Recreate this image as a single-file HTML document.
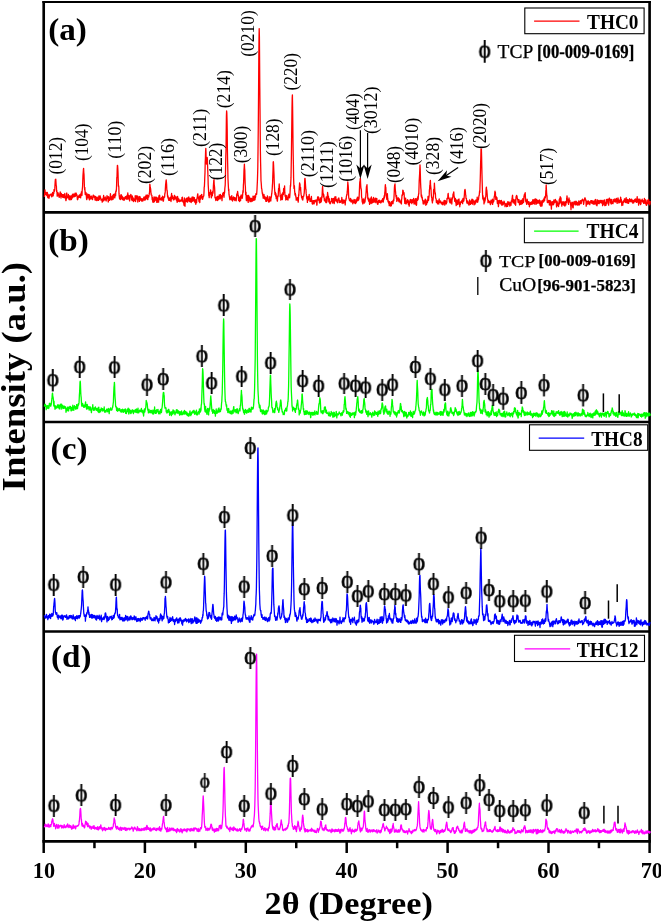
<!DOCTYPE html>
<html lang="en"><head><meta charset="utf-8"><title>XRD patterns</title>
<style>html,body{margin:0;padding:0;background:#fff;}svg{display:block;will-change:transform;}text{font-family:"Liberation Serif","DejaVu Serif",serif;fill:#000;}</style>
</head><body>
<svg width="661" height="923" viewBox="0 0 661 923">
<rect x="0" y="0" width="661" height="923" fill="#fff"/>
<g id="frame" stroke="#000" stroke-width="2.65" fill="none" stroke-linecap="butt">
<line x1="42.38" y1="2.1" x2="650.93" y2="2.1" stroke-width="2.0"/>
<line x1="42.38" y1="841.40" x2="650.93" y2="841.40"/>
<line x1="43.70" y1="1.1" x2="43.70" y2="841.40"/>
<line x1="649.60" y1="1.1" x2="649.60" y2="841.40"/>
<line x1="43.70" y1="212.30" x2="649.60" y2="212.30"/>
<line x1="43.70" y1="422.00" x2="649.60" y2="422.00"/>
<line x1="43.70" y1="631.50" x2="649.60" y2="631.50"/>
<line x1="43.70" y1="841.40" x2="43.70" y2="853.00" stroke-width="2.5"/>
<line x1="94.45" y1="841.40" x2="94.45" y2="848.20" stroke-width="2.5"/>
<line x1="144.90" y1="841.40" x2="144.90" y2="853.00" stroke-width="2.5"/>
<line x1="195.35" y1="841.40" x2="195.35" y2="848.20" stroke-width="2.5"/>
<line x1="245.80" y1="841.40" x2="245.80" y2="853.00" stroke-width="2.5"/>
<line x1="296.25" y1="841.40" x2="296.25" y2="848.20" stroke-width="2.5"/>
<line x1="346.70" y1="841.40" x2="346.70" y2="853.00" stroke-width="2.5"/>
<line x1="397.15" y1="841.40" x2="397.15" y2="848.20" stroke-width="2.5"/>
<line x1="447.60" y1="841.40" x2="447.60" y2="853.00" stroke-width="2.5"/>
<line x1="498.05" y1="841.40" x2="498.05" y2="848.20" stroke-width="2.5"/>
<line x1="548.50" y1="841.40" x2="548.50" y2="853.00" stroke-width="2.5"/>
<line x1="598.95" y1="841.40" x2="598.95" y2="848.20" stroke-width="2.5"/>
<line x1="649.60" y1="841.40" x2="649.60" y2="853.00" stroke-width="2.5"/>
</g>
<g id="curves">
<polyline fill="none" stroke="#ff0000" stroke-width="1.3" stroke-linejoin="round" points="44.4,197.0 44.6,194.2 44.8,192.5 45.0,189.8 45.2,193.2 45.4,193.5 45.6,193.3 45.8,194.7 46.0,194.7 46.2,192.4 46.4,192.4 46.6,193.6 46.8,195.6 47.0,195.3 47.2,192.4 47.4,192.8 47.6,196.2 47.8,197.7 48.0,195.3 48.2,194.4 48.4,196.7 48.6,195.4 48.8,196.9 49.0,198.3 49.2,197.0 49.4,196.0 49.6,196.5 49.8,194.6 50.0,194.8 50.2,194.4 50.4,194.7 50.6,194.4 50.8,194.7 51.0,194.6 51.2,195.2 51.4,195.3 51.6,196.0 51.8,196.8 52.0,193.3 52.2,196.3 52.4,194.4 52.6,192.5 52.8,193.9 53.0,194.9 53.2,195.8 53.4,192.8 53.6,193.9 53.8,193.2 54.0,189.7 54.2,189.6 54.4,191.4 54.6,190.4 54.8,188.4 55.0,184.7 55.2,181.4 55.4,179.4 55.6,180.5 55.8,179.2 56.0,182.6 56.2,185.8 56.4,186.0 56.6,191.5 56.8,190.5 57.0,192.6 57.2,196.2 57.4,192.5 57.6,193.0 57.8,195.9 58.0,192.6 58.2,193.2 58.4,195.1 58.6,195.5 58.8,195.7 59.0,195.8 59.2,197.3 59.4,197.0 59.6,195.8 59.8,193.7 60.0,192.9 60.2,191.8 60.4,194.9 60.6,192.6 60.8,196.5 61.0,198.0 61.2,193.8 61.4,193.6 61.6,194.6 61.8,196.3 62.0,194.3 62.2,194.9 62.4,194.6 62.6,195.5 62.8,197.4 63.0,194.7 63.2,195.8 63.4,196.7 63.6,197.1 63.8,194.7 64.0,197.7 64.2,197.5 64.4,197.8 64.6,196.2 64.8,193.5 65.0,195.1 65.2,197.6 65.4,196.8 65.6,197.0 65.8,200.1 66.0,200.7 66.2,197.9 66.4,199.1 66.6,193.4 66.8,193.0 67.0,197.3 67.2,196.7 67.4,197.7 67.6,197.7 67.8,197.0 68.0,197.9 68.2,196.8 68.4,194.5 68.6,196.8 68.8,197.8 69.0,199.5 69.2,195.7 69.4,196.5 69.6,196.3 69.8,197.2 70.0,199.8 70.2,198.1 70.4,196.5 70.6,197.4 70.8,198.0 71.0,195.6 71.2,196.8 71.4,199.7 71.6,198.9 71.8,197.0 72.0,196.1 72.2,196.0 72.4,194.5 72.6,197.8 72.8,197.4 73.0,196.3 73.2,194.0 73.4,194.7 73.6,196.6 73.8,196.2 74.0,195.0 74.2,196.4 74.4,196.7 74.6,194.2 74.8,193.7 75.0,193.1 75.2,193.1 75.4,196.1 75.6,196.2 75.8,195.4 76.0,193.1 76.2,193.2 76.4,194.8 76.6,194.9 76.8,195.5 77.0,194.9 77.2,197.3 77.4,199.6 77.6,199.7 77.8,199.3 78.0,197.2 78.2,197.7 78.4,196.3 78.6,197.6 78.8,195.9 79.0,195.3 79.2,195.4 79.4,197.4 79.6,197.1 79.8,196.3 80.0,194.4 80.2,195.5 80.4,194.2 80.6,197.8 80.8,196.1 81.0,195.8 81.2,194.7 81.4,191.9 81.6,191.8 81.8,194.0 82.0,195.3 82.2,190.2 82.4,188.2 82.6,186.1 82.8,179.7 83.0,175.0 83.2,172.6 83.4,169.7 83.6,168.3 83.8,172.6 84.0,174.3 84.2,179.8 84.4,186.7 84.6,189.8 84.8,187.4 85.0,191.0 85.2,194.5 85.4,191.9 85.6,192.4 85.8,192.4 86.0,192.6 86.2,193.8 86.4,196.6 86.6,199.2 86.8,199.6 87.0,196.8 87.2,193.8 87.4,196.4 87.6,196.9 87.8,197.9 88.0,196.8 88.2,194.8 88.4,197.1 88.6,194.3 88.8,196.1 89.0,198.3 89.2,199.1 89.4,199.9 89.6,194.8 89.8,198.0 90.0,199.2 90.2,197.9 90.4,198.6 90.6,196.6 90.8,198.8 91.0,198.6 91.2,196.1 91.4,196.2 91.6,196.8 91.8,196.6 92.0,198.8 92.2,198.3 92.4,199.7 92.6,199.4 92.8,197.4 93.0,196.4 93.2,195.1 93.4,195.1 93.6,195.5 93.8,197.0 94.0,195.7 94.2,197.0 94.4,197.3 94.6,196.4 94.8,197.2 95.0,200.0 95.2,200.1 95.4,196.5 95.6,196.7 95.8,196.7 96.0,197.4 96.2,200.1 96.4,199.5 96.6,200.3 96.8,200.6 97.0,197.4 97.2,197.2 97.4,198.0 97.6,199.3 97.8,198.1 98.0,199.1 98.2,200.3 98.4,200.3 98.6,198.8 98.8,196.4 99.0,195.8 99.2,199.7 99.4,199.1 99.6,196.9 99.8,197.3 100.0,197.2 100.2,196.0 100.4,198.4 100.6,197.6 100.8,198.5 101.0,200.1 101.2,199.3 101.4,200.0 101.6,199.9 101.8,199.3 102.0,199.8 102.2,202.1 102.4,200.0 102.6,201.5 102.8,198.6 103.0,200.3 103.2,199.6 103.4,197.4 103.6,195.5 103.8,200.8 104.0,197.8 104.2,197.6 104.4,199.3 104.6,199.6 104.8,199.7 105.0,198.5 105.2,197.0 105.4,199.8 105.6,198.0 105.8,199.3 106.0,200.4 106.2,201.0 106.4,198.9 106.6,198.3 106.8,197.9 107.0,195.7 107.2,196.8 107.4,196.8 107.6,196.9 107.8,198.9 108.0,199.1 108.2,202.0 108.4,201.4 108.6,196.6 108.8,198.3 109.0,197.6 109.2,199.5 109.4,199.5 109.6,200.3 109.8,199.6 110.0,199.7 110.2,197.3 110.4,193.7 110.6,195.1 110.8,196.0 111.0,196.4 111.2,196.5 111.4,199.9 111.6,198.3 111.8,199.4 112.0,197.9 112.2,199.6 112.4,196.1 112.6,197.4 112.8,195.3 113.0,197.9 113.2,199.1 113.4,194.4 113.6,194.8 113.8,196.6 114.0,195.7 114.2,194.3 114.4,197.5 114.6,196.7 114.8,197.9 115.0,195.9 115.2,193.1 115.4,193.9 115.6,195.7 115.8,191.2 116.0,190.9 116.2,191.3 116.4,189.7 116.6,185.0 116.8,177.5 117.0,176.9 117.2,169.2 117.4,165.4 117.6,165.5 117.8,168.2 118.0,172.3 118.2,179.3 118.4,186.3 118.6,185.7 118.8,186.8 119.0,193.4 119.2,195.6 119.4,197.4 119.6,198.9 119.8,195.9 120.0,197.0 120.2,198.2 120.4,199.6 120.6,199.0 120.8,195.8 121.0,194.7 121.2,195.9 121.4,195.0 121.6,198.5 121.8,197.0 122.0,196.4 122.2,196.3 122.4,199.7 122.6,198.3 122.8,197.1 123.0,198.4 123.2,197.9 123.4,199.1 123.6,200.0 123.8,198.0 124.0,198.8 124.2,199.2 124.4,200.1 124.6,199.3 124.8,198.0 125.0,197.1 125.2,197.9 125.4,196.6 125.6,198.7 125.8,198.4 126.0,198.6 126.2,197.0 126.4,196.1 126.6,196.5 126.8,199.3 127.0,197.8 127.2,196.8 127.4,194.9 127.6,196.1 127.8,192.8 128.0,199.0 128.2,198.1 128.4,197.6 128.6,195.5 128.8,196.2 129.0,198.8 129.2,198.3 129.4,199.4 129.6,200.9 129.8,199.4 130.0,195.5 130.2,196.1 130.4,196.3 130.6,196.3 130.8,194.5 131.0,194.7 131.2,196.8 131.4,197.9 131.6,199.4 131.8,199.0 132.0,200.5 132.2,196.0 132.4,196.2 132.6,198.8 132.8,198.3 133.0,197.6 133.2,200.3 133.4,201.5 133.6,201.5 133.8,198.9 134.0,199.1 134.2,199.5 134.4,199.6 134.6,200.6 134.8,198.7 135.0,198.7 135.2,195.7 135.4,199.8 135.6,201.5 135.8,199.4 136.0,199.6 136.2,195.9 136.4,196.8 136.6,195.8 136.8,198.4 137.0,198.7 137.2,195.9 137.4,196.3 137.6,197.9 137.8,202.0 138.0,199.1 138.2,198.8 138.4,199.3 138.6,199.2 138.8,198.0 139.0,196.4 139.2,197.9 139.4,201.4 139.6,199.8 139.8,198.1 140.0,196.7 140.2,198.6 140.4,198.9 140.6,198.4 140.8,200.2 141.0,198.5 141.2,199.0 141.4,200.6 141.6,200.2 141.8,201.0 142.0,199.1 142.2,198.6 142.4,199.8 142.6,200.0 142.8,201.2 143.0,200.1 143.2,199.2 143.4,199.8 143.6,199.7 143.8,197.1 144.0,198.0 144.2,198.4 144.4,200.2 144.6,198.4 144.8,199.5 145.0,196.6 145.2,198.1 145.4,199.8 145.6,198.5 145.8,199.3 146.0,195.2 146.2,197.6 146.4,198.4 146.6,197.5 146.8,195.9 147.0,198.0 147.2,194.9 147.4,199.0 147.6,199.2 147.8,199.7 148.0,197.5 148.2,195.7 148.4,196.1 148.6,196.2 148.8,197.0 149.0,195.0 149.2,194.4 149.4,193.2 149.6,191.4 149.8,184.2 150.0,184.7 150.2,187.2 150.4,188.5 150.6,188.5 150.8,190.8 151.0,193.2 151.2,194.9 151.4,194.9 151.6,195.1 151.8,195.1 152.0,197.1 152.2,199.7 152.4,197.3 152.6,200.1 152.8,201.9 153.0,200.2 153.2,202.4 153.4,199.7 153.6,201.4 153.8,198.8 154.0,196.9 154.2,199.6 154.4,201.8 154.6,198.7 154.8,199.1 155.0,197.1 155.2,197.2 155.4,199.2 155.6,198.9 155.8,200.1 156.0,200.7 156.2,197.1 156.4,197.3 156.6,199.4 156.8,202.4 157.0,198.9 157.2,198.0 157.4,200.0 157.6,202.1 157.8,198.4 158.0,198.1 158.2,199.0 158.4,200.7 158.6,202.2 158.8,196.9 159.0,195.7 159.2,198.6 159.4,198.9 159.6,195.1 159.8,197.3 160.0,199.8 160.2,198.2 160.4,199.1 160.6,199.1 160.8,199.6 161.0,199.3 161.2,199.2 161.4,200.0 161.6,197.6 161.8,198.4 162.0,199.6 162.2,197.2 162.4,196.8 162.6,196.2 162.8,196.7 163.0,200.9 163.2,199.8 163.4,201.1 163.6,199.4 163.8,197.7 164.0,196.9 164.2,197.3 164.4,196.9 164.6,197.1 164.8,193.7 165.0,193.4 165.2,191.9 165.4,188.0 165.6,184.7 165.8,183.0 166.0,181.0 166.2,179.9 166.4,181.7 166.6,184.3 166.8,189.1 167.0,190.6 167.2,190.5 167.4,194.1 167.6,197.0 167.8,197.0 168.0,196.0 168.2,198.5 168.4,199.0 168.6,199.4 168.8,200.4 169.0,198.0 169.2,198.7 169.4,198.1 169.6,199.9 169.8,200.4 170.0,199.5 170.2,199.2 170.4,197.2 170.6,198.4 170.8,197.0 171.0,201.5 171.2,200.0 171.4,194.9 171.6,193.5 171.8,198.8 172.0,197.0 172.2,198.0 172.4,195.9 172.6,197.3 172.8,196.9 173.0,198.4 173.2,197.9 173.4,199.9 173.6,197.6 173.8,199.8 174.0,198.6 174.2,198.5 174.4,195.3 174.6,195.4 174.8,199.2 175.0,196.9 175.2,197.7 175.4,198.0 175.6,197.5 175.8,198.7 176.0,196.6 176.2,197.2 176.4,200.2 176.6,198.7 176.8,200.6 177.0,201.3 177.2,202.3 177.4,200.1 177.6,196.5 177.8,197.7 178.0,199.0 178.2,201.4 178.4,200.3 178.6,198.9 178.8,199.9 179.0,199.2 179.2,200.4 179.4,200.4 179.6,201.6 179.8,200.9 180.0,201.5 180.2,200.4 180.4,201.0 180.6,200.2 180.8,201.2 181.0,200.7 181.2,200.0 181.4,199.6 181.6,200.0 181.8,200.4 182.0,197.4 182.2,201.1 182.4,197.2 182.6,199.6 182.8,200.4 183.0,202.0 183.2,201.5 183.4,201.0 183.6,201.4 183.8,203.4 184.0,205.3 184.2,201.8 184.4,197.8 184.6,200.0 184.8,202.7 185.0,206.3 185.2,200.7 185.4,200.2 185.6,201.6 185.8,200.9 186.0,198.8 186.2,201.0 186.4,198.3 186.6,199.6 186.8,201.6 187.0,198.1 187.2,199.4 187.4,202.2 187.6,199.5 187.8,197.8 188.0,198.8 188.2,200.5 188.4,197.4 188.6,197.9 188.8,197.0 189.0,198.1 189.2,201.7 189.4,200.2 189.6,199.5 189.8,200.4 190.0,198.7 190.2,198.3 190.4,201.8 190.6,201.5 190.8,199.0 191.0,201.2 191.2,202.5 191.4,201.1 191.6,200.2 191.8,197.7 192.0,198.3 192.2,196.8 192.4,200.6 192.6,200.0 192.8,201.3 193.0,198.9 193.2,200.2 193.4,197.1 193.6,198.6 193.8,200.5 194.0,200.5 194.2,199.3 194.4,197.6 194.6,201.8 194.8,201.9 195.0,202.5 195.2,202.2 195.4,200.0 195.6,201.5 195.8,204.3 196.0,199.7 196.2,200.2 196.4,199.8 196.6,202.6 196.8,200.3 197.0,197.8 197.2,197.8 197.4,196.2 197.6,194.3 197.8,193.8 198.0,196.7 198.2,197.1 198.4,198.6 198.6,197.7 198.8,199.6 199.0,201.5 199.2,197.1 199.4,196.7 199.6,200.7 199.8,202.6 200.0,197.4 200.2,195.4 200.4,197.3 200.6,197.9 200.8,199.0 201.0,196.6 201.2,197.2 201.4,196.8 201.6,194.5 201.8,194.6 202.0,197.8 202.2,198.0 202.4,196.4 202.6,199.4 202.8,198.7 203.0,197.4 203.2,197.0 203.4,196.3 203.6,196.3 203.8,195.5 204.0,192.2 204.2,187.0 204.4,186.6 204.6,182.1 204.8,176.7 205.0,172.5 205.2,162.2 205.4,158.5 205.6,151.3 205.8,148.3 206.0,152.3 206.2,162.1 206.4,164.0 206.6,162.1 206.8,163.6 207.0,162.8 207.2,157.3 207.4,159.5 207.6,166.3 207.8,171.5 208.0,176.6 208.2,184.8 208.4,187.7 208.6,191.3 208.8,195.6 209.0,194.8 209.2,197.7 209.4,194.5 209.6,192.8 209.8,193.1 210.0,194.0 210.2,193.5 210.4,192.5 210.6,190.0 210.8,191.3 211.0,194.1 211.2,197.0 211.4,197.8 211.6,192.6 211.8,195.1 212.0,195.4 212.2,195.8 212.4,195.5 212.6,192.8 212.8,191.1 213.0,193.1 213.2,190.7 213.4,185.8 213.6,183.1 213.8,180.2 214.0,179.6 214.2,184.6 214.4,185.7 214.6,187.7 214.8,191.9 215.0,197.7 215.2,197.9 215.4,198.2 215.6,198.8 215.8,200.5 216.0,200.2 216.2,197.3 216.4,198.3 216.6,198.3 216.8,199.6 217.0,198.7 217.2,196.3 217.4,200.5 217.6,199.3 217.8,196.5 218.0,200.1 218.2,199.4 218.4,199.3 218.6,198.6 218.8,198.4 219.0,196.8 219.2,194.9 219.4,196.5 219.6,198.1 219.8,198.3 220.0,199.1 220.2,197.3 220.4,194.4 220.6,198.2 220.8,196.4 221.0,195.3 221.2,196.4 221.4,195.6 221.6,197.6 221.8,197.0 222.0,200.6 222.2,197.6 222.4,196.3 222.6,195.4 222.8,193.1 223.0,194.6 223.2,195.1 223.4,195.0 223.6,192.3 223.8,195.5 224.0,197.3 224.2,194.1 224.4,193.4 224.6,192.6 224.8,188.9 225.0,186.8 225.2,185.2 225.4,178.0 225.6,166.8 225.8,156.2 226.0,150.4 226.2,133.5 226.4,116.2 226.6,110.9 226.8,112.5 227.0,119.0 227.2,129.4 227.4,149.5 227.6,161.0 227.8,169.8 228.0,178.8 228.2,183.1 228.4,187.0 228.6,190.8 228.8,189.1 229.0,194.4 229.2,195.5 229.4,196.7 229.6,197.9 229.8,199.5 230.0,199.8 230.2,198.8 230.4,197.1 230.6,198.4 230.8,196.9 231.0,196.4 231.2,198.8 231.4,199.5 231.6,199.9 231.8,195.6 232.0,199.2 232.2,200.1 232.4,199.7 232.6,201.0 232.8,197.9 233.0,198.9 233.2,198.2 233.4,198.2 233.6,196.9 233.8,198.2 234.0,199.6 234.2,198.9 234.4,198.7 234.6,197.7 234.8,200.5 235.0,197.7 235.2,198.4 235.4,199.3 235.6,198.5 235.8,199.5 236.0,199.2 236.2,200.8 236.4,198.7 236.6,196.8 236.8,194.0 237.0,194.8 237.2,195.0 237.4,193.3 237.6,191.3 237.8,192.6 238.0,194.6 238.2,195.8 238.4,195.5 238.6,200.5 238.8,198.7 239.0,198.5 239.2,197.9 239.4,199.1 239.6,201.5 239.8,197.5 240.0,197.0 240.2,196.4 240.4,197.7 240.6,200.5 240.8,197.6 241.0,196.6 241.2,194.8 241.4,196.8 241.6,197.9 241.8,196.7 242.0,196.7 242.2,198.3 242.4,197.5 242.6,195.4 242.8,192.6 243.0,190.5 243.2,192.2 243.4,184.9 243.6,182.9 243.8,176.5 244.0,170.1 244.2,167.6 244.4,164.1 244.6,168.3 244.8,170.2 245.0,178.2 245.2,184.8 245.4,186.8 245.6,194.5 245.8,194.8 246.0,192.1 246.2,198.5 246.4,200.7 246.6,197.7 246.8,197.7 247.0,198.2 247.2,195.5 247.4,198.6 247.6,200.2 247.8,198.7 248.0,201.4 248.2,202.4 248.4,196.0 248.6,195.3 248.8,197.7 249.0,200.2 249.2,199.9 249.4,197.6 249.6,197.0 249.8,198.4 250.0,201.7 250.2,198.3 250.4,198.6 250.6,200.9 250.8,199.1 251.0,198.3 251.2,201.7 251.4,200.4 251.6,198.4 251.8,199.0 252.0,200.8 252.2,199.2 252.4,199.9 252.6,201.1 252.8,200.5 253.0,196.1 253.2,197.3 253.4,198.0 253.6,198.9 253.8,200.1 254.0,200.3 254.2,197.3 254.4,195.8 254.6,197.3 254.8,196.9 255.0,199.8 255.2,197.8 255.4,196.8 255.6,197.3 255.8,194.3 256.0,193.7 256.2,193.6 256.4,194.3 256.6,194.4 256.8,192.1 257.0,189.5 257.2,185.0 257.4,181.3 257.6,174.7 257.8,167.3 258.0,151.8 258.2,134.8 258.4,113.8 258.6,88.7 258.8,59.5 259.0,38.4 259.2,28.6 259.4,36.5 259.6,62.3 259.8,87.3 260.0,108.8 260.2,131.7 260.4,151.7 260.6,162.6 260.8,171.2 261.0,180.8 261.2,182.7 261.4,185.5 261.6,188.8 261.8,188.7 262.0,190.8 262.2,192.5 262.4,193.9 262.6,192.9 262.8,195.8 263.0,196.2 263.2,198.3 263.4,196.3 263.6,194.9 263.8,194.8 264.0,194.5 264.2,196.4 264.4,197.3 264.6,198.8 264.8,197.7 265.0,196.7 265.2,199.2 265.4,197.8 265.6,199.0 265.8,201.3 266.0,200.8 266.2,197.7 266.4,198.7 266.6,201.3 266.8,201.1 267.0,200.5 267.2,200.0 267.4,195.8 267.6,197.6 267.8,196.7 268.0,197.8 268.2,198.9 268.4,200.7 268.6,202.0 268.8,201.5 269.0,200.3 269.2,199.6 269.4,201.8 269.6,199.9 269.8,196.6 270.0,198.9 270.2,199.7 270.4,197.7 270.6,199.3 270.8,201.0 271.0,198.2 271.2,197.5 271.4,196.7 271.6,194.4 271.8,193.5 272.0,191.1 272.2,189.2 272.4,185.4 272.6,183.0 272.8,176.1 273.0,170.4 273.2,162.0 273.4,161.7 273.6,165.4 273.8,170.4 274.0,174.4 274.2,180.9 274.4,186.2 274.6,189.2 274.8,191.8 275.0,194.6 275.2,192.9 275.4,192.4 275.6,195.2 275.8,196.4 276.0,193.7 276.2,198.7 276.4,198.1 276.6,198.0 276.8,196.1 277.0,197.6 277.2,201.0 277.4,201.1 277.6,198.4 277.8,196.1 278.0,195.7 278.2,196.3 278.4,191.5 278.6,188.5 278.8,187.9 279.0,187.4 279.2,184.0 279.4,186.7 279.6,189.2 279.8,191.1 280.0,193.1 280.2,196.6 280.4,197.0 280.6,195.4 280.8,200.1 281.0,199.5 281.2,198.9 281.4,197.9 281.6,197.1 281.8,194.2 282.0,197.5 282.2,199.6 282.4,199.3 282.6,196.2 282.8,192.7 283.0,193.5 283.2,194.4 283.4,194.6 283.6,188.6 283.8,188.5 284.0,188.8 284.2,188.7 284.4,187.8 284.6,186.0 284.8,192.9 285.0,195.1 285.2,196.5 285.4,195.1 285.6,196.7 285.8,200.0 286.0,198.2 286.2,197.6 286.4,197.2 286.6,199.3 286.8,195.4 287.0,196.6 287.2,198.4 287.4,198.2 287.6,199.3 287.8,199.1 288.0,200.0 288.2,197.4 288.4,196.9 288.6,196.7 288.8,194.1 289.0,197.7 289.2,195.1 289.4,197.4 289.6,197.8 289.8,196.1 290.0,193.2 290.2,189.4 290.4,185.3 290.6,186.2 290.8,181.9 291.0,177.9 291.2,166.2 291.4,154.9 291.6,139.1 291.8,124.0 292.0,108.0 292.2,97.9 292.4,94.9 292.6,106.4 292.8,123.5 293.0,142.3 293.2,154.9 293.4,164.7 293.6,178.0 293.8,183.7 294.0,188.4 294.2,187.4 294.4,185.6 294.6,190.6 294.8,192.6 295.0,195.0 295.2,193.2 295.4,194.1 295.6,194.5 295.8,196.9 296.0,196.6 296.2,200.2 296.4,200.2 296.6,199.9 296.8,198.4 297.0,199.0 297.2,199.7 297.4,197.7 297.6,200.1 297.8,198.9 298.0,200.7 298.2,202.2 298.4,199.8 298.6,194.7 298.8,195.8 299.0,191.9 299.2,188.8 299.4,186.1 299.6,182.8 299.8,183.8 300.0,184.1 300.2,189.0 300.4,189.8 300.6,187.4 300.8,191.2 301.0,193.3 301.2,194.9 301.4,196.0 301.6,197.8 301.8,197.3 302.0,196.3 302.2,198.8 302.4,199.7 302.6,198.7 302.8,200.0 303.0,198.6 303.2,196.5 303.4,196.1 303.6,196.2 303.8,196.0 304.0,194.1 304.2,193.1 304.4,189.9 304.6,182.6 304.8,178.5 305.0,178.4 305.2,180.0 305.4,183.2 305.6,186.3 305.8,189.2 306.0,190.0 306.2,193.9 306.4,194.7 306.6,197.5 306.8,199.0 307.0,197.2 307.2,198.6 307.4,202.4 307.6,198.2 307.8,197.5 308.0,196.5 308.2,196.6 308.4,200.0 308.6,198.1 308.8,197.6 309.0,196.6 309.2,194.5 309.4,199.2 309.6,198.5 309.8,199.4 310.0,201.5 310.2,199.6 310.4,199.7 310.6,200.3 310.8,201.4 311.0,197.8 311.2,197.8 311.4,196.3 311.6,199.6 311.8,201.1 312.0,200.4 312.2,203.8 312.4,203.3 312.6,204.1 312.8,202.1 313.0,203.5 313.2,200.6 313.4,201.3 313.6,201.0 313.8,200.7 314.0,203.9 314.2,203.4 314.4,200.5 314.6,201.9 314.8,201.4 315.0,201.5 315.2,201.9 315.4,200.4 315.6,201.2 315.8,201.2 316.0,199.8 316.2,200.0 316.4,202.0 316.6,201.7 316.8,205.2 317.0,204.6 317.2,200.1 317.4,200.1 317.6,197.0 317.8,198.4 318.0,198.5 318.2,198.2 318.4,196.8 318.6,200.2 318.8,200.5 319.0,199.2 319.2,200.4 319.4,202.5 319.6,203.0 319.8,199.3 320.0,202.0 320.2,197.7 320.4,198.2 320.6,199.6 320.8,202.5 321.0,201.3 321.2,200.9 321.4,201.5 321.6,198.6 321.8,196.5 322.0,197.5 322.2,193.1 322.4,188.5 322.6,186.4 322.8,189.5 323.0,193.4 323.2,193.4 323.4,194.1 323.6,196.7 323.8,194.6 324.0,197.7 324.2,198.1 324.4,200.8 324.6,198.7 324.8,200.7 325.0,200.4 325.2,200.3 325.4,201.2 325.6,200.6 325.8,202.5 326.0,199.7 326.2,197.0 326.4,202.2 326.6,202.6 326.8,201.0 327.0,201.4 327.2,199.3 327.4,195.3 327.6,192.5 327.8,194.1 328.0,196.5 328.2,198.2 328.4,196.2 328.6,197.9 328.8,201.9 329.0,199.4 329.2,198.7 329.4,199.3 329.6,203.2 329.8,202.8 330.0,202.9 330.2,203.9 330.4,203.1 330.6,203.1 330.8,201.7 331.0,202.0 331.2,201.7 331.4,201.1 331.6,198.3 331.8,199.1 332.0,199.0 332.2,198.6 332.4,200.1 332.6,203.0 332.8,201.9 333.0,200.3 333.2,200.7 333.4,201.7 333.6,198.4 333.8,200.6 334.0,203.2 334.2,203.6 334.4,202.1 334.6,200.6 334.8,197.0 335.0,198.3 335.2,200.0 335.4,200.9 335.6,200.3 335.8,196.6 336.0,198.9 336.2,200.5 336.4,199.3 336.6,200.2 336.8,201.6 337.0,201.5 337.2,201.4 337.4,202.4 337.6,202.8 337.8,200.4 338.0,198.8 338.2,199.1 338.4,199.7 338.6,200.0 338.8,197.9 339.0,198.8 339.2,200.3 339.4,202.7 339.6,201.7 339.8,200.6 340.0,201.8 340.2,201.1 340.4,201.2 340.6,202.4 340.8,201.5 341.0,201.2 341.2,201.8 341.4,200.2 341.6,200.2 341.8,197.5 342.0,200.3 342.2,203.5 342.4,201.2 342.6,201.1 342.8,200.4 343.0,199.8 343.2,201.9 343.4,202.0 343.6,203.0 343.8,200.4 344.0,201.1 344.2,200.7 344.4,200.7 344.6,202.7 344.8,200.2 345.0,200.5 345.2,204.9 345.4,201.5 345.6,200.4 345.8,200.7 346.0,198.5 346.2,199.2 346.4,196.4 346.6,195.6 346.8,194.4 347.0,194.9 347.2,191.7 347.4,190.3 347.6,186.9 347.8,182.0 348.0,184.1 348.2,185.5 348.4,188.8 348.6,195.1 348.8,198.2 349.0,198.0 349.2,199.2 349.4,200.1 349.6,200.7 349.8,200.6 350.0,199.1 350.2,201.0 350.4,199.3 350.6,198.4 350.8,200.1 351.0,201.3 351.2,202.2 351.4,201.7 351.6,201.1 351.8,199.9 352.0,201.3 352.2,201.4 352.4,201.2 352.6,200.4 352.8,203.8 353.0,203.1 353.2,202.6 353.4,201.5 353.6,201.2 353.8,202.4 354.0,199.5 354.2,200.3 354.4,201.2 354.6,202.4 354.8,201.8 355.0,203.3 355.2,199.7 355.4,203.7 355.6,202.8 355.8,202.9 356.0,201.1 356.2,202.6 356.4,201.0 356.6,200.8 356.8,198.6 357.0,201.1 357.2,200.2 357.4,197.1 357.6,199.1 357.8,199.5 358.0,200.5 358.2,198.3 358.4,199.2 358.6,200.0 358.8,196.8 359.0,198.9 359.2,195.1 359.4,190.8 359.6,185.4 359.8,181.6 360.0,182.5 360.2,178.7 360.4,178.5 360.6,183.6 360.8,186.8 361.0,188.7 361.2,188.7 361.4,190.9 361.6,197.2 361.8,197.7 362.0,198.7 362.2,202.0 362.4,199.6 362.6,201.0 362.8,203.9 363.0,201.7 363.2,199.3 363.4,199.2 363.6,201.7 363.8,199.0 364.0,201.8 364.2,203.2 364.4,200.8 364.6,201.4 364.8,200.7 365.0,202.0 365.2,199.8 365.4,197.5 365.6,197.9 365.8,196.3 366.0,193.2 366.2,190.9 366.4,187.1 366.6,185.9 366.8,187.0 367.0,184.7 367.2,189.5 367.4,192.1 367.6,193.9 367.8,198.8 368.0,199.2 368.2,198.1 368.4,200.0 368.6,201.1 368.8,198.1 369.0,200.3 369.2,200.6 369.4,202.2 369.6,204.4 369.8,200.6 370.0,200.0 370.2,199.2 370.4,201.4 370.6,201.6 370.8,198.0 371.0,203.4 371.2,203.5 371.4,196.9 371.6,198.0 371.8,201.5 372.0,201.8 372.2,202.9 372.4,201.3 372.6,202.5 372.8,199.2 373.0,200.9 373.2,200.0 373.4,199.2 373.6,197.5 373.8,199.8 374.0,202.4 374.2,199.8 374.4,199.9 374.6,200.3 374.8,199.0 375.0,200.8 375.2,201.5 375.4,199.8 375.6,198.1 375.8,202.7 376.0,201.4 376.2,200.9 376.4,200.5 376.6,199.6 376.8,198.4 377.0,200.8 377.2,202.0 377.4,203.7 377.6,204.3 377.8,201.6 378.0,204.1 378.2,202.6 378.4,202.5 378.6,200.5 378.8,201.8 379.0,200.7 379.2,202.3 379.4,200.1 379.6,201.4 379.8,201.3 380.0,202.3 380.2,202.3 380.4,201.8 380.6,201.1 380.8,203.0 381.0,202.4 381.2,200.5 381.4,202.1 381.6,200.5 381.8,201.1 382.0,201.0 382.2,201.1 382.4,201.7 382.6,198.6 382.8,201.7 383.0,198.6 383.2,202.2 383.4,201.1 383.6,197.8 383.8,199.4 384.0,197.8 384.2,195.7 384.4,197.8 384.6,196.1 384.8,192.5 385.0,191.2 385.2,186.4 385.4,184.7 385.6,187.6 385.8,187.4 386.0,192.3 386.2,195.7 386.4,196.3 386.6,197.6 386.8,199.3 387.0,199.5 387.2,197.4 387.4,193.7 387.6,197.8 387.8,198.3 388.0,201.8 388.2,200.7 388.4,201.8 388.6,203.1 388.8,203.3 389.0,201.4 389.2,205.6 389.4,204.6 389.6,203.4 389.8,201.8 390.0,205.7 390.2,204.7 390.4,204.6 390.6,203.1 390.8,206.2 391.0,205.6 391.2,203.6 391.4,205.5 391.6,201.7 391.8,203.7 392.0,203.9 392.2,203.4 392.4,201.1 392.6,201.5 392.8,203.7 393.0,203.7 393.2,201.4 393.4,200.1 393.6,199.4 393.8,200.7 394.0,197.0 394.2,193.2 394.4,188.1 394.6,185.6 394.8,184.8 395.0,183.9 395.2,188.0 395.4,190.7 395.6,192.0 395.8,194.9 396.0,196.6 396.2,195.7 396.4,198.7 396.6,195.7 396.8,201.4 397.0,197.8 397.2,199.1 397.4,199.2 397.6,199.9 397.8,198.7 398.0,199.9 398.2,197.7 398.4,200.6 398.6,200.0 398.8,201.1 399.0,201.8 399.2,198.7 399.4,199.1 399.6,199.4 399.8,200.6 400.0,201.6 400.2,202.5 400.4,201.7 400.6,201.2 400.8,202.3 401.0,203.2 401.2,203.4 401.4,204.0 401.6,199.5 401.8,198.6 402.0,195.3 402.2,194.7 402.4,195.5 402.6,194.4 402.8,190.2 403.0,190.4 403.2,190.8 403.4,192.9 403.6,194.2 403.8,194.1 404.0,192.6 404.2,195.1 404.4,199.2 404.6,200.3 404.8,203.4 405.0,201.3 405.2,201.6 405.4,198.5 405.6,198.1 405.8,201.3 406.0,204.0 406.2,202.3 406.4,201.1 406.6,202.3 406.8,203.0 407.0,202.7 407.2,201.7 407.4,199.9 407.6,199.7 407.8,200.8 408.0,201.3 408.2,200.5 408.4,204.5 408.6,203.4 408.8,201.6 409.0,203.9 409.2,206.2 409.4,203.2 409.6,202.7 409.8,203.2 410.0,199.8 410.2,200.2 410.4,200.6 410.6,202.3 410.8,199.4 411.0,201.6 411.2,201.0 411.4,201.0 411.6,201.3 411.8,203.7 412.0,200.4 412.2,199.6 412.4,201.6 412.6,201.0 412.8,202.3 413.0,201.8 413.2,201.8 413.4,201.3 413.6,198.3 413.8,198.6 414.0,204.0 414.2,200.7 414.4,201.9 414.6,200.1 414.8,201.2 415.0,201.8 415.2,204.0 415.4,201.3 415.6,198.6 415.8,198.8 416.0,201.7 416.2,203.4 416.4,205.4 416.6,204.6 416.8,199.0 417.0,199.4 417.2,198.2 417.4,200.2 417.6,200.4 417.8,196.6 418.0,199.5 418.2,199.0 418.4,195.8 418.6,193.7 418.8,194.1 419.0,187.6 419.2,180.8 419.4,177.5 419.6,174.3 419.8,169.6 420.0,164.8 420.2,168.7 420.4,176.2 420.6,183.1 420.8,187.6 421.0,189.8 421.2,195.8 421.4,197.0 421.6,194.9 421.8,196.5 422.0,198.3 422.2,197.1 422.4,199.6 422.6,200.4 422.8,200.0 423.0,202.1 423.2,203.8 423.4,200.6 423.6,201.4 423.8,201.0 424.0,204.0 424.2,203.8 424.4,201.5 424.6,200.6 424.8,202.4 425.0,201.2 425.2,199.1 425.4,199.3 425.6,201.6 425.8,205.3 426.0,204.4 426.2,204.3 426.4,203.8 426.6,204.4 426.8,203.8 427.0,200.1 427.2,201.9 427.4,202.4 427.6,202.0 427.8,200.7 428.0,196.5 428.2,199.2 428.4,198.0 428.6,200.3 428.8,198.0 429.0,196.8 429.2,194.9 429.4,190.0 429.6,189.2 429.8,185.4 430.0,185.3 430.2,181.2 430.4,180.4 430.6,186.0 430.8,187.0 431.0,188.9 431.2,193.0 431.4,195.6 431.6,197.5 431.8,197.3 432.0,200.8 432.2,201.1 432.4,202.9 432.6,201.0 432.8,198.5 433.0,200.3 433.2,197.9 433.4,195.7 433.6,189.7 433.8,189.2 434.0,191.4 434.2,188.5 434.4,183.1 434.6,186.8 434.8,190.3 435.0,193.9 435.2,192.6 435.4,193.6 435.6,198.1 435.8,198.3 436.0,198.7 436.2,199.4 436.4,202.4 436.6,200.4 436.8,202.7 437.0,202.3 437.2,200.7 437.4,203.1 437.6,203.9 437.8,202.3 438.0,201.5 438.2,202.4 438.4,200.8 438.6,202.8 438.8,204.0 439.0,199.6 439.2,198.9 439.4,202.4 439.6,200.9 439.8,201.4 440.0,202.3 440.2,201.6 440.4,202.3 440.6,201.0 440.8,201.5 441.0,202.7 441.2,203.6 441.4,202.5 441.6,203.5 441.8,204.1 442.0,203.8 442.2,203.1 442.4,204.5 442.6,202.1 442.8,204.3 443.0,204.7 443.2,204.0 443.4,202.2 443.6,203.9 443.8,203.1 444.0,200.6 444.2,201.1 444.4,200.3 444.6,203.1 444.8,205.2 445.0,204.3 445.2,201.0 445.4,200.7 445.6,202.0 445.8,202.6 446.0,203.7 446.2,202.6 446.4,203.8 446.6,201.7 446.8,202.4 447.0,198.4 447.2,198.3 447.4,198.7 447.6,198.8 447.8,197.1 448.0,193.9 448.2,193.4 448.4,196.3 448.6,197.5 448.8,198.1 449.0,198.9 449.2,198.1 449.4,201.2 449.6,202.2 449.8,199.5 450.0,199.7 450.2,203.0 450.4,202.9 450.6,199.8 450.8,199.0 451.0,198.0 451.2,201.1 451.4,201.3 451.6,201.5 451.8,204.0 452.0,200.4 452.2,199.2 452.4,198.7 452.6,197.3 452.8,197.5 453.0,194.2 453.2,193.7 453.4,196.0 453.6,192.2 453.8,192.0 454.0,195.5 454.2,196.3 454.4,197.6 454.6,200.2 454.8,201.4 455.0,198.7 455.2,199.8 455.4,198.4 455.6,202.2 455.8,200.7 456.0,203.3 456.2,205.6 456.4,205.1 456.6,202.7 456.8,199.8 457.0,204.6 457.2,202.5 457.4,203.4 457.6,201.7 457.8,202.4 458.0,204.4 458.2,199.8 458.4,199.7 458.6,201.8 458.8,203.1 459.0,199.0 459.2,203.3 459.4,202.1 459.6,204.0 459.8,206.8 460.0,204.1 460.2,204.4 460.4,204.5 460.6,202.0 460.8,202.1 461.0,201.8 461.2,202.2 461.4,201.4 461.6,200.8 461.8,201.0 462.0,202.5 462.2,200.0 462.4,202.0 462.6,203.6 462.8,199.2 463.0,198.4 463.2,201.6 463.4,199.8 463.6,199.4 463.8,201.0 464.0,199.7 464.2,196.7 464.4,194.7 464.6,191.0 464.8,189.9 465.0,189.4 465.2,190.0 465.4,191.5 465.6,195.0 465.8,195.1 466.0,198.3 466.2,198.9 466.4,198.3 466.6,201.1 466.8,202.3 467.0,203.2 467.2,203.2 467.4,202.3 467.6,200.8 467.8,201.7 468.0,203.0 468.2,203.9 468.4,204.1 468.6,203.5 468.8,204.1 469.0,205.1 469.2,203.1 469.4,201.2 469.6,200.0 469.8,202.2 470.0,203.3 470.2,202.5 470.4,204.4 470.6,201.3 470.8,201.5 471.0,201.8 471.2,200.6 471.4,203.3 471.6,201.0 471.8,199.5 472.0,199.2 472.2,203.5 472.4,204.2 472.6,200.5 472.8,199.3 473.0,200.8 473.2,201.6 473.4,201.2 473.6,202.1 473.8,200.8 474.0,204.8 474.2,203.2 474.4,203.2 474.6,201.5 474.8,203.4 475.0,204.2 475.2,200.8 475.4,201.6 475.6,203.1 475.8,202.0 476.0,199.8 476.2,200.3 476.4,201.9 476.6,201.5 476.8,200.0 477.0,200.3 477.2,197.1 477.4,200.2 477.6,202.3 477.8,201.9 478.0,199.7 478.2,200.1 478.4,199.9 478.6,198.8 478.8,196.9 479.0,195.3 479.2,195.5 479.4,193.2 479.6,190.8 479.8,192.6 480.0,185.5 480.2,180.6 480.4,173.5 480.6,163.8 480.8,157.9 481.0,149.0 481.2,150.9 481.4,149.1 481.6,156.3 481.8,166.4 482.0,175.0 482.2,182.6 482.4,190.1 482.6,195.2 482.8,198.6 483.0,195.6 483.2,199.4 483.4,200.1 483.6,198.5 483.8,198.1 484.0,203.9 484.2,202.3 484.4,198.1 484.6,202.3 484.8,201.4 485.0,200.5 485.2,200.3 485.4,197.4 485.6,196.8 485.8,196.5 486.0,191.2 486.2,188.1 486.4,187.1 486.6,190.7 486.8,189.9 487.0,192.4 487.2,194.8 487.4,198.3 487.6,199.3 487.8,199.0 488.0,202.7 488.2,202.2 488.4,201.8 488.6,200.7 488.8,200.8 489.0,201.2 489.2,201.9 489.4,202.7 489.6,202.6 489.8,201.6 490.0,201.9 490.2,203.5 490.4,204.6 490.6,204.5 490.8,202.0 491.0,200.1 491.2,202.1 491.4,202.5 491.6,202.6 491.8,202.9 492.0,201.6 492.2,201.5 492.4,199.1 492.6,204.4 492.8,202.7 493.0,201.7 493.2,202.5 493.4,201.0 493.6,199.9 493.8,201.3 494.0,199.2 494.2,196.6 494.4,196.8 494.6,194.8 494.8,192.7 495.0,191.2 495.2,193.2 495.4,192.4 495.6,196.7 495.8,199.4 496.0,197.2 496.2,198.7 496.4,197.0 496.6,199.3 496.8,197.5 497.0,198.4 497.2,201.5 497.4,203.5 497.6,202.8 497.8,201.4 498.0,200.7 498.2,202.7 498.4,206.7 498.6,205.1 498.8,200.6 499.0,200.6 499.2,200.4 499.4,203.2 499.6,202.1 499.8,200.3 500.0,202.0 500.2,201.7 500.4,200.9 500.6,202.3 500.8,203.9 501.0,201.5 501.2,201.5 501.4,200.3 501.6,202.2 501.8,205.2 502.0,204.0 502.2,201.8 502.4,202.2 502.6,204.8 502.8,203.1 503.0,202.6 503.2,204.7 503.4,202.7 503.6,202.1 503.8,203.3 504.0,201.2 504.2,202.0 504.4,202.0 504.6,203.4 504.8,203.9 505.0,206.6 505.2,205.2 505.4,204.0 505.6,204.5 505.8,203.6 506.0,204.3 506.2,205.0 506.4,205.3 506.6,206.6 506.8,205.2 507.0,203.2 507.2,203.9 507.4,203.0 507.6,206.4 507.8,201.6 508.0,203.3 508.2,204.3 508.4,202.3 508.6,203.0 508.8,204.6 509.0,202.0 509.2,204.2 509.4,202.9 509.6,202.9 509.8,206.2 510.0,204.8 510.2,203.5 510.4,202.3 510.6,202.6 510.8,202.8 511.0,205.3 511.2,202.8 511.4,200.6 511.6,200.7 511.8,201.3 512.0,198.7 512.2,197.8 512.4,195.7 512.6,195.3 512.8,201.9 513.0,200.3 513.2,203.0 513.4,202.1 513.6,201.2 513.8,199.5 514.0,201.1 514.2,201.6 514.4,200.5 514.6,203.0 514.8,204.1 515.0,202.9 515.2,201.5 515.4,199.5 515.6,205.3 515.8,202.3 516.0,197.7 516.2,196.3 516.4,196.1 516.6,195.3 516.8,196.4 517.0,196.0 517.2,198.1 517.4,198.6 517.6,199.5 517.8,199.3 518.0,201.9 518.2,202.5 518.4,200.7 518.6,199.7 518.8,201.7 519.0,199.6 519.2,201.0 519.4,203.6 519.6,204.8 519.8,202.7 520.0,203.4 520.2,204.4 520.4,201.0 520.6,201.4 520.8,203.1 521.0,204.1 521.2,200.3 521.4,200.1 521.6,203.7 521.8,204.1 522.0,201.4 522.2,202.2 522.4,203.4 522.6,201.2 522.8,198.6 523.0,201.6 523.2,202.6 523.4,199.8 523.6,202.3 523.8,199.3 524.0,195.9 524.2,197.0 524.4,194.2 524.6,196.9 524.8,195.9 525.0,196.6 525.2,192.6 525.4,196.4 525.6,200.7 525.8,201.7 526.0,201.6 526.2,201.7 526.4,202.7 526.6,203.9 526.8,204.4 527.0,199.1 527.2,199.4 527.4,200.7 527.6,202.3 527.8,202.7 528.0,201.7 528.2,202.3 528.4,204.0 528.6,204.4 528.8,201.6 529.0,202.0 529.2,203.6 529.4,206.8 529.6,202.8 529.8,203.4 530.0,203.2 530.2,202.8 530.4,204.6 530.6,203.3 530.8,202.4 531.0,203.3 531.2,203.4 531.4,201.9 531.6,202.0 531.8,204.4 532.0,202.6 532.2,204.1 532.4,202.5 532.6,200.9 532.8,199.9 533.0,199.6 533.2,203.2 533.4,203.5 533.6,201.5 533.8,200.2 534.0,201.0 534.2,202.6 534.4,204.0 534.6,200.9 534.8,199.2 535.0,201.8 535.2,201.3 535.4,200.0 535.6,199.0 535.8,203.0 536.0,204.4 536.2,200.7 536.4,199.5 536.6,201.0 536.8,202.1 537.0,203.4 537.2,202.5 537.4,200.1 537.6,202.7 537.8,203.2 538.0,202.1 538.2,202.7 538.4,200.6 538.6,201.3 538.8,200.4 539.0,202.5 539.2,203.3 539.4,199.8 539.6,202.3 539.8,204.0 540.0,203.8 540.2,205.4 540.4,203.8 540.6,206.2 540.8,203.1 541.0,200.7 541.2,201.8 541.4,201.8 541.6,204.8 541.8,206.1 542.0,206.0 542.2,204.1 542.4,202.1 542.6,200.8 542.8,200.2 543.0,202.3 543.2,199.9 543.4,200.9 543.6,201.9 543.8,201.7 544.0,198.5 544.2,197.9 544.4,198.4 544.6,200.6 544.8,197.3 545.0,196.5 545.2,197.9 545.4,197.4 545.6,196.3 545.8,191.3 546.0,189.4 546.2,185.0 546.4,189.4 546.6,192.8 546.8,195.2 547.0,195.8 547.2,200.7 547.4,202.7 547.6,201.2 547.8,201.5 548.0,201.4 548.2,201.9 548.4,202.3 548.6,200.5 548.8,200.5 549.0,202.4 549.2,202.9 549.4,205.0 549.6,203.3 549.8,201.5 550.0,200.4 550.2,202.2 550.4,201.3 550.6,201.0 550.8,205.5 551.0,201.6 551.2,206.6 551.4,209.1 551.6,204.5 551.8,202.9 552.0,204.0 552.2,202.0 552.4,203.4 552.6,204.0 552.8,201.7 553.0,205.0 553.2,203.5 553.4,203.6 553.6,204.4 553.8,200.2 554.0,200.0 554.2,202.5 554.4,202.9 554.6,201.9 554.8,201.8 555.0,201.4 555.2,200.0 555.4,199.4 555.6,200.5 555.8,202.3 556.0,202.6 556.2,201.0 556.4,205.5 556.6,206.9 556.8,203.3 557.0,201.2 557.2,202.3 557.4,203.8 557.6,203.4 557.8,205.6 558.0,203.1 558.2,204.2 558.4,204.4 558.6,206.5 558.8,203.9 559.0,202.6 559.2,200.1 559.4,199.6 559.6,198.6 559.8,203.8 560.0,198.8 560.2,196.7 560.4,197.2 560.6,198.8 560.8,199.5 561.0,197.8 561.2,202.8 561.4,202.6 561.6,203.2 561.8,206.1 562.0,204.1 562.2,202.0 562.4,202.1 562.6,204.6 562.8,204.0 563.0,203.5 563.2,201.6 563.4,203.2 563.6,202.2 563.8,202.4 564.0,205.4 564.2,204.2 564.4,203.3 564.6,205.4 564.8,206.1 565.0,201.6 565.2,204.2 565.4,203.6 565.6,203.1 565.8,205.0 566.0,203.7 566.2,201.3 566.4,202.5 566.6,199.8 566.8,198.2 567.0,195.9 567.2,197.9 567.4,199.5 567.6,199.0 567.8,200.5 568.0,203.0 568.2,201.4 568.4,201.2 568.6,204.4 568.8,200.8 569.0,197.8 569.2,199.5 569.4,201.3 569.6,200.2 569.8,200.4 570.0,201.7 570.2,202.5 570.4,202.7 570.6,203.5 570.8,206.2 571.0,209.6 571.2,206.8 571.4,204.9 571.6,202.8 571.8,203.3 572.0,202.1 572.2,203.0 572.4,202.3 572.6,205.8 572.8,207.7 573.0,206.7 573.2,207.8 573.4,202.8 573.6,204.4 573.8,203.4 574.0,203.1 574.2,201.4 574.4,202.6 574.6,202.6 574.8,202.2 575.0,204.8 575.2,204.9 575.4,204.9 575.6,202.2 575.8,201.3 576.0,201.1 576.2,204.2 576.4,204.8 576.6,203.0 576.8,201.9 577.0,203.1 577.2,204.1 577.4,204.0 577.6,203.2 577.8,205.3 578.0,205.3 578.2,202.3 578.4,203.4 578.6,203.0 578.8,200.9 579.0,201.9 579.2,203.8 579.4,204.9 579.6,202.2 579.8,202.1 580.0,202.4 580.2,201.7 580.4,200.6 580.6,203.6 580.8,202.7 581.0,203.4 581.2,203.6 581.4,201.5 581.6,200.2 581.8,200.5 582.0,200.6 582.2,200.2 582.4,200.5 582.6,199.1 582.8,200.1 583.0,200.4 583.2,201.7 583.4,202.6 583.6,204.4 583.8,203.4 584.0,201.7 584.2,199.8 584.4,199.2 584.6,199.0 584.8,198.0 585.0,198.3 585.2,198.0 585.4,200.1 585.6,199.3 585.8,200.1 586.0,201.6 586.2,206.2 586.4,203.7 586.6,203.8 586.8,201.1 587.0,203.1 587.2,202.8 587.4,204.1 587.6,202.2 587.8,201.2 588.0,203.8 588.2,202.9 588.4,200.8 588.6,202.1 588.8,201.7 589.0,203.9 589.2,203.5 589.4,203.3 589.6,202.0 589.8,204.7 590.0,202.5 590.2,203.1 590.4,202.5 590.6,202.4 590.8,200.7 591.0,202.4 591.2,202.7 591.4,200.7 591.6,203.2 591.8,200.7 592.0,200.6 592.2,201.2 592.4,203.5 592.6,201.4 592.8,201.3 593.0,202.6 593.2,203.0 593.4,204.1 593.6,202.0 593.8,201.2 594.0,201.0 594.2,201.5 594.4,204.0 594.6,204.0 594.8,202.6 595.0,202.0 595.2,199.7 595.4,203.8 595.6,203.3 595.8,199.4 596.0,201.2 596.2,202.9 596.4,205.1 596.6,203.9 596.8,205.2 597.0,205.8 597.2,203.9 597.4,200.7 597.6,199.9 597.8,201.8 598.0,203.7 598.2,202.9 598.4,200.6 598.6,202.8 598.8,200.9 599.0,201.6 599.2,203.7 599.4,202.4 599.6,200.9 599.8,200.5 600.0,201.8 600.2,202.2 600.4,201.3 600.6,200.5 600.8,202.5 601.0,202.9 601.2,200.5 601.4,202.4 601.6,201.1 601.8,201.7 602.0,203.2 602.2,200.5 602.4,202.3 602.6,205.6 602.8,205.2 603.0,201.7 603.2,201.0 603.4,204.4 603.6,203.5 603.8,202.6 604.0,200.1 604.2,201.6 604.4,199.8 604.6,202.1 604.8,205.7 605.0,205.5 605.2,205.4 605.4,203.0 605.6,202.8 605.8,202.4 606.0,205.3 606.2,201.5 606.4,199.5 606.6,201.3 606.8,203.6 607.0,201.7 607.2,201.8 607.4,199.5 607.6,200.0 607.8,199.1 608.0,199.4 608.2,201.1 608.4,203.2 608.6,205.2 608.8,202.7 609.0,199.3 609.2,198.5 609.4,198.1 609.6,200.0 609.8,199.2 610.0,199.7 610.2,199.3 610.4,202.9 610.6,201.0 610.8,201.8 611.0,201.3 611.2,204.0 611.4,199.4 611.6,201.8 611.8,203.5 612.0,201.8 612.2,202.8 612.4,201.8 612.6,203.1 612.8,202.2 613.0,203.7 613.2,199.5 613.4,201.8 613.6,200.5 613.8,200.4 614.0,201.7 614.2,199.9 614.4,199.7 614.6,201.2 614.8,199.0 615.0,200.2 615.2,202.0 615.4,199.9 615.6,201.9 615.8,199.2 616.0,200.6 616.2,200.2 616.4,198.4 616.6,200.8 616.8,198.8 617.0,202.9 617.2,203.4 617.4,200.0 617.6,200.4 617.8,199.9 618.0,197.9 618.2,198.8 618.4,200.4 618.6,201.2 618.8,202.8 619.0,200.4 619.2,200.1 619.4,202.3 619.6,202.6 619.8,201.2 620.0,201.4 620.2,200.4 620.4,200.2 620.6,197.2 620.8,198.0 621.0,202.1 621.2,200.3 621.4,199.6 621.6,202.7 621.8,205.5 622.0,204.1 622.2,202.6 622.4,202.3 622.6,205.2 622.8,205.2 623.0,202.5 623.2,201.1 623.4,201.9 623.6,202.5 623.8,201.4 624.0,200.5 624.2,199.9 624.4,198.8 624.6,200.7 624.8,201.5 625.0,199.0 625.2,199.9 625.4,202.5 625.6,200.4 625.8,201.3 626.0,198.9 626.2,197.7 626.4,201.3 626.6,202.3 626.8,201.5 627.0,201.4 627.2,203.2 627.4,200.5 627.6,199.4 627.8,201.2 628.0,202.6 628.2,201.9 628.4,203.0 628.6,203.4 628.8,199.9 629.0,200.2 629.2,200.5 629.4,201.2 629.6,198.7 629.8,201.6 630.0,199.2 630.2,201.2 630.4,200.6 630.6,200.5 630.8,201.6 631.0,199.6 631.2,201.7 631.4,200.4 631.6,199.1 631.8,201.9 632.0,199.6 632.2,201.5 632.4,200.4 632.6,200.6 632.8,203.1 633.0,201.6 633.2,200.7 633.4,201.9 633.6,200.6 633.8,202.8 634.0,200.2 634.2,201.0 634.4,200.0 634.6,201.3 634.8,199.4 635.0,200.5 635.2,201.5 635.4,198.8 635.6,200.3 635.8,201.4 636.0,200.2 636.2,200.6 636.4,202.4 636.6,202.3 636.8,198.6 637.0,198.4 637.2,196.7 637.4,200.6 637.6,202.0 637.8,199.7 638.0,199.2 638.2,201.5 638.4,201.3 638.6,205.1 638.8,203.9 639.0,199.1 639.2,202.2 639.4,203.1 639.6,202.9 639.8,201.3 640.0,199.2 640.2,201.1 640.4,201.4 640.6,204.6 640.8,203.6 641.0,203.6 641.2,200.4 641.4,201.3 641.6,201.0 641.8,200.0 642.0,200.1 642.2,199.1 642.4,201.1 642.6,200.3 642.8,201.8 643.0,202.4 643.2,201.3 643.4,200.9 643.6,203.3 643.8,203.4 644.0,201.8 644.2,202.8 644.4,198.3 644.6,201.8 644.8,203.1 645.0,201.8 645.2,199.6 645.4,202.1 645.6,203.9 645.8,202.6 646.0,200.2 646.2,202.4 646.4,205.4 646.6,205.2 646.8,204.8 647.0,202.6 647.2,203.1 647.4,202.1 647.6,201.4 647.8,200.1 648.0,201.9 648.2,203.7 648.4,202.0 648.6,199.3 648.8,202.2 649.0,200.8 649.2,202.6 649.4,201.9 649.6,204.8 649.8,203.2 650.0,204.0 650.2,201.0"/>
<polyline fill="none" stroke="#00ff00" stroke-width="1.3" stroke-linejoin="round" points="44.4,406.7 44.6,405.5 44.8,405.8 45.0,404.2 45.2,406.3 45.4,404.3 45.6,405.7 45.8,405.8 46.0,405.8 46.2,409.6 46.4,406.4 46.6,407.1 46.8,407.7 47.0,405.6 47.2,408.0 47.4,407.2 47.6,407.9 47.8,405.7 48.0,405.7 48.2,408.5 48.4,408.1 48.6,407.6 48.8,408.1 49.0,407.7 49.2,405.1 49.4,403.4 49.6,403.7 49.8,403.5 50.0,403.2 50.2,405.1 50.4,405.7 50.6,406.2 50.8,406.2 51.0,405.1 51.2,404.5 51.4,403.7 51.6,401.0 51.8,399.5 52.0,398.2 52.2,395.1 52.4,393.2 52.6,393.5 52.8,396.2 53.0,396.8 53.2,397.9 53.4,399.6 53.6,402.7 53.8,405.9 54.0,401.2 54.2,405.3 54.4,406.5 54.6,407.0 54.8,405.6 55.0,409.3 55.2,408.5 55.4,407.0 55.6,406.8 55.8,406.0 56.0,406.7 56.2,407.0 56.4,408.2 56.6,407.6 56.8,407.0 57.0,407.8 57.2,407.7 57.4,406.7 57.6,404.9 57.8,407.2 58.0,405.0 58.2,404.9 58.4,406.3 58.6,407.5 58.8,408.1 59.0,405.1 59.2,408.5 59.4,409.0 59.6,406.4 59.8,406.1 60.0,405.7 60.2,405.4 60.4,404.4 60.6,404.2 60.8,406.2 61.0,407.7 61.2,409.2 61.4,405.7 61.6,404.1 61.8,406.7 62.0,406.8 62.2,407.6 62.4,406.6 62.6,405.5 62.8,406.5 63.0,408.6 63.2,408.0 63.4,406.8 63.6,408.4 63.8,406.1 64.0,407.0 64.2,407.9 64.4,406.1 64.6,406.3 64.8,408.0 65.0,408.2 65.2,407.9 65.4,407.4 65.6,406.8 65.8,408.1 66.0,412.3 66.2,409.1 66.4,410.4 66.6,408.8 66.8,410.8 67.0,410.9 67.2,409.5 67.4,407.7 67.6,407.1 67.8,409.3 68.0,407.0 68.2,407.1 68.4,410.7 68.6,411.0 68.8,409.0 69.0,408.1 69.2,407.7 69.4,408.7 69.6,407.6 69.8,406.3 70.0,407.2 70.2,408.3 70.4,406.3 70.6,406.9 70.8,408.9 71.0,410.8 71.2,409.2 71.4,409.1 71.6,410.7 71.8,407.3 72.0,407.4 72.2,409.6 72.4,410.1 72.6,408.6 72.8,405.2 73.0,408.8 73.2,409.4 73.4,408.8 73.6,409.6 73.8,410.4 74.0,408.5 74.2,406.6 74.4,405.7 74.6,407.7 74.8,407.2 75.0,407.0 75.2,406.6 75.4,408.4 75.6,409.2 75.8,408.5 76.0,406.8 76.2,408.9 76.4,407.8 76.6,404.7 76.8,407.3 77.0,404.7 77.2,405.7 77.4,408.6 77.6,408.2 77.8,406.0 78.0,405.4 78.2,406.0 78.4,403.5 78.6,404.9 78.8,403.7 79.0,402.9 79.2,399.3 79.4,394.8 79.6,392.3 79.8,387.5 80.0,382.4 80.2,381.1 80.4,383.1 80.6,388.3 80.8,393.5 81.0,396.1 81.2,397.7 81.4,401.2 81.6,404.6 81.8,406.2 82.0,404.7 82.2,406.1 82.4,405.4 82.6,403.4 82.8,404.4 83.0,405.8 83.2,406.2 83.4,406.4 83.6,406.4 83.8,407.4 84.0,405.7 84.2,405.0 84.4,407.2 84.6,406.3 84.8,407.1 85.0,405.3 85.2,406.4 85.4,402.8 85.6,402.0 85.8,404.7 86.0,406.4 86.2,404.5 86.4,407.9 86.6,409.1 86.8,408.4 87.0,406.8 87.2,404.5 87.4,405.2 87.6,406.9 87.8,408.8 88.0,408.2 88.2,407.7 88.4,408.1 88.6,406.6 88.8,408.5 89.0,407.9 89.2,410.2 89.4,409.1 89.6,407.7 89.8,407.5 90.0,406.6 90.2,408.4 90.4,407.5 90.6,408.8 90.8,410.5 91.0,409.8 91.2,410.3 91.4,412.7 91.6,410.8 91.8,410.5 92.0,408.5 92.2,407.3 92.4,408.5 92.6,406.6 92.8,404.7 93.0,408.9 93.2,409.2 93.4,407.9 93.6,410.3 93.8,409.0 94.0,408.1 94.2,407.9 94.4,410.2 94.6,408.7 94.8,408.3 95.0,408.3 95.2,407.7 95.4,406.8 95.6,407.9 95.8,408.4 96.0,410.0 96.2,408.4 96.4,410.3 96.6,409.2 96.8,408.7 97.0,409.6 97.2,410.1 97.4,410.4 97.6,411.0 97.8,410.2 98.0,408.0 98.2,409.3 98.4,412.1 98.6,409.8 98.8,407.1 99.0,410.1 99.2,412.6 99.4,412.0 99.6,410.4 99.8,410.4 100.0,410.8 100.2,409.7 100.4,409.6 100.6,411.8 100.8,410.1 101.0,410.8 101.2,408.0 101.4,408.3 101.6,408.4 101.8,410.1 102.0,409.1 102.2,408.7 102.4,408.6 102.6,410.1 102.8,411.0 103.0,409.5 103.2,410.4 103.4,409.7 103.6,409.0 103.8,410.3 104.0,410.8 104.2,406.8 104.4,410.4 104.6,412.2 104.8,410.2 105.0,411.1 105.2,411.5 105.4,411.0 105.6,410.8 105.8,412.1 106.0,412.0 106.2,410.9 106.4,410.9 106.6,409.2 106.8,409.8 107.0,410.3 107.2,410.0 107.4,409.6 107.6,411.8 107.8,411.1 108.0,410.8 108.2,408.4 108.4,408.8 108.6,408.8 108.8,409.9 109.0,412.6 109.2,413.6 109.4,410.7 109.6,410.0 109.8,409.1 110.0,408.8 110.2,410.2 110.4,408.6 110.6,407.8 110.8,409.5 111.0,409.0 111.2,409.3 111.4,409.5 111.6,410.2 111.8,409.8 112.0,409.7 112.2,408.1 112.4,407.5 112.6,407.5 112.8,406.5 113.0,405.2 113.2,403.4 113.4,402.1 113.6,395.6 113.8,391.3 114.0,387.0 114.2,385.2 114.4,382.3 114.6,384.5 114.8,392.1 115.0,396.5 115.2,399.2 115.4,401.4 115.6,406.0 115.8,406.8 116.0,406.2 116.2,406.8 116.4,407.7 116.6,410.4 116.8,408.9 117.0,407.7 117.2,408.8 117.4,411.3 117.6,410.9 117.8,409.1 118.0,408.4 118.2,409.4 118.4,410.7 118.6,410.0 118.8,409.9 119.0,410.5 119.2,409.8 119.4,408.9 119.6,408.5 119.8,409.1 120.0,409.8 120.2,411.1 120.4,410.9 120.6,410.2 120.8,411.9 121.0,409.9 121.2,411.6 121.4,409.6 121.6,410.4 121.8,412.1 122.0,412.0 122.2,409.9 122.4,410.3 122.6,409.2 122.8,410.2 123.0,410.9 123.2,410.3 123.4,412.4 123.6,411.6 123.8,411.2 124.0,409.7 124.2,410.0 124.4,410.8 124.6,411.7 124.8,411.3 125.0,409.7 125.2,408.8 125.4,409.2 125.6,413.3 125.8,413.0 126.0,412.8 126.2,411.4 126.4,413.5 126.6,412.1 126.8,411.3 127.0,410.0 127.2,409.3 127.4,411.7 127.6,411.5 127.8,410.9 128.0,409.0 128.2,408.1 128.4,409.6 128.6,412.8 128.8,414.0 129.0,411.0 129.2,410.4 129.4,409.1 129.6,409.8 129.8,411.5 130.0,410.6 130.2,411.8 130.4,413.2 130.6,411.4 130.8,410.5 131.0,413.7 131.2,412.9 131.4,412.1 131.6,412.0 131.8,411.6 132.0,412.0 132.2,409.9 132.4,410.8 132.6,409.9 132.8,411.2 133.0,412.2 133.2,411.8 133.4,413.6 133.6,411.5 133.8,410.4 134.0,411.6 134.2,411.7 134.4,411.8 134.6,411.4 134.8,411.5 135.0,412.1 135.2,409.7 135.4,411.8 135.6,410.9 135.8,411.0 136.0,410.7 136.2,412.5 136.4,408.9 136.6,409.4 136.8,410.9 137.0,412.1 137.2,410.2 137.4,412.2 137.6,412.9 137.8,410.0 138.0,408.1 138.2,411.7 138.4,411.3 138.6,411.5 138.8,412.9 139.0,412.3 139.2,410.7 139.4,410.9 139.6,410.1 139.8,411.3 140.0,411.1 140.2,411.4 140.4,410.2 140.6,411.1 140.8,411.5 141.0,411.7 141.2,410.6 141.4,408.3 141.6,410.7 141.8,409.7 142.0,411.9 142.2,411.2 142.4,410.8 142.6,410.6 142.8,412.9 143.0,410.8 143.2,413.1 143.4,414.4 143.6,416.0 143.8,413.7 144.0,411.0 144.2,409.5 144.4,409.2 144.6,408.9 144.8,412.0 145.0,410.6 145.2,408.3 145.4,409.3 145.6,407.9 145.8,407.2 146.0,404.2 146.2,400.5 146.4,400.9 146.6,402.0 146.8,402.2 147.0,403.4 147.2,403.5 147.4,405.8 147.6,408.3 147.8,410.1 148.0,409.0 148.2,410.0 148.4,412.9 148.6,409.8 148.8,409.9 149.0,409.4 149.2,410.8 149.4,412.2 149.6,412.4 149.8,412.2 150.0,412.9 150.2,411.7 150.4,411.8 150.6,410.4 150.8,412.3 151.0,411.2 151.2,412.7 151.4,410.5 151.6,411.7 151.8,412.1 152.0,412.0 152.2,411.9 152.4,413.8 152.6,412.3 152.8,410.2 153.0,411.1 153.2,413.1 153.4,411.5 153.6,414.0 153.8,411.5 154.0,409.8 154.2,412.6 154.4,410.2 154.6,407.0 154.8,410.9 155.0,410.5 155.2,412.3 155.4,413.4 155.6,413.3 155.8,411.6 156.0,410.3 156.2,413.4 156.4,412.5 156.6,411.7 156.8,409.7 157.0,410.6 157.2,411.8 157.4,411.6 157.6,411.7 157.8,410.1 158.0,409.3 158.2,411.7 158.4,411.9 158.6,413.5 158.8,413.7 159.0,411.7 159.2,411.5 159.4,413.5 159.6,412.9 159.8,411.1 160.0,413.8 160.2,412.2 160.4,410.8 160.6,409.3 160.8,410.3 161.0,411.6 161.2,411.7 161.4,412.7 161.6,411.5 161.8,408.4 162.0,408.0 162.2,406.8 162.4,404.5 162.6,402.0 162.8,398.7 163.0,395.4 163.2,393.5 163.4,392.5 163.6,393.3 163.8,392.7 164.0,395.1 164.2,395.7 164.4,402.2 164.6,405.7 164.8,406.6 165.0,408.1 165.2,407.9 165.4,408.0 165.6,407.6 165.8,407.9 166.0,407.9 166.2,411.9 166.4,412.1 166.6,411.1 166.8,411.2 167.0,413.1 167.2,412.1 167.4,410.5 167.6,411.4 167.8,412.0 168.0,412.2 168.2,411.8 168.4,409.5 168.6,409.9 168.8,409.3 169.0,411.9 169.2,411.4 169.4,411.1 169.6,415.3 169.8,414.6 170.0,412.4 170.2,413.3 170.4,412.2 170.6,413.9 170.8,413.8 171.0,412.4 171.2,413.9 171.4,415.6 171.6,414.3 171.8,411.7 172.0,413.3 172.2,414.1 172.4,413.6 172.6,414.2 172.8,411.5 173.0,409.8 173.2,413.6 173.4,411.3 173.6,411.4 173.8,410.3 174.0,412.4 174.2,410.8 174.4,411.7 174.6,412.2 174.8,414.2 175.0,414.8 175.2,413.5 175.4,413.4 175.6,412.5 175.8,412.0 176.0,411.0 176.2,411.9 176.4,409.7 176.6,412.7 176.8,412.5 177.0,412.5 177.2,413.2 177.4,409.9 177.6,410.7 177.8,412.7 178.0,412.3 178.2,413.1 178.4,412.0 178.6,411.0 178.8,412.8 179.0,413.1 179.2,413.5 179.4,413.9 179.6,415.2 179.8,411.7 180.0,412.0 180.2,414.2 180.4,412.0 180.6,413.0 180.8,414.5 181.0,413.9 181.2,413.8 181.4,412.7 181.6,411.0 181.8,414.0 182.0,414.8 182.2,414.1 182.4,413.1 182.6,413.8 182.8,414.4 183.0,413.0 183.2,412.4 183.4,411.9 183.6,413.3 183.8,411.5 184.0,412.5 184.2,414.1 184.4,410.4 184.6,411.5 184.8,413.7 185.0,413.0 185.2,413.9 185.4,411.3 185.6,411.6 185.8,413.9 186.0,411.9 186.2,412.7 186.4,413.1 186.6,414.6 186.8,412.2 187.0,413.4 187.2,414.9 187.4,415.4 187.6,414.2 187.8,414.4 188.0,413.4 188.2,416.0 188.4,414.9 188.6,415.2 188.8,416.2 189.0,414.4 189.2,413.8 189.4,414.8 189.6,415.0 189.8,411.4 190.0,410.9 190.2,413.6 190.4,413.1 190.6,413.7 190.8,415.7 191.0,413.3 191.2,413.2 191.4,414.4 191.6,412.2 191.8,412.8 192.0,412.7 192.2,413.1 192.4,412.9 192.6,411.2 192.8,411.7 193.0,411.5 193.2,411.0 193.4,412.8 193.6,411.8 193.8,410.7 194.0,410.3 194.2,411.6 194.4,411.4 194.6,413.5 194.8,414.3 195.0,412.5 195.2,411.9 195.4,412.6 195.6,413.8 195.8,412.5 196.0,413.5 196.2,411.8 196.4,410.1 196.6,414.8 196.8,414.5 197.0,412.8 197.2,413.0 197.4,413.4 197.6,414.8 197.8,412.6 198.0,412.7 198.2,411.9 198.4,411.5 198.6,412.7 198.8,412.6 199.0,412.0 199.2,414.1 199.4,408.8 199.6,412.3 199.8,409.8 200.0,409.7 200.2,411.5 200.4,412.0 200.6,411.4 200.8,407.9 201.0,410.2 201.2,405.7 201.4,404.7 201.6,402.9 201.8,396.8 202.0,390.6 202.2,384.7 202.4,376.0 202.6,368.6 202.8,369.4 203.0,372.3 203.2,377.4 203.4,384.5 203.6,392.4 203.8,398.3 204.0,402.8 204.2,404.3 204.4,403.7 204.6,408.3 204.8,410.0 205.0,411.2 205.2,411.8 205.4,407.9 205.6,406.4 205.8,411.5 206.0,412.2 206.2,411.0 206.4,410.0 206.6,413.3 206.8,412.0 207.0,414.4 207.2,412.9 207.4,412.5 207.6,408.5 207.8,411.4 208.0,410.3 208.2,409.4 208.4,411.3 208.6,414.9 208.8,410.5 209.0,408.5 209.2,411.1 209.4,408.5 209.6,408.3 209.8,409.2 210.0,406.6 210.2,403.5 210.4,401.2 210.6,397.6 210.8,395.9 211.0,398.7 211.2,401.2 211.4,404.4 211.6,406.8 211.8,409.5 212.0,411.1 212.2,410.0 212.4,410.7 212.6,412.2 212.8,413.4 213.0,411.3 213.2,409.5 213.4,412.5 213.6,410.5 213.8,411.1 214.0,411.6 214.2,412.4 214.4,410.3 214.6,413.4 214.8,412.3 215.0,413.6 215.2,412.9 215.4,416.1 215.6,413.1 215.8,411.5 216.0,410.4 216.2,409.0 216.4,413.2 216.6,410.5 216.8,412.0 217.0,413.3 217.2,413.0 217.4,411.7 217.6,410.9 217.8,412.2 218.0,411.2 218.2,409.0 218.4,409.8 218.6,412.2 218.8,412.0 219.0,408.0 219.2,410.6 219.4,410.8 219.6,411.8 219.8,410.7 220.0,410.0 220.2,411.3 220.4,411.5 220.6,410.8 220.8,408.7 221.0,408.8 221.2,409.3 221.4,405.6 221.6,402.8 221.8,401.5 222.0,396.9 222.2,393.7 222.4,384.6 222.6,375.6 222.8,365.3 223.0,348.3 223.2,334.2 223.4,323.9 223.6,318.9 223.8,321.3 224.0,336.1 224.2,349.8 224.4,364.4 224.6,377.6 224.8,387.4 225.0,393.8 225.2,399.4 225.4,401.6 225.6,401.5 225.8,402.7 226.0,404.4 226.2,405.3 226.4,406.3 226.6,404.9 226.8,408.3 227.0,410.2 227.2,410.5 227.4,409.4 227.6,408.8 227.8,412.5 228.0,409.7 228.2,409.6 228.4,410.2 228.6,408.5 228.8,408.8 229.0,411.2 229.2,412.9 229.4,411.5 229.6,412.5 229.8,412.9 230.0,412.4 230.2,411.4 230.4,413.5 230.6,412.2 230.8,410.8 231.0,411.1 231.2,413.7 231.4,412.9 231.6,412.0 231.8,414.0 232.0,413.8 232.2,412.2 232.4,410.4 232.6,411.3 232.8,411.4 233.0,410.1 233.2,413.2 233.4,409.6 233.6,406.9 233.8,406.6 234.0,410.2 234.2,409.9 234.4,410.0 234.6,410.0 234.8,411.9 235.0,411.7 235.2,409.9 235.4,410.2 235.6,409.7 235.8,411.7 236.0,411.8 236.2,412.8 236.4,412.6 236.6,412.2 236.8,409.0 237.0,409.6 237.2,409.2 237.4,408.9 237.6,410.1 237.8,412.8 238.0,413.2 238.2,413.7 238.4,412.6 238.6,412.1 238.8,410.8 239.0,410.5 239.2,410.1 239.4,409.1 239.6,408.4 239.8,410.2 240.0,410.9 240.2,406.8 240.4,405.0 240.6,405.7 240.8,401.5 241.0,396.2 241.2,394.3 241.4,390.3 241.6,393.4 241.8,395.0 242.0,397.0 242.2,401.9 242.4,404.7 242.6,408.7 242.8,408.2 243.0,409.9 243.2,409.2 243.4,411.2 243.6,412.4 243.8,412.8 244.0,412.5 244.2,410.5 244.4,414.1 244.6,414.2 244.8,411.9 245.0,412.1 245.2,412.4 245.4,409.4 245.6,410.8 245.8,412.1 246.0,412.4 246.2,412.0 246.4,410.4 246.6,412.8 246.8,413.2 247.0,412.3 247.2,410.7 247.4,410.0 247.6,411.3 247.8,411.9 248.0,410.2 248.2,410.9 248.4,412.3 248.6,412.1 248.8,410.0 249.0,408.5 249.2,410.0 249.4,408.4 249.6,408.9 249.8,411.8 250.0,411.4 250.2,409.4 250.4,410.2 250.6,410.7 250.8,411.4 251.0,412.2 251.2,410.5 251.4,407.1 251.6,409.5 251.8,409.1 252.0,408.9 252.2,408.7 252.4,408.0 252.6,407.6 252.8,409.0 253.0,408.9 253.2,408.5 253.4,407.0 253.6,405.4 253.8,402.9 254.0,399.1 254.2,399.0 254.4,394.1 254.6,388.2 254.8,378.6 255.0,369.5 255.2,358.8 255.4,334.4 255.6,310.4 255.8,283.7 256.0,256.7 256.2,238.6 256.4,239.1 256.6,256.2 256.8,280.2 257.0,306.0 257.2,332.0 257.4,356.5 257.6,371.5 257.8,382.5 258.0,390.5 258.2,394.5 258.4,397.1 258.6,403.2 258.8,402.5 259.0,404.1 259.2,405.7 259.4,407.8 259.6,406.6 259.8,405.1 260.0,405.5 260.2,407.3 260.4,410.6 260.6,411.7 260.8,410.1 261.0,410.0 261.2,411.7 261.4,411.2 261.6,410.1 261.8,409.9 262.0,411.8 262.2,413.6 262.4,414.0 262.6,413.3 262.8,412.0 263.0,413.2 263.2,410.0 263.4,412.3 263.6,413.3 263.8,411.1 264.0,410.9 264.2,414.2 264.4,412.5 264.6,412.5 264.8,414.6 265.0,413.4 265.2,411.1 265.4,412.3 265.6,412.6 265.8,414.1 266.0,414.0 266.2,410.1 266.4,411.1 266.6,413.9 266.8,412.4 267.0,411.6 267.2,410.9 267.4,411.9 267.6,410.7 267.8,411.1 268.0,410.8 268.2,409.4 268.4,407.7 268.6,406.8 268.8,407.0 269.0,406.2 269.2,405.5 269.4,402.2 269.6,397.8 269.8,391.1 270.0,385.5 270.2,379.6 270.4,375.1 270.6,375.7 270.8,383.6 271.0,387.7 271.2,394.0 271.4,397.9 271.6,400.8 271.8,406.6 272.0,407.9 272.2,408.0 272.4,407.6 272.6,409.8 272.8,411.8 273.0,412.5 273.2,411.5 273.4,410.8 273.6,410.8 273.8,411.6 274.0,410.3 274.2,410.5 274.4,408.7 274.6,412.7 274.8,412.3 275.0,410.0 275.2,408.8 275.4,409.0 275.6,406.7 275.8,404.3 276.0,402.8 276.2,401.7 276.4,401.2 276.6,404.2 276.8,402.9 277.0,406.4 277.2,407.5 277.4,407.0 277.6,409.8 277.8,407.8 278.0,409.2 278.2,409.6 278.4,410.4 278.6,410.8 278.8,412.4 279.0,411.1 279.2,410.3 279.4,409.9 279.6,409.1 279.8,406.8 280.0,406.4 280.2,404.0 280.4,402.0 280.6,400.1 280.8,400.0 281.0,401.3 281.2,402.7 281.4,406.2 281.6,408.9 281.8,408.8 282.0,410.4 282.2,412.0 282.4,411.4 282.6,411.5 282.8,412.4 283.0,413.1 283.2,414.6 283.4,413.4 283.6,413.8 283.8,412.9 284.0,414.1 284.2,414.6 284.4,413.9 284.6,410.5 284.8,411.0 285.0,409.9 285.2,410.9 285.4,410.6 285.6,408.8 285.8,408.1 286.0,408.5 286.2,409.2 286.4,409.9 286.6,411.1 286.8,410.9 287.0,406.9 287.2,407.0 287.4,405.9 287.6,404.4 287.8,401.7 288.0,401.8 288.2,398.5 288.4,392.4 288.6,385.9 288.8,374.1 289.0,358.5 289.2,345.2 289.4,328.8 289.6,311.8 289.8,303.9 290.0,306.8 290.2,314.5 290.4,329.2 290.6,345.2 290.8,362.6 291.0,376.3 291.2,387.5 291.4,392.4 291.6,396.5 291.8,400.5 292.0,405.9 292.2,407.2 292.4,406.8 292.6,411.0 292.8,407.1 293.0,407.1 293.2,409.4 293.4,408.5 293.6,407.5 293.8,407.5 294.0,409.2 294.2,409.6 294.4,409.4 294.6,408.7 294.8,411.0 295.0,409.4 295.2,411.3 295.4,412.4 295.6,408.6 295.8,408.8 296.0,409.4 296.2,409.3 296.4,407.5 296.6,405.0 296.8,405.2 297.0,403.4 297.2,403.3 297.4,400.5 297.6,400.0 297.8,401.8 298.0,404.4 298.2,407.6 298.4,409.3 298.6,408.1 298.8,410.0 299.0,409.8 299.2,414.9 299.4,412.3 299.6,411.1 299.8,410.7 300.0,412.7 300.2,413.2 300.4,410.8 300.6,410.4 300.8,409.7 301.0,408.8 301.2,405.6 301.4,404.3 301.6,401.4 301.8,400.1 302.0,394.1 302.2,394.0 302.4,396.4 302.6,400.0 302.8,402.5 303.0,404.3 303.2,407.4 303.4,409.7 303.6,408.5 303.8,411.6 304.0,411.1 304.2,413.5 304.4,414.7 304.6,411.8 304.8,411.6 305.0,412.4 305.2,412.4 305.4,414.3 305.6,414.0 305.8,411.0 306.0,410.5 306.2,411.8 306.4,411.8 306.6,413.7 306.8,414.4 307.0,412.3 307.2,410.9 307.4,411.6 307.6,413.0 307.8,412.9 308.0,412.5 308.2,412.5 308.4,413.9 308.6,413.3 308.8,414.0 309.0,414.7 309.2,411.8 309.4,413.2 309.6,412.9 309.8,412.8 310.0,413.6 310.2,412.4 310.4,413.1 310.6,417.7 310.8,417.2 311.0,415.3 311.2,412.6 311.4,412.6 311.6,412.4 311.8,413.2 312.0,414.2 312.2,414.4 312.4,412.5 312.6,415.0 312.8,414.8 313.0,415.4 313.2,414.4 313.4,414.6 313.6,412.5 313.8,414.3 314.0,413.1 314.2,413.0 314.4,413.9 314.6,413.0 314.8,410.9 315.0,415.0 315.2,413.5 315.4,413.5 315.6,413.3 315.8,412.8 316.0,413.2 316.2,413.5 316.4,412.6 316.6,411.3 316.8,412.2 317.0,414.4 317.2,413.2 317.4,412.6 317.6,413.9 317.8,412.1 318.0,414.1 318.2,412.2 318.4,409.8 318.6,407.3 318.8,405.4 319.0,403.6 319.2,404.0 319.4,402.8 319.6,399.5 319.8,397.6 320.0,399.1 320.2,398.9 320.4,402.4 320.6,406.6 320.8,411.4 321.0,411.4 321.2,412.8 321.4,412.7 321.6,411.2 321.8,412.1 322.0,411.3 322.2,410.7 322.4,412.8 322.6,413.4 322.8,413.8 323.0,413.6 323.2,411.4 323.4,410.7 323.6,411.3 323.8,411.3 324.0,412.2 324.2,409.8 324.4,407.4 324.6,407.8 324.8,407.2 325.0,406.6 325.2,409.3 325.4,407.3 325.6,410.1 325.8,412.5 326.0,412.0 326.2,412.1 326.4,410.1 326.6,412.5 326.8,413.3 327.0,412.1 327.2,413.1 327.4,412.9 327.6,413.3 327.8,413.8 328.0,413.5 328.2,414.1 328.4,413.7 328.6,415.6 328.8,414.3 329.0,412.0 329.2,412.6 329.4,414.9 329.6,415.9 329.8,413.7 330.0,413.9 330.2,413.6 330.4,416.2 330.6,415.0 330.8,414.4 331.0,415.3 331.2,411.5 331.4,413.9 331.6,412.8 331.8,414.2 332.0,413.4 332.2,412.7 332.4,413.7 332.6,414.3 332.8,417.1 333.0,415.0 333.2,417.1 333.4,415.9 333.6,413.6 333.8,412.1 334.0,414.6 334.2,414.3 334.4,412.6 334.6,416.6 334.8,414.9 335.0,414.3 335.2,415.8 335.4,415.7 335.6,414.9 335.8,414.4 336.0,414.1 336.2,411.4 336.4,412.7 336.6,414.2 336.8,417.9 337.0,415.6 337.2,414.3 337.4,414.4 337.6,413.9 337.8,414.9 338.0,414.0 338.2,414.8 338.4,414.8 338.6,414.0 338.8,413.4 339.0,412.6 339.2,411.9 339.4,413.1 339.6,413.1 339.8,413.2 340.0,413.6 340.2,414.1 340.4,413.8 340.6,413.8 340.8,415.7 341.0,415.9 341.2,413.2 341.4,413.9 341.6,413.9 341.8,412.6 342.0,414.0 342.2,413.6 342.4,415.2 342.6,412.6 342.8,413.2 343.0,411.2 343.2,410.7 343.4,412.4 343.6,411.7 343.8,411.8 344.0,409.4 344.2,404.4 344.4,404.7 344.6,399.6 344.8,397.8 345.0,396.7 345.2,399.2 345.4,401.4 345.6,404.3 345.8,409.1 346.0,407.8 346.2,408.6 346.4,409.7 346.6,413.4 346.8,411.3 347.0,412.1 347.2,412.1 347.4,412.6 347.6,413.0 347.8,411.4 348.0,412.6 348.2,413.9 348.4,412.1 348.6,414.0 348.8,413.2 349.0,414.8 349.2,413.7 349.4,412.5 349.6,412.8 349.8,416.4 350.0,415.4 350.2,414.0 350.4,417.3 350.6,413.5 350.8,412.8 351.0,415.4 351.2,414.3 351.4,415.4 351.6,413.8 351.8,415.2 352.0,414.7 352.2,414.7 352.4,414.8 352.6,412.8 352.8,412.8 353.0,413.4 353.2,413.3 353.4,413.8 353.6,414.2 353.8,412.9 354.0,412.7 354.2,415.2 354.4,417.7 354.6,415.2 354.8,414.3 355.0,412.4 355.2,411.9 355.4,413.9 355.6,415.0 355.8,412.7 356.0,412.4 356.2,410.1 356.4,407.6 356.6,406.0 356.8,403.1 357.0,402.0 357.2,398.9 357.4,399.2 357.6,397.9 357.8,396.7 358.0,399.4 358.2,402.1 358.4,407.3 358.6,410.9 358.8,409.7 359.0,408.8 359.2,409.4 359.4,411.0 359.6,412.0 359.8,411.9 360.0,411.9 360.2,412.5 360.4,412.7 360.6,412.1 360.8,410.9 361.0,411.6 361.2,410.6 361.4,411.9 361.6,412.3 361.8,413.3 362.0,412.3 362.2,410.5 362.4,410.7 362.6,412.6 362.8,409.5 363.0,409.5 363.2,407.5 363.4,405.4 363.6,403.5 363.8,399.9 364.0,399.0 364.2,398.6 364.4,401.0 364.6,402.3 364.8,404.0 365.0,407.4 365.2,409.2 365.4,409.7 365.6,409.6 365.8,412.1 366.0,410.5 366.2,411.9 366.4,412.4 366.6,414.2 366.8,414.4 367.0,414.5 367.2,411.2 367.4,412.5 367.6,411.8 367.8,414.6 368.0,416.6 368.2,413.7 368.4,414.0 368.6,410.8 368.8,413.1 369.0,414.8 369.2,413.3 369.4,413.3 369.6,413.6 369.8,414.7 370.0,413.5 370.2,413.0 370.4,412.8 370.6,414.2 370.8,414.7 371.0,413.5 371.2,414.5 371.4,414.5 371.6,415.6 371.8,417.1 372.0,415.4 372.2,414.5 372.4,413.6 372.6,412.7 372.8,412.3 373.0,413.4 373.2,413.5 373.4,414.8 373.6,414.2 373.8,415.6 374.0,414.5 374.2,413.2 374.4,412.6 374.6,410.9 374.8,415.0 375.0,413.5 375.2,411.7 375.4,413.4 375.6,412.2 375.8,412.2 376.0,412.9 376.2,412.6 376.4,414.4 376.6,413.1 376.8,412.4 377.0,413.7 377.2,412.6 377.4,413.2 377.6,415.6 377.8,416.3 378.0,411.5 378.2,411.1 378.4,412.5 378.6,414.3 378.8,413.2 379.0,414.0 379.2,412.5 379.4,413.3 379.6,411.9 379.8,410.7 380.0,411.9 380.2,413.7 380.4,413.3 380.6,413.5 380.8,411.8 381.0,409.0 381.2,409.4 381.4,408.9 381.6,408.5 381.8,406.3 382.0,403.8 382.2,402.9 382.4,405.3 382.6,403.9 382.8,405.6 383.0,407.2 383.2,410.1 383.4,412.1 383.6,411.1 383.8,414.3 384.0,411.6 384.2,413.5 384.4,410.7 384.6,410.3 384.8,407.5 385.0,407.2 385.2,406.2 385.4,407.7 385.6,406.0 385.8,409.2 386.0,411.9 386.2,410.6 386.4,410.8 386.6,411.9 386.8,409.1 387.0,412.1 387.2,413.4 387.4,412.8 387.6,411.5 387.8,413.3 388.0,414.4 388.2,414.3 388.4,412.7 388.6,412.6 388.8,412.1 389.0,411.0 389.2,411.4 389.4,411.4 389.6,412.5 389.8,413.7 390.0,416.3 390.2,414.6 390.4,413.3 390.6,412.0 390.8,414.3 391.0,413.4 391.2,409.7 391.4,407.0 391.6,405.4 391.8,402.9 392.0,399.4 392.2,400.2 392.4,401.4 392.6,404.9 392.8,406.3 393.0,407.9 393.2,411.3 393.4,412.1 393.6,411.9 393.8,411.3 394.0,411.5 394.2,413.8 394.4,413.8 394.6,413.2 394.8,413.4 395.0,412.0 395.2,414.7 395.4,414.6 395.6,415.1 395.8,412.5 396.0,413.3 396.2,413.0 396.4,415.5 396.6,417.0 396.8,414.1 397.0,414.2 397.2,415.0 397.4,412.4 397.6,413.0 397.8,412.8 398.0,412.9 398.2,411.2 398.4,410.5 398.6,410.8 398.8,412.7 399.0,412.8 399.2,413.1 399.4,412.3 399.6,411.6 399.8,409.6 400.0,407.5 400.2,406.0 400.4,403.6 400.6,403.5 400.8,404.9 401.0,409.6 401.2,406.5 401.4,409.8 401.6,411.4 401.8,411.7 402.0,411.8 402.2,411.3 402.4,410.5 402.6,412.1 402.8,412.5 403.0,411.8 403.2,413.3 403.4,411.9 403.6,415.1 403.8,416.6 404.0,413.7 404.2,414.2 404.4,415.9 404.6,411.5 404.8,412.2 405.0,412.0 405.2,413.2 405.4,415.8 405.6,415.7 405.8,414.2 406.0,415.3 406.2,412.5 406.4,413.5 406.6,416.6 406.8,418.0 407.0,417.0 407.2,416.1 407.4,415.1 407.6,416.1 407.8,415.0 408.0,416.4 408.2,415.2 408.4,415.0 408.6,412.5 408.8,413.9 409.0,414.7 409.2,412.7 409.4,414.4 409.6,414.9 409.8,413.7 410.0,413.0 410.2,412.8 410.4,410.9 410.6,412.9 410.8,416.1 411.0,413.0 411.2,413.1 411.4,412.4 411.6,416.3 411.8,413.8 412.0,414.0 412.2,414.7 412.4,414.5 412.6,417.7 412.8,415.5 413.0,413.4 413.2,411.3 413.4,413.4 413.6,412.8 413.8,414.4 414.0,412.9 414.2,411.9 414.4,413.8 414.6,413.0 414.8,412.0 415.0,411.3 415.2,410.9 415.4,410.0 415.6,410.3 415.8,406.6 416.0,405.5 416.2,402.3 416.4,400.3 416.6,395.2 416.8,390.7 417.0,383.3 417.2,380.3 417.4,385.5 417.6,388.6 417.8,392.1 418.0,399.2 418.2,404.1 418.4,405.1 418.6,407.3 418.8,407.4 419.0,408.8 419.2,410.7 419.4,411.0 419.6,410.9 419.8,411.0 420.0,413.0 420.2,413.5 420.4,415.3 420.6,412.2 420.8,411.6 421.0,412.3 421.2,411.4 421.4,410.9 421.6,411.3 421.8,412.2 422.0,412.6 422.2,412.6 422.4,414.3 422.6,415.0 422.8,414.7 423.0,413.9 423.2,412.6 423.4,412.5 423.6,411.9 423.8,415.0 424.0,415.9 424.2,415.5 424.4,412.9 424.6,415.7 424.8,414.2 425.0,414.1 425.2,415.0 425.4,413.2 425.6,411.5 425.8,411.5 426.0,409.6 426.2,408.6 426.4,408.0 426.6,402.4 426.8,399.2 427.0,399.5 427.2,397.8 427.4,397.5 427.6,399.6 427.8,400.9 428.0,405.1 428.2,405.5 428.4,407.4 428.6,410.9 428.8,410.8 429.0,410.7 429.2,410.5 429.4,413.0 429.6,412.9 429.8,410.3 430.0,410.9 430.2,410.2 430.4,407.9 430.6,404.4 430.8,404.7 431.0,400.5 431.2,393.1 431.4,390.2 431.6,391.5 431.8,390.0 432.0,389.3 432.2,394.2 432.4,399.0 432.6,402.3 432.8,405.0 433.0,406.9 433.2,409.1 433.4,411.2 433.6,410.0 433.8,413.1 434.0,412.7 434.2,412.4 434.4,414.5 434.6,414.3 434.8,413.5 435.0,413.6 435.2,413.1 435.4,413.9 435.6,414.9 435.8,414.4 436.0,412.1 436.2,412.4 436.4,413.3 436.6,412.5 436.8,412.6 437.0,415.2 437.2,412.9 437.4,413.3 437.6,412.3 437.8,413.9 438.0,414.6 438.2,413.2 438.4,413.1 438.6,413.8 438.8,413.3 439.0,413.0 439.2,414.0 439.4,414.0 439.6,413.1 439.8,414.1 440.0,411.7 440.2,412.1 440.4,414.7 440.6,415.4 440.8,413.2 441.0,411.4 441.2,412.6 441.4,414.4 441.6,414.9 441.8,414.7 442.0,414.3 442.2,411.8 442.4,412.1 442.6,412.4 442.8,413.2 443.0,415.4 443.2,414.3 443.4,412.1 443.6,411.6 443.8,409.3 444.0,412.1 444.2,410.6 444.4,410.2 444.6,408.5 444.8,404.4 445.0,405.0 445.2,403.2 445.4,402.9 445.6,403.3 445.8,406.5 446.0,409.8 446.2,411.6 446.4,412.0 446.6,412.7 446.8,414.4 447.0,413.1 447.2,414.0 447.4,415.6 447.6,411.6 447.8,411.1 448.0,411.7 448.2,412.6 448.4,412.8 448.6,413.9 448.8,416.0 449.0,415.2 449.2,412.8 449.4,413.7 449.6,412.9 449.8,411.7 450.0,412.7 450.2,412.1 450.4,408.5 450.6,409.6 450.8,407.6 451.0,408.5 451.2,410.2 451.4,410.0 451.6,411.3 451.8,412.5 452.0,413.4 452.2,412.9 452.4,412.7 452.6,412.4 452.8,413.9 453.0,414.1 453.2,412.4 453.4,414.2 453.6,415.7 453.8,414.7 454.0,414.7 454.2,413.6 454.4,412.2 454.6,410.9 454.8,410.4 455.0,409.6 455.2,407.6 455.4,408.3 455.6,411.3 455.8,408.9 456.0,409.1 456.2,409.9 456.4,412.2 456.6,412.5 456.8,413.2 457.0,412.0 457.2,414.3 457.4,412.8 457.6,412.4 457.8,414.9 458.0,415.5 458.2,415.0 458.4,411.8 458.6,413.1 458.8,413.8 459.0,412.9 459.2,411.5 459.4,414.3 459.6,414.6 459.8,413.8 460.0,412.3 460.2,412.5 460.4,414.0 460.6,412.6 460.8,412.7 461.0,412.2 461.2,411.2 461.4,411.0 461.6,408.4 461.8,408.0 462.0,406.7 462.2,402.6 462.4,399.4 462.6,401.1 462.8,404.9 463.0,407.2 463.2,406.9 463.4,409.2 463.6,410.3 463.8,410.5 464.0,412.5 464.2,413.3 464.4,415.0 464.6,412.9 464.8,414.5 465.0,414.1 465.2,414.5 465.4,413.4 465.6,413.4 465.8,415.5 466.0,415.8 466.2,414.0 466.4,414.9 466.6,413.7 466.8,414.4 467.0,416.7 467.2,415.8 467.4,414.8 467.6,414.8 467.8,413.6 468.0,413.9 468.2,414.4 468.4,412.8 468.6,413.7 468.8,415.9 469.0,414.0 469.2,414.1 469.4,416.0 469.6,416.5 469.8,414.6 470.0,415.1 470.2,412.7 470.4,412.4 470.6,414.1 470.8,416.2 471.0,414.0 471.2,414.7 471.4,414.7 471.6,412.4 471.8,413.5 472.0,415.9 472.2,415.8 472.4,414.1 472.6,411.6 472.8,414.4 473.0,415.0 473.2,412.5 473.4,414.1 473.6,413.1 473.8,412.2 474.0,415.3 474.2,416.0 474.4,413.4 474.6,414.4 474.8,413.2 475.0,412.7 475.2,411.9 475.4,411.6 475.6,411.4 475.8,412.2 476.0,410.8 476.2,411.1 476.4,408.4 476.6,405.5 476.8,404.1 477.0,402.0 477.2,395.7 477.4,389.0 477.6,377.7 477.8,372.4 478.0,370.3 478.2,373.8 478.4,379.2 478.6,383.8 478.8,391.7 479.0,398.6 479.2,403.1 479.4,403.2 479.6,409.0 479.8,408.8 480.0,410.3 480.2,408.9 480.4,410.9 480.6,412.9 480.8,413.3 481.0,411.4 481.2,409.8 481.4,412.7 481.6,411.8 481.8,412.1 482.0,413.1 482.2,410.4 482.4,413.8 482.6,409.9 482.8,411.5 483.0,411.5 483.2,408.1 483.4,407.4 483.6,402.0 483.8,402.0 484.0,400.8 484.2,400.4 484.4,403.3 484.6,403.5 484.8,405.6 485.0,411.3 485.2,412.2 485.4,410.1 485.6,409.8 485.8,411.4 486.0,412.3 486.2,414.7 486.4,413.4 486.6,414.3 486.8,412.7 487.0,411.8 487.2,415.9 487.4,414.1 487.6,412.1 487.8,413.7 488.0,415.0 488.2,412.4 488.4,411.6 488.6,412.4 488.8,415.6 489.0,417.1 489.2,413.1 489.4,412.9 489.6,413.3 489.8,414.2 490.0,415.9 490.2,414.8 490.4,413.8 490.6,414.8 490.8,413.4 491.0,411.0 491.2,412.2 491.4,414.7 491.6,411.6 491.8,409.1 492.0,408.2 492.2,405.8 492.4,405.5 492.6,405.7 492.8,407.7 493.0,410.7 493.2,411.2 493.4,412.2 493.6,413.3 493.8,413.4 494.0,414.6 494.2,415.4 494.4,414.1 494.6,413.0 494.8,414.6 495.0,412.7 495.2,415.3 495.4,415.0 495.6,413.2 495.8,413.4 496.0,413.4 496.2,411.8 496.4,415.6 496.6,416.5 496.8,414.5 497.0,414.4 497.2,413.7 497.4,414.6 497.6,415.6 497.8,414.4 498.0,411.3 498.2,411.2 498.4,411.8 498.6,409.7 498.8,409.2 499.0,410.4 499.2,412.3 499.4,412.6 499.6,410.1 499.8,412.5 500.0,414.8 500.2,413.4 500.4,414.1 500.6,414.7 500.8,414.9 501.0,414.4 501.2,413.5 501.4,416.2 501.6,415.9 501.8,415.2 502.0,415.9 502.2,414.4 502.4,413.3 502.6,413.5 502.8,415.2 503.0,416.7 503.2,416.0 503.4,413.9 503.6,412.0 503.8,412.8 504.0,413.2 504.2,415.8 504.4,416.1 504.6,411.1 504.8,412.8 505.0,415.1 505.2,417.1 505.4,415.6 505.6,415.5 505.8,416.7 506.0,414.5 506.2,413.8 506.4,413.3 506.6,414.1 506.8,411.8 507.0,413.4 507.2,413.5 507.4,414.0 507.6,414.7 507.8,415.7 508.0,415.1 508.2,414.0 508.4,414.8 508.6,413.5 508.8,412.9 509.0,413.3 509.2,412.7 509.4,415.3 509.6,415.1 509.8,414.8 510.0,416.4 510.2,416.7 510.4,413.6 510.6,413.8 510.8,414.7 511.0,413.3 511.2,414.4 511.4,413.4 511.6,414.2 511.8,415.5 512.0,415.0 512.2,412.8 512.4,414.7 512.6,416.9 512.8,414.4 513.0,413.7 513.2,414.2 513.4,413.6 513.6,411.3 513.8,413.2 514.0,412.0 514.2,410.4 514.4,408.1 514.6,408.0 514.8,407.8 515.0,411.4 515.2,411.0 515.4,408.5 515.6,410.4 515.8,412.3 516.0,413.1 516.2,412.4 516.4,414.2 516.6,414.7 516.8,414.8 517.0,414.5 517.2,416.0 517.4,412.5 517.6,410.3 517.8,413.6 518.0,418.0 518.2,417.9 518.4,413.6 518.6,412.7 518.8,415.0 519.0,412.4 519.2,415.1 519.4,413.8 519.6,413.6 519.8,413.4 520.0,413.8 520.2,414.2 520.4,413.8 520.6,413.4 520.8,413.4 521.0,413.7 521.2,416.7 521.4,414.6 521.6,410.4 521.8,410.5 522.0,410.9 522.2,406.9 522.4,407.8 522.6,407.7 522.8,408.9 523.0,412.1 523.2,412.1 523.4,410.4 523.6,412.7 523.8,411.2 524.0,413.4 524.2,414.9 524.4,413.7 524.6,415.5 524.8,413.1 525.0,411.9 525.2,412.8 525.4,413.5 525.6,415.0 525.8,413.5 526.0,415.1 526.2,413.8 526.4,412.9 526.6,413.3 526.8,413.7 527.0,413.1 527.2,411.9 527.4,413.5 527.6,414.9 527.8,414.0 528.0,414.8 528.2,412.7 528.4,413.9 528.6,414.1 528.8,414.2 529.0,413.2 529.2,414.5 529.4,414.5 529.6,414.4 529.8,413.3 530.0,412.0 530.2,412.5 530.4,411.1 530.6,415.1 530.8,414.9 531.0,415.0 531.2,413.5 531.4,415.2 531.6,415.1 531.8,415.1 532.0,413.9 532.2,416.0 532.4,416.3 532.6,417.7 532.8,416.5 533.0,413.8 533.2,414.4 533.4,416.4 533.6,414.5 533.8,413.1 534.0,414.4 534.2,414.9 534.4,415.3 534.6,415.3 534.8,413.3 535.0,413.5 535.2,414.5 535.4,416.0 535.6,415.4 535.8,414.3 536.0,415.2 536.2,412.7 536.4,413.4 536.6,413.8 536.8,415.2 537.0,413.5 537.2,416.6 537.4,413.2 537.6,415.6 537.8,414.3 538.0,414.0 538.2,414.9 538.4,414.6 538.6,416.2 538.8,417.1 539.0,416.2 539.2,414.0 539.4,415.1 539.6,415.4 539.8,415.0 540.0,416.1 540.2,415.4 540.4,416.0 540.6,416.7 540.8,416.3 541.0,413.7 541.2,413.6 541.4,415.3 541.6,411.8 541.8,410.8 542.0,411.0 542.2,414.3 542.4,413.4 542.6,411.1 542.8,412.1 543.0,410.0 543.2,410.5 543.4,408.9 543.6,407.2 543.8,406.7 544.0,404.4 544.2,401.8 544.4,400.6 544.6,403.5 544.8,406.2 545.0,408.0 545.2,409.4 545.4,411.9 545.6,412.8 545.8,411.8 546.0,412.9 546.2,410.3 546.4,411.1 546.6,413.4 546.8,413.3 547.0,413.3 547.2,413.6 547.4,413.4 547.6,414.0 547.8,414.6 548.0,415.3 548.2,413.3 548.4,412.7 548.6,414.4 548.8,416.5 549.0,414.8 549.2,413.3 549.4,416.1 549.6,413.2 549.8,413.6 550.0,415.4 550.2,413.9 550.4,414.2 550.6,413.9 550.8,413.1 551.0,414.1 551.2,414.0 551.4,412.7 551.6,410.6 551.8,413.5 552.0,413.0 552.2,410.9 552.4,411.6 552.6,412.4 552.8,414.9 553.0,413.7 553.2,414.1 553.4,415.7 553.6,416.0 553.8,410.8 554.0,414.1 554.2,416.5 554.4,414.9 554.6,413.9 554.8,415.9 555.0,414.5 555.2,413.3 555.4,413.5 555.6,414.7 555.8,415.3 556.0,413.8 556.2,411.6 556.4,412.8 556.6,412.5 556.8,412.1 557.0,413.0 557.2,412.6 557.4,411.8 557.6,412.5 557.8,411.8 558.0,413.4 558.2,411.8 558.4,411.5 558.6,410.6 558.8,412.0 559.0,412.4 559.2,414.2 559.4,414.4 559.6,415.2 559.8,415.0 560.0,413.1 560.2,412.5 560.4,413.3 560.6,414.8 560.8,411.9 561.0,413.9 561.2,411.3 561.4,413.0 561.6,412.2 561.8,414.6 562.0,415.1 562.2,416.6 562.4,416.2 562.6,414.9 562.8,415.6 563.0,412.0 563.2,412.3 563.4,412.9 563.6,416.3 563.8,413.6 564.0,412.0 564.2,411.4 564.4,413.8 564.6,415.8 564.8,416.2 565.0,411.9 565.2,412.4 565.4,415.5 565.6,414.0 565.8,415.7 566.0,415.4 566.2,414.3 566.4,414.1 566.6,414.6 566.8,416.4 567.0,415.5 567.2,411.8 567.4,415.8 567.6,416.5 567.8,417.1 568.0,416.6 568.2,415.5 568.4,414.9 568.6,414.1 568.8,415.4 569.0,414.1 569.2,415.5 569.4,415.8 569.6,415.2 569.8,414.9 570.0,412.8 570.2,413.8 570.4,414.0 570.6,414.7 570.8,414.3 571.0,413.4 571.2,413.5 571.4,414.4 571.6,413.9 571.8,415.7 572.0,416.6 572.2,418.4 572.4,417.5 572.6,416.5 572.8,414.3 573.0,414.5 573.2,413.6 573.4,415.6 573.6,415.5 573.8,416.1 574.0,416.2 574.2,414.4 574.4,414.4 574.6,412.6 574.8,413.5 575.0,415.5 575.2,414.4 575.4,415.6 575.6,414.9 575.8,412.2 576.0,413.8 576.2,413.1 576.4,413.6 576.6,413.2 576.8,413.9 577.0,414.7 577.2,416.0 577.4,415.2 577.6,414.1 577.8,414.5 578.0,412.6 578.2,413.1 578.4,415.5 578.6,415.8 578.8,413.6 579.0,415.2 579.2,414.2 579.4,413.6 579.6,414.0 579.8,414.6 580.0,415.3 580.2,416.1 580.4,414.6 580.6,415.1 580.8,413.8 581.0,414.5 581.2,414.4 581.4,413.4 581.6,413.9 581.8,414.9 582.0,415.7 582.2,412.7 582.4,410.0 582.6,409.2 582.8,409.8 583.0,410.8 583.2,409.8 583.4,414.1 583.6,412.1 583.8,413.0 584.0,410.4 584.2,414.3 584.4,413.4 584.6,412.9 584.8,414.2 585.0,415.9 585.2,415.0 585.4,416.4 585.6,415.9 585.8,415.7 586.0,415.3 586.2,416.8 586.4,416.6 586.6,415.8 586.8,415.1 587.0,415.9 587.2,415.7 587.4,414.6 587.6,415.5 587.8,412.5 588.0,414.2 588.2,415.6 588.4,415.4 588.6,414.5 588.8,414.3 589.0,414.7 589.2,416.6 589.4,415.8 589.6,413.7 589.8,415.9 590.0,415.5 590.2,413.1 590.4,414.7 590.6,415.1 590.8,416.3 591.0,417.5 591.2,416.4 591.4,417.2 591.6,414.4 591.8,413.9 592.0,414.9 592.2,414.3 592.4,413.9 592.6,416.7 592.8,417.9 593.0,413.9 593.2,414.6 593.4,415.5 593.6,414.5 593.8,412.9 594.0,414.7 594.2,413.4 594.4,413.5 594.6,414.2 594.8,415.4 595.0,412.2 595.2,411.5 595.4,411.0 595.6,413.1 595.8,414.7 596.0,413.5 596.2,410.2 596.4,409.8 596.6,410.4 596.8,411.1 597.0,412.4 597.2,413.7 597.4,411.1 597.6,411.5 597.8,411.7 598.0,414.4 598.2,414.1 598.4,413.6 598.6,414.8 598.8,413.5 599.0,414.0 599.2,414.1 599.4,416.8 599.6,415.9 599.8,416.0 600.0,414.1 600.2,413.2 600.4,413.6 600.6,414.7 600.8,413.1 601.0,413.7 601.2,415.9 601.4,417.2 601.6,415.2 601.8,414.3 602.0,413.6 602.2,413.1 602.4,414.4 602.6,414.4 602.8,414.1 603.0,413.3 603.2,415.3 603.4,415.5 603.6,414.5 603.8,414.8 604.0,413.6 604.2,416.3 604.4,415.1 604.6,413.5 604.8,412.9 605.0,414.6 605.2,413.5 605.4,415.0 605.6,413.4 605.8,412.2 606.0,413.4 606.2,417.1 606.4,415.7 606.6,413.4 606.8,414.3 607.0,412.4 607.2,413.7 607.4,412.5 607.6,411.3 607.8,412.5 608.0,411.7 608.2,413.4 608.4,413.1 608.6,413.8 608.8,414.6 609.0,416.8 609.2,415.2 609.4,416.6 609.6,414.2 609.8,413.6 610.0,414.4 610.2,415.7 610.4,414.9 610.6,415.3 610.8,414.3 611.0,412.2 611.2,413.0 611.4,410.7 611.6,411.5 611.8,409.9 612.0,410.7 612.2,407.8 612.4,408.6 612.6,409.9 612.8,410.1 613.0,413.8 613.2,411.9 613.4,411.5 613.6,413.1 613.8,413.7 614.0,415.1 614.2,412.6 614.4,413.8 614.6,413.5 614.8,413.7 615.0,415.0 615.2,413.4 615.4,412.9 615.6,416.1 615.8,416.3 616.0,413.6 616.2,414.3 616.4,415.8 616.6,412.4 616.8,415.8 617.0,415.5 617.2,416.0 617.4,415.1 617.6,415.8 617.8,417.4 618.0,415.9 618.2,414.1 618.4,411.7 618.6,414.0 618.8,414.7 619.0,414.6 619.2,413.2 619.4,414.0 619.6,414.1 619.8,413.4 620.0,413.7 620.2,413.4 620.4,413.8 620.6,412.7 620.8,412.2 621.0,413.4 621.2,414.9 621.4,415.5 621.6,413.6 621.8,415.6 622.0,415.4 622.2,410.7 622.4,412.6 622.6,415.0 622.8,413.4 623.0,415.7 623.2,414.8 623.4,413.0 623.6,414.7 623.8,415.8 624.0,414.8 624.2,415.2 624.4,416.1 624.6,414.4 624.8,414.6 625.0,410.7 625.2,411.2 625.4,415.7 625.6,414.2 625.8,413.4 626.0,416.2 626.2,416.3 626.4,415.5 626.6,416.4 626.8,415.4 627.0,413.1 627.2,415.6 627.4,416.0 627.6,415.5 627.8,414.8 628.0,415.3 628.2,415.8 628.4,415.1 628.6,411.7 628.8,414.1 629.0,414.1 629.2,416.3 629.4,414.3 629.6,414.5 629.8,415.1 630.0,414.5 630.2,413.8 630.4,413.0 630.6,414.9 630.8,414.0 631.0,415.0 631.2,417.0 631.4,416.7 631.6,416.5 631.8,414.4 632.0,414.1 632.2,415.3 632.4,413.8 632.6,414.9 632.8,414.4 633.0,414.1 633.2,414.5 633.4,414.0 633.6,414.7 633.8,413.5 634.0,413.4 634.2,413.6 634.4,415.1 634.6,413.1 634.8,414.3 635.0,415.3 635.2,414.7 635.4,415.6 635.6,415.5 635.8,414.4 636.0,416.4 636.2,415.9 636.4,417.5 636.6,417.6 636.8,417.1 637.0,415.8 637.2,414.8 637.4,417.6 637.6,415.6 637.8,413.3 638.0,417.8 638.2,417.7 638.4,415.5 638.6,414.0 638.8,413.8 639.0,413.7 639.2,414.4 639.4,414.9 639.6,415.1 639.8,415.0 640.0,415.3 640.2,414.3 640.4,414.7 640.6,416.4 640.8,415.9 641.0,414.6 641.2,414.3 641.4,414.2 641.6,417.0 641.8,416.3 642.0,414.7 642.2,414.2 642.4,415.9 642.6,415.8 642.8,415.8 643.0,416.3 643.2,415.1 643.4,414.3 643.6,413.3 643.8,413.6 644.0,412.7 644.2,415.2 644.4,414.8 644.6,415.5 644.8,412.6 645.0,414.9 645.2,418.3 645.4,415.3 645.6,415.2 645.8,416.4 646.0,417.0 646.2,412.7 646.4,412.9 646.6,413.8 646.8,413.9 647.0,414.5 647.2,416.0 647.4,413.5 647.6,413.5 647.8,414.5 648.0,414.0 648.2,413.5 648.4,413.1 648.6,414.8 648.8,416.0 649.0,414.2 649.2,414.1 649.4,413.4 649.6,413.1 649.8,414.1 650.0,415.4 650.2,414.0"/>
<polyline fill="none" stroke="#0000ff" stroke-width="1.3" stroke-linejoin="round" points="44.4,615.1 44.6,616.6 44.8,616.1 45.0,616.8 45.2,617.9 45.4,617.3 45.6,618.1 45.8,617.8 46.0,617.9 46.2,614.9 46.4,614.5 46.6,614.5 46.8,616.6 47.0,616.4 47.2,617.6 47.4,617.2 47.6,617.3 47.8,619.6 48.0,617.9 48.2,616.5 48.4,615.6 48.6,618.1 48.8,617.8 49.0,615.3 49.2,616.1 49.4,616.3 49.6,614.2 49.8,615.9 50.0,617.6 50.2,614.5 50.4,616.8 50.6,618.5 50.8,615.5 51.0,615.1 51.2,616.1 51.4,616.5 51.6,615.8 51.8,613.4 52.0,613.9 52.2,615.0 52.4,614.9 52.6,616.1 52.8,614.0 53.0,613.5 53.2,615.0 53.4,611.3 53.6,607.7 53.8,606.2 54.0,603.4 54.2,601.8 54.4,599.6 54.6,598.4 54.8,600.0 55.0,603.2 55.2,609.0 55.4,612.5 55.6,612.0 55.8,613.7 56.0,614.3 56.2,613.8 56.4,614.0 56.6,614.0 56.8,612.6 57.0,614.3 57.2,616.5 57.4,617.3 57.6,616.0 57.8,615.8 58.0,617.6 58.2,619.1 58.4,615.6 58.6,615.2 58.8,616.1 59.0,617.2 59.2,616.0 59.4,617.2 59.6,616.4 59.8,617.6 60.0,616.8 60.2,616.9 60.4,618.0 60.6,615.9 60.8,616.4 61.0,618.5 61.2,618.9 61.4,617.6 61.6,615.1 61.8,618.2 62.0,618.3 62.2,616.8 62.4,615.2 62.6,618.7 62.8,620.2 63.0,619.0 63.2,619.2 63.4,616.9 63.6,617.3 63.8,616.2 64.0,615.6 64.2,616.3 64.4,615.8 64.6,615.9 64.8,616.1 65.0,616.6 65.2,617.1 65.4,617.3 65.6,616.1 65.8,617.3 66.0,615.5 66.2,617.5 66.4,617.4 66.6,614.8 66.8,617.1 67.0,619.4 67.2,618.6 67.4,617.2 67.6,617.0 67.8,618.0 68.0,618.2 68.2,618.8 68.4,618.2 68.6,618.8 68.8,618.0 69.0,616.2 69.2,615.7 69.4,616.4 69.6,617.4 69.8,616.4 70.0,617.8 70.2,615.4 70.4,616.3 70.6,616.1 70.8,617.5 71.0,617.6 71.2,617.0 71.4,615.6 71.6,615.9 71.8,616.8 72.0,618.7 72.2,617.3 72.4,618.6 72.6,619.0 72.8,616.9 73.0,616.5 73.2,614.8 73.4,617.0 73.6,618.5 73.8,617.0 74.0,618.3 74.2,619.1 74.4,618.4 74.6,617.4 74.8,617.8 75.0,616.8 75.2,617.6 75.4,620.6 75.6,617.4 75.8,616.6 76.0,617.7 76.2,618.2 76.4,618.4 76.6,616.4 76.8,615.6 77.0,616.1 77.2,618.4 77.4,618.8 77.6,616.5 77.8,616.4 78.0,616.8 78.2,615.8 78.4,616.4 78.6,617.8 78.8,615.6 79.0,617.3 79.2,618.1 79.4,615.7 79.6,617.6 79.8,616.4 80.0,615.5 80.2,616.7 80.4,615.5 80.6,614.2 80.8,612.6 81.0,610.9 81.2,609.3 81.4,607.3 81.6,604.9 81.8,599.4 82.0,595.0 82.2,590.5 82.4,589.9 82.6,591.3 82.8,596.6 83.0,599.6 83.2,601.4 83.4,606.7 83.6,609.9 83.8,613.5 84.0,614.2 84.2,616.0 84.4,616.3 84.6,614.9 84.8,615.5 85.0,616.1 85.2,616.1 85.4,621.2 85.6,618.2 85.8,615.0 86.0,614.7 86.2,616.5 86.4,615.7 86.6,613.5 86.8,612.6 87.0,613.8 87.2,612.5 87.4,611.9 87.6,610.3 87.8,610.0 88.0,606.8 88.2,609.9 88.4,609.9 88.6,611.3 88.8,614.4 89.0,612.4 89.2,614.7 89.4,615.7 89.6,617.3 89.8,614.8 90.0,616.7 90.2,617.3 90.4,616.8 90.6,616.8 90.8,616.2 91.0,614.7 91.2,615.3 91.4,614.5 91.6,617.9 91.8,618.1 92.0,615.7 92.2,618.2 92.4,616.7 92.6,614.7 92.8,615.8 93.0,617.5 93.2,616.7 93.4,615.7 93.6,617.5 93.8,616.7 94.0,615.9 94.2,615.3 94.4,617.5 94.6,617.9 94.8,615.7 95.0,616.2 95.2,616.6 95.4,616.9 95.6,616.2 95.8,619.5 96.0,618.2 96.2,618.3 96.4,617.6 96.6,620.0 96.8,618.0 97.0,615.4 97.2,618.2 97.4,617.4 97.6,616.1 97.8,616.9 98.0,616.5 98.2,618.4 98.4,618.2 98.6,616.1 98.8,618.4 99.0,618.6 99.2,615.1 99.4,619.0 99.6,619.2 99.8,619.5 100.0,620.0 100.2,618.0 100.4,616.9 100.6,618.2 100.8,618.1 101.0,618.0 101.2,615.1 101.4,617.7 101.6,621.6 101.8,619.7 102.0,619.8 102.2,618.9 102.4,618.2 102.6,619.5 102.8,619.4 103.0,618.0 103.2,618.1 103.4,618.9 103.6,617.1 103.8,617.0 104.0,619.5 104.2,619.3 104.4,617.4 104.6,618.5 104.8,617.0 105.0,614.9 105.2,613.1 105.4,613.9 105.6,612.9 105.8,613.9 106.0,614.8 106.2,617.8 106.4,617.5 106.6,617.8 106.8,619.5 107.0,621.9 107.2,619.9 107.4,616.5 107.6,618.0 107.8,618.3 108.0,617.4 108.2,617.3 108.4,620.5 108.6,620.0 108.8,619.8 109.0,619.1 109.2,619.5 109.4,619.0 109.6,618.4 109.8,617.5 110.0,616.4 110.2,616.7 110.4,617.4 110.6,616.8 110.8,617.8 111.0,616.9 111.2,618.2 111.4,616.2 111.6,618.2 111.8,619.8 112.0,619.1 112.2,617.6 112.4,619.4 112.6,618.2 112.8,618.1 113.0,617.2 113.2,615.4 113.4,617.9 113.6,618.3 113.8,618.0 114.0,616.1 114.2,617.4 114.4,615.4 114.6,613.9 114.8,613.5 115.0,614.0 115.2,612.5 115.4,612.7 115.6,609.6 115.8,606.5 116.0,601.5 116.2,597.7 116.4,597.1 116.6,601.4 116.8,607.0 117.0,609.7 117.2,608.9 117.4,613.1 117.6,615.4 117.8,614.6 118.0,616.1 118.2,616.2 118.4,617.6 118.6,618.0 118.8,617.6 119.0,617.8 119.2,617.4 119.4,617.5 119.6,614.4 119.8,618.7 120.0,619.8 120.2,617.2 120.4,618.3 120.6,619.3 120.8,617.9 121.0,617.8 121.2,618.8 121.4,619.5 121.6,617.4 121.8,619.0 122.0,619.4 122.2,617.3 122.4,619.2 122.6,620.9 122.8,619.3 123.0,619.1 123.2,620.6 123.4,618.4 123.6,618.8 123.8,621.0 124.0,621.1 124.2,617.7 124.4,618.2 124.6,619.5 124.8,620.4 125.0,619.2 125.2,617.9 125.4,618.6 125.6,615.5 125.8,618.0 126.0,619.4 126.2,619.9 126.4,618.6 126.6,616.5 126.8,618.8 127.0,617.5 127.2,617.6 127.4,619.0 127.6,616.5 127.8,620.9 128.0,620.3 128.2,619.7 128.4,618.6 128.6,619.5 128.8,619.6 129.0,618.7 129.2,616.8 129.4,618.9 129.6,619.4 129.8,620.1 130.0,619.6 130.2,619.2 130.4,618.6 130.6,616.3 130.8,615.8 131.0,617.9 131.2,617.9 131.4,618.8 131.6,617.1 131.8,617.9 132.0,619.6 132.2,618.9 132.4,618.0 132.6,619.6 132.8,619.3 133.0,617.7 133.2,618.1 133.4,619.2 133.6,619.0 133.8,618.7 134.0,617.8 134.2,615.8 134.4,619.3 134.6,619.8 134.8,618.8 135.0,616.9 135.2,618.4 135.4,619.3 135.6,619.2 135.8,618.8 136.0,616.8 136.2,620.0 136.4,620.7 136.6,621.0 136.8,621.6 137.0,620.6 137.2,621.1 137.4,618.6 137.6,620.1 137.8,619.8 138.0,621.2 138.2,619.1 138.4,618.5 138.6,618.6 138.8,619.7 139.0,618.7 139.2,620.4 139.4,620.5 139.6,619.6 139.8,619.3 140.0,618.9 140.2,621.7 140.4,620.5 140.6,618.2 140.8,619.9 141.0,618.2 141.2,619.5 141.4,620.1 141.6,618.9 141.8,618.6 142.0,619.8 142.2,620.2 142.4,619.9 142.6,619.6 142.8,617.7 143.0,618.7 143.2,618.1 143.4,618.9 143.6,617.7 143.8,617.6 144.0,617.6 144.2,618.1 144.4,618.4 144.6,618.7 144.8,619.2 145.0,618.0 145.2,620.3 145.4,618.2 145.6,617.4 145.8,618.4 146.0,617.6 146.2,617.5 146.4,617.9 146.6,616.7 146.8,618.6 147.0,616.1 147.2,616.7 147.4,619.0 147.6,618.9 147.8,616.9 148.0,613.8 148.2,613.6 148.4,612.4 148.6,611.3 148.8,611.2 149.0,612.5 149.2,614.0 149.4,614.3 149.6,614.1 149.8,616.3 150.0,617.9 150.2,619.0 150.4,617.7 150.6,617.7 150.8,617.6 151.0,617.5 151.2,619.2 151.4,618.8 151.6,620.5 151.8,620.6 152.0,619.6 152.2,619.5 152.4,618.9 152.6,619.5 152.8,619.8 153.0,620.7 153.2,619.3 153.4,620.7 153.6,620.5 153.8,619.6 154.0,617.5 154.2,617.5 154.4,618.8 154.6,618.8 154.8,617.8 155.0,620.8 155.2,619.4 155.4,618.8 155.6,619.2 155.8,617.3 156.0,615.7 156.2,617.8 156.4,617.7 156.6,618.6 156.8,618.6 157.0,616.6 157.2,617.6 157.4,620.2 157.6,621.0 157.8,619.3 158.0,619.2 158.2,619.6 158.4,620.2 158.6,623.0 158.8,621.8 159.0,618.5 159.2,618.6 159.4,620.4 159.6,620.0 159.8,620.0 160.0,619.0 160.2,616.3 160.4,614.8 160.6,614.0 160.8,614.8 161.0,616.1 161.2,615.9 161.4,618.6 161.6,615.3 161.8,617.0 162.0,619.8 162.2,620.8 162.4,617.8 162.6,618.9 162.8,619.1 163.0,616.3 163.2,619.1 163.4,618.6 163.6,617.6 163.8,618.5 164.0,616.4 164.2,613.9 164.4,613.8 164.6,609.0 164.8,606.3 165.0,598.4 165.2,598.4 165.4,596.4 165.6,598.2 165.8,601.7 166.0,606.3 166.2,607.8 166.4,611.2 166.6,613.8 166.8,616.3 167.0,617.1 167.2,618.1 167.4,618.2 167.6,616.3 167.8,618.0 168.0,619.1 168.2,620.2 168.4,622.9 168.6,621.6 168.8,621.5 169.0,619.8 169.2,621.3 169.4,622.4 169.6,619.7 169.8,618.6 170.0,617.5 170.2,618.3 170.4,621.4 170.6,618.3 170.8,619.5 171.0,620.8 171.2,620.1 171.4,619.9 171.6,619.7 171.8,620.4 172.0,617.7 172.2,618.5 172.4,618.7 172.6,616.7 172.8,617.9 173.0,619.4 173.2,621.3 173.4,619.5 173.6,620.9 173.8,619.6 174.0,621.7 174.2,620.1 174.4,622.0 174.6,624.5 174.8,622.6 175.0,622.1 175.2,619.3 175.4,620.9 175.6,621.3 175.8,620.3 176.0,620.3 176.2,618.7 176.4,619.0 176.6,618.0 176.8,618.0 177.0,620.5 177.2,619.4 177.4,620.8 177.6,623.0 177.8,621.9 178.0,619.6 178.2,619.5 178.4,619.3 178.6,620.5 178.8,622.9 179.0,622.7 179.2,619.7 179.4,618.6 179.6,620.8 179.8,617.8 180.0,619.9 180.2,617.7 180.4,620.4 180.6,620.8 180.8,619.7 181.0,619.1 181.2,621.1 181.4,621.4 181.6,621.6 181.8,623.8 182.0,620.9 182.2,620.4 182.4,623.4 182.6,625.1 182.8,620.8 183.0,620.3 183.2,620.3 183.4,621.3 183.6,621.8 183.8,620.0 184.0,620.1 184.2,619.5 184.4,620.7 184.6,620.5 184.8,621.1 185.0,620.5 185.2,620.4 185.4,618.4 185.6,619.3 185.8,620.0 186.0,620.5 186.2,619.1 186.4,619.9 186.6,621.9 186.8,621.3 187.0,619.9 187.2,620.4 187.4,620.3 187.6,620.9 187.8,620.2 188.0,619.5 188.2,620.3 188.4,619.0 188.6,621.5 188.8,622.5 189.0,621.8 189.2,619.1 189.4,620.4 189.6,621.9 189.8,621.3 190.0,621.2 190.2,621.2 190.4,621.7 190.6,620.2 190.8,618.5 191.0,621.0 191.2,623.6 191.4,622.1 191.6,621.9 191.8,622.9 192.0,619.5 192.2,618.6 192.4,619.5 192.6,621.2 192.8,623.0 193.0,622.1 193.2,620.8 193.4,622.2 193.6,621.1 193.8,620.7 194.0,619.9 194.2,618.9 194.4,619.4 194.6,618.3 194.8,616.9 195.0,618.8 195.2,621.6 195.4,619.7 195.6,618.1 195.8,620.5 196.0,623.2 196.2,621.2 196.4,623.4 196.6,620.9 196.8,617.7 197.0,620.7 197.2,623.3 197.4,621.3 197.6,619.1 197.8,621.1 198.0,622.1 198.2,619.0 198.4,620.6 198.6,621.6 198.8,622.3 199.0,620.5 199.2,619.8 199.4,621.6 199.6,621.5 199.8,620.8 200.0,620.4 200.2,621.6 200.4,620.8 200.6,623.3 200.8,620.9 201.0,622.2 201.2,622.0 201.4,620.7 201.6,619.8 201.8,620.8 202.0,619.2 202.2,617.4 202.4,618.1 202.6,617.5 202.8,614.5 203.0,615.8 203.2,611.1 203.4,610.5 203.6,606.3 203.8,599.2 204.0,594.2 204.2,586.6 204.4,581.4 204.6,576.1 204.8,577.2 205.0,582.2 205.2,589.5 205.4,594.6 205.6,603.0 205.8,603.6 206.0,607.7 206.2,611.1 206.4,611.3 206.6,612.5 206.8,615.6 207.0,614.0 207.2,615.6 207.4,618.4 207.6,619.0 207.8,617.4 208.0,618.4 208.2,618.5 208.4,617.6 208.6,615.6 208.8,613.5 209.0,612.4 209.2,615.0 209.4,613.7 209.6,612.6 209.8,613.4 210.0,615.7 210.2,616.8 210.4,616.1 210.6,615.5 210.8,617.9 211.0,616.6 211.2,615.4 211.4,618.8 211.6,619.3 211.8,616.2 212.0,613.8 212.2,611.6 212.4,609.0 212.6,606.5 212.8,604.5 213.0,604.5 213.2,606.6 213.4,609.6 213.6,612.5 213.8,614.7 214.0,614.8 214.2,617.4 214.4,616.5 214.6,617.0 214.8,618.7 215.0,616.8 215.2,618.1 215.4,616.5 215.6,618.3 215.8,620.4 216.0,620.4 216.2,617.9 216.4,618.1 216.6,621.3 216.8,620.6 217.0,620.8 217.2,617.9 217.4,620.7 217.6,619.6 217.8,617.5 218.0,619.2 218.2,621.2 218.4,619.9 218.6,617.2 218.8,616.9 219.0,620.2 219.2,618.9 219.4,617.9 219.6,618.2 219.8,617.8 220.0,617.1 220.2,618.7 220.4,619.2 220.6,617.6 220.8,619.9 221.0,618.2 221.2,619.1 221.4,619.9 221.6,620.0 221.8,619.6 222.0,614.8 222.2,613.2 222.4,613.4 222.6,614.5 222.8,614.9 223.0,612.0 223.2,610.5 223.4,609.4 223.6,607.5 223.8,606.6 224.0,597.9 224.2,593.4 224.4,583.9 224.6,567.6 224.8,552.7 225.0,539.5 225.2,530.4 225.4,530.1 225.6,537.9 225.8,553.8 226.0,568.8 226.2,579.7 226.4,591.7 226.6,598.2 226.8,603.5 227.0,608.5 227.2,611.4 227.4,615.9 227.6,617.3 227.8,618.0 228.0,617.4 228.2,615.1 228.4,616.1 228.6,617.8 228.8,620.1 229.0,617.9 229.2,619.3 229.4,616.1 229.6,617.4 229.8,618.4 230.0,620.5 230.2,620.6 230.4,619.5 230.6,619.2 230.8,616.8 231.0,616.5 231.2,620.8 231.4,623.4 231.6,621.1 231.8,618.8 232.0,619.1 232.2,616.6 232.4,618.2 232.6,618.9 232.8,620.9 233.0,620.1 233.2,620.1 233.4,617.4 233.6,618.1 233.8,618.1 234.0,620.0 234.2,619.5 234.4,618.4 234.6,616.1 234.8,619.7 235.0,617.3 235.2,617.2 235.4,619.8 235.6,618.3 235.8,616.3 236.0,616.6 236.2,614.9 236.4,616.3 236.6,618.9 236.8,618.2 237.0,618.3 237.2,617.3 237.4,618.2 237.6,618.6 237.8,619.6 238.0,622.3 238.2,620.5 238.4,620.6 238.6,621.8 238.8,620.4 239.0,620.8 239.2,618.0 239.4,619.6 239.6,620.9 239.8,619.8 240.0,620.9 240.2,620.3 240.4,621.5 240.6,622.0 240.8,620.1 241.0,618.6 241.2,618.8 241.4,620.1 241.6,619.7 241.8,618.1 242.0,621.1 242.2,621.5 242.4,619.6 242.6,619.0 242.8,617.7 243.0,614.7 243.2,613.8 243.4,611.9 243.6,608.0 243.8,603.3 244.0,601.1 244.2,602.1 244.4,603.9 244.6,606.0 244.8,607.2 245.0,611.7 245.2,613.8 245.4,615.2 245.6,615.1 245.8,617.8 246.0,618.2 246.2,619.0 246.4,617.6 246.6,619.2 246.8,618.9 247.0,618.1 247.2,618.5 247.4,617.6 247.6,618.5 247.8,618.8 248.0,618.9 248.2,619.6 248.4,619.8 248.6,618.0 248.8,618.9 249.0,616.0 249.2,617.7 249.4,622.0 249.6,620.8 249.8,620.1 250.0,622.3 250.2,618.5 250.4,618.3 250.6,617.6 250.8,619.1 251.0,617.5 251.2,615.6 251.4,616.2 251.6,617.6 251.8,619.5 252.0,619.5 252.2,619.7 252.4,618.8 252.6,617.8 252.8,620.0 253.0,617.3 253.2,617.6 253.4,616.1 253.6,615.7 253.8,615.4 254.0,614.5 254.2,616.0 254.4,614.9 254.6,615.5 254.8,615.2 255.0,613.2 255.2,611.3 255.4,609.8 255.6,606.6 255.8,604.4 256.0,597.6 256.2,593.7 256.4,588.0 256.6,574.0 256.8,560.7 257.0,541.2 257.2,514.7 257.4,485.7 257.6,463.3 257.8,449.6 258.0,447.8 258.2,459.9 258.4,489.8 258.6,515.4 258.8,542.9 259.0,562.0 259.2,578.6 259.4,590.6 259.6,595.8 259.8,603.6 260.0,606.2 260.2,609.1 260.4,610.0 260.6,610.7 260.8,610.5 261.0,613.0 261.2,615.1 261.4,614.2 261.6,617.3 261.8,616.9 262.0,614.6 262.2,616.4 262.4,617.6 262.6,617.4 262.8,618.5 263.0,619.3 263.2,618.0 263.4,618.9 263.6,618.2 263.8,617.5 264.0,619.1 264.2,618.4 264.4,618.9 264.6,619.7 264.8,617.0 265.0,619.8 265.2,620.2 265.4,620.0 265.6,620.5 265.8,620.3 266.0,619.9 266.2,617.5 266.4,618.7 266.6,619.8 266.8,619.5 267.0,619.5 267.2,618.9 267.4,621.7 267.6,620.2 267.8,620.7 268.0,620.7 268.2,618.8 268.4,618.1 268.6,617.7 268.8,619.7 269.0,621.1 269.2,619.7 269.4,617.2 269.6,619.7 269.8,620.0 270.0,617.9 270.2,614.5 270.4,613.3 270.6,613.8 270.8,612.4 271.0,613.4 271.2,612.9 271.4,609.8 271.6,604.4 271.8,598.0 272.0,589.9 272.2,579.3 272.4,569.8 272.6,568.5 272.8,568.1 273.0,568.3 273.2,580.5 273.4,588.7 273.6,595.8 273.8,604.4 274.0,606.6 274.2,610.3 274.4,613.5 274.6,616.4 274.8,615.4 275.0,616.6 275.2,616.6 275.4,618.3 275.6,620.3 275.8,620.1 276.0,618.6 276.2,618.0 276.4,616.8 276.6,619.8 276.8,619.2 277.0,620.1 277.2,618.5 277.4,617.3 277.6,615.7 277.8,612.9 278.0,614.1 278.2,612.2 278.4,608.2 278.6,607.5 278.8,606.3 279.0,605.9 279.2,607.1 279.4,608.6 279.6,611.7 279.8,616.4 280.0,617.6 280.2,617.6 280.4,619.0 280.6,618.1 280.8,617.4 281.0,618.2 281.2,617.1 281.4,616.5 281.6,616.1 281.8,613.4 282.0,614.1 282.2,610.7 282.4,606.4 282.6,604.6 282.8,600.2 283.0,599.6 283.2,603.3 283.4,607.2 283.6,608.9 283.8,611.4 284.0,617.4 284.2,617.0 284.4,615.9 284.6,617.5 284.8,619.6 285.0,618.6 285.2,618.0 285.4,622.5 285.6,621.7 285.8,618.1 286.0,620.4 286.2,620.6 286.4,618.7 286.6,618.9 286.8,618.9 287.0,620.7 287.2,622.4 287.4,620.4 287.6,619.7 287.8,621.6 288.0,619.5 288.2,617.9 288.4,617.8 288.6,618.1 288.8,619.5 289.0,619.9 289.2,619.7 289.4,618.5 289.6,615.0 289.8,616.2 290.0,614.0 290.2,614.5 290.4,613.3 290.6,610.4 290.8,607.9 291.0,604.5 291.2,600.2 291.4,593.2 291.6,584.8 291.8,570.0 292.0,554.7 292.2,538.8 292.4,525.6 292.6,521.7 292.8,524.4 293.0,537.7 293.2,552.2 293.4,567.3 293.6,578.3 293.8,589.3 294.0,600.2 294.2,605.5 294.4,609.4 294.6,610.6 294.8,611.6 295.0,614.9 295.2,616.4 295.4,614.1 295.6,612.9 295.8,615.6 296.0,616.6 296.2,615.1 296.4,615.9 296.6,619.0 296.8,620.8 297.0,621.1 297.2,618.9 297.4,619.4 297.6,618.6 297.8,617.4 298.0,618.0 298.2,619.0 298.4,616.6 298.6,616.0 298.8,615.6 299.0,613.2 299.2,610.6 299.4,610.0 299.6,610.5 299.8,608.5 300.0,607.6 300.2,610.6 300.4,612.2 300.6,615.2 300.8,616.0 301.0,615.5 301.2,617.0 301.4,618.9 301.6,619.2 301.8,618.7 302.0,619.2 302.2,617.5 302.4,617.4 302.6,616.7 302.8,614.1 303.0,615.7 303.2,613.1 303.4,611.1 303.6,607.5 303.8,606.5 304.0,602.9 304.2,601.6 304.4,604.4 304.6,604.5 304.8,606.3 305.0,612.5 305.2,612.9 305.4,613.6 305.6,616.1 305.8,619.1 306.0,618.7 306.2,617.4 306.4,619.2 306.6,622.5 306.8,621.3 307.0,621.1 307.2,619.2 307.4,619.8 307.6,622.3 307.8,620.0 308.0,620.6 308.2,621.4 308.4,621.2 308.6,620.3 308.8,621.2 309.0,619.5 309.2,618.7 309.4,620.5 309.6,620.3 309.8,619.6 310.0,619.8 310.2,618.7 310.4,620.8 310.6,621.5 310.8,618.0 311.0,618.6 311.2,619.1 311.4,618.8 311.6,620.9 311.8,622.6 312.0,621.5 312.2,622.5 312.4,621.3 312.6,621.2 312.8,620.3 313.0,620.8 313.2,619.9 313.4,621.9 313.6,619.3 313.8,619.1 314.0,620.4 314.2,619.6 314.4,621.1 314.6,621.3 314.8,620.2 315.0,618.0 315.2,619.7 315.4,620.5 315.6,620.3 315.8,619.9 316.0,619.2 316.2,619.7 316.4,620.9 316.6,620.9 316.8,619.9 317.0,621.3 317.2,622.3 317.4,622.3 317.6,621.3 317.8,623.1 318.0,619.2 318.2,620.9 318.4,620.8 318.6,620.4 318.8,620.1 319.0,619.6 319.2,620.4 319.4,619.9 319.6,619.5 319.8,619.4 320.0,619.3 320.2,620.6 320.4,620.8 320.6,618.4 320.8,617.7 321.0,617.1 321.2,611.8 321.4,609.8 321.6,605.3 321.8,602.8 322.0,601.4 322.2,602.0 322.4,601.8 322.6,606.6 322.8,609.5 323.0,613.7 323.2,614.0 323.4,618.5 323.6,621.2 323.8,622.4 324.0,621.5 324.2,619.9 324.4,619.3 324.6,621.1 324.8,620.5 325.0,617.6 325.2,617.8 325.4,619.9 325.6,618.7 325.8,616.0 326.0,615.4 326.2,615.3 326.4,615.8 326.6,614.7 326.8,613.0 327.0,611.6 327.2,612.0 327.4,613.5 327.6,616.8 327.8,615.1 328.0,618.4 328.2,620.0 328.4,619.2 328.6,616.6 328.8,619.2 329.0,619.8 329.2,619.0 329.4,619.3 329.6,620.0 329.8,621.0 330.0,620.1 330.2,620.9 330.4,620.0 330.6,622.8 330.8,619.4 331.0,620.1 331.2,619.2 331.4,619.4 331.6,621.5 331.8,622.6 332.0,620.5 332.2,621.2 332.4,620.6 332.6,621.2 332.8,618.0 333.0,620.9 333.2,620.6 333.4,620.5 333.6,620.0 333.8,619.0 334.0,621.8 334.2,621.6 334.4,619.9 334.6,620.2 334.8,620.0 335.0,618.5 335.2,620.8 335.4,622.0 335.6,621.4 335.8,620.7 336.0,618.9 336.2,619.5 336.4,618.8 336.6,620.1 336.8,622.2 337.0,625.2 337.2,621.9 337.4,621.2 337.6,620.6 337.8,621.0 338.0,622.5 338.2,620.9 338.4,621.4 338.6,621.9 338.8,620.8 339.0,623.9 339.2,621.2 339.4,621.6 339.6,622.9 339.8,620.1 340.0,617.1 340.2,620.6 340.4,621.9 340.6,621.3 340.8,622.0 341.0,621.6 341.2,623.5 341.4,623.4 341.6,621.6 341.8,622.2 342.0,620.5 342.2,621.5 342.4,621.7 342.6,619.5 342.8,620.2 343.0,617.6 343.2,618.1 343.4,618.5 343.6,620.9 343.8,619.7 344.0,621.8 344.2,619.1 344.4,618.5 344.6,617.8 344.8,619.0 345.0,618.3 345.2,618.3 345.4,618.4 345.6,616.8 345.8,614.2 346.0,611.7 346.2,611.1 346.4,610.1 346.6,605.2 346.8,598.6 347.0,593.9 347.2,594.3 347.4,595.1 347.6,597.6 347.8,602.2 348.0,606.3 348.2,609.6 348.4,613.5 348.6,615.4 348.8,617.5 349.0,617.6 349.2,617.0 349.4,619.9 349.6,622.0 349.8,618.9 350.0,620.1 350.2,619.4 350.4,621.2 350.6,624.3 350.8,622.6 351.0,619.9 351.2,619.3 351.4,619.9 351.6,621.2 351.8,620.1 352.0,619.3 352.2,620.4 352.4,617.9 352.6,619.8 352.8,622.6 353.0,620.9 353.2,620.6 353.4,619.6 353.6,619.4 353.8,619.1 354.0,619.3 354.2,618.5 354.4,617.2 354.6,620.3 354.8,620.5 355.0,622.9 355.2,623.0 355.4,623.1 355.6,623.9 355.8,623.8 356.0,622.1 356.2,624.1 356.4,625.1 356.6,622.9 356.8,620.3 357.0,621.1 357.2,621.5 357.4,620.4 357.6,620.3 357.8,622.8 358.0,621.0 358.2,620.4 358.4,620.9 358.6,619.4 358.8,621.7 359.0,619.1 359.2,617.0 359.4,612.9 359.6,611.6 359.8,611.0 360.0,607.7 360.2,605.4 360.4,605.3 360.6,607.4 360.8,608.0 361.0,614.8 361.2,617.4 361.4,618.3 361.6,616.4 361.8,619.8 362.0,622.3 362.2,620.3 362.4,619.0 362.6,618.2 362.8,619.8 363.0,621.1 363.2,618.4 363.4,618.9 363.6,621.2 363.8,619.3 364.0,620.2 364.2,620.4 364.4,620.8 364.6,618.4 364.8,618.0 365.0,616.5 365.2,617.2 365.4,613.7 365.6,612.5 365.8,606.3 366.0,603.6 366.2,603.6 366.4,602.6 366.6,604.6 366.8,606.7 367.0,610.1 367.2,612.8 367.4,616.2 367.6,619.3 367.8,620.8 368.0,620.2 368.2,618.0 368.4,621.4 368.6,621.8 368.8,620.5 369.0,619.7 369.2,617.4 369.4,619.2 369.6,622.1 369.8,623.3 370.0,621.3 370.2,619.9 370.4,620.7 370.6,621.3 370.8,619.9 371.0,621.2 371.2,622.4 371.4,623.0 371.6,621.0 371.8,620.2 372.0,621.4 372.2,621.2 372.4,621.3 372.6,621.2 372.8,621.8 373.0,621.4 373.2,622.6 373.4,621.8 373.6,621.6 373.8,624.3 374.0,623.3 374.2,622.2 374.4,620.9 374.6,619.4 374.8,622.4 375.0,622.9 375.2,621.4 375.4,622.1 375.6,621.3 375.8,622.1 376.0,622.2 376.2,621.0 376.4,621.3 376.6,622.5 376.8,620.9 377.0,619.3 377.2,619.2 377.4,621.8 377.6,624.3 377.8,622.9 378.0,623.1 378.2,623.4 378.4,622.7 378.6,623.3 378.8,619.7 379.0,621.4 379.2,623.3 379.4,622.2 379.6,622.8 379.8,622.5 380.0,619.9 380.2,617.1 380.4,617.4 380.6,619.8 380.8,622.4 381.0,619.9 381.2,617.0 381.4,619.4 381.6,620.3 381.8,620.8 382.0,620.4 382.2,616.7 382.4,623.3 382.6,622.6 382.8,621.5 383.0,620.3 383.2,618.0 383.4,618.5 383.6,620.3 383.8,617.4 384.0,614.6 384.2,610.8 384.4,607.5 384.6,605.9 384.8,606.5 385.0,607.8 385.2,609.3 385.4,609.3 385.6,612.7 385.8,615.2 386.0,616.2 386.2,619.0 386.4,619.0 386.6,623.0 386.8,621.3 387.0,620.3 387.2,619.2 387.4,620.4 387.6,622.1 387.8,618.5 388.0,619.5 388.2,620.7 388.4,616.0 388.6,617.8 388.8,616.9 389.0,617.9 389.2,614.7 389.4,613.5 389.6,615.9 389.8,619.1 390.0,617.7 390.2,618.7 390.4,619.4 390.6,618.6 390.8,619.4 391.0,620.2 391.2,621.1 391.4,620.7 391.6,619.9 391.8,618.9 392.0,622.9 392.2,621.0 392.4,620.6 392.6,622.1 392.8,623.1 393.0,621.2 393.2,620.3 393.4,618.3 393.6,618.7 393.8,617.8 394.0,615.0 394.2,613.7 394.4,609.7 394.6,609.9 394.8,605.3 395.0,607.3 395.2,607.3 395.4,611.6 395.6,614.8 395.8,613.4 396.0,616.5 396.2,618.0 396.4,617.3 396.6,619.0 396.8,621.4 397.0,619.1 397.2,619.4 397.4,618.4 397.6,619.1 397.8,621.6 398.0,622.4 398.2,619.8 398.4,621.9 398.6,621.6 398.8,618.9 399.0,621.0 399.2,619.4 399.4,618.9 399.6,619.0 399.8,619.5 400.0,620.8 400.2,622.0 400.4,622.2 400.6,619.7 400.8,622.4 401.0,619.2 401.2,617.5 401.4,620.1 401.6,620.2 401.8,620.0 402.0,618.6 402.2,616.4 402.4,611.4 402.6,608.7 402.8,606.1 403.0,605.3 403.2,604.8 403.4,608.8 403.6,610.7 403.8,613.0 404.0,613.7 404.2,615.2 404.4,616.8 404.6,617.6 404.8,615.5 405.0,617.4 405.2,620.2 405.4,620.4 405.6,620.8 405.8,620.0 406.0,619.5 406.2,620.4 406.4,620.2 406.6,621.6 406.8,621.3 407.0,621.7 407.2,622.0 407.4,620.5 407.6,620.3 407.8,620.7 408.0,621.8 408.2,623.5 408.4,621.7 408.6,621.6 408.8,623.5 409.0,624.2 409.2,623.3 409.4,623.7 409.6,622.5 409.8,622.4 410.0,622.6 410.2,623.4 410.4,622.7 410.6,622.2 410.8,620.9 411.0,620.9 411.2,622.0 411.4,622.3 411.6,623.5 411.8,622.3 412.0,623.0 412.2,622.0 412.4,620.5 412.6,620.2 412.8,621.4 413.0,621.8 413.2,620.7 413.4,623.2 413.6,623.2 413.8,623.1 414.0,622.2 414.2,622.6 414.4,621.8 414.6,618.9 414.8,620.3 415.0,623.0 415.2,620.6 415.4,621.5 415.6,621.8 415.8,621.2 416.0,621.9 416.2,623.2 416.4,618.2 416.6,618.4 416.8,622.2 417.0,621.5 417.2,619.5 417.4,621.2 417.6,617.9 417.8,616.8 418.0,616.9 418.2,615.3 418.4,613.7 418.6,609.8 418.8,605.4 419.0,601.0 419.2,595.6 419.4,585.6 419.6,578.1 419.8,575.6 420.0,575.4 420.2,583.4 420.4,590.4 420.6,593.6 420.8,598.0 421.0,604.9 421.2,611.2 421.4,613.6 421.6,617.2 421.8,616.1 422.0,617.5 422.2,619.7 422.4,621.6 422.6,619.4 422.8,620.9 423.0,621.0 423.2,621.1 423.4,620.5 423.6,620.6 423.8,621.2 424.0,621.2 424.2,619.7 424.4,620.9 424.6,621.7 424.8,622.4 425.0,621.3 425.2,622.7 425.4,618.7 425.6,618.1 425.8,619.4 426.0,620.9 426.2,622.6 426.4,621.9 426.6,621.5 426.8,620.6 427.0,619.7 427.2,622.8 427.4,621.8 427.6,619.3 427.8,619.4 428.0,619.5 428.2,620.0 428.4,619.2 428.6,617.4 428.8,614.1 429.0,612.5 429.2,608.9 429.4,604.9 429.6,603.8 429.8,603.4 430.0,605.5 430.2,609.1 430.4,611.4 430.6,617.5 430.8,618.1 431.0,618.8 431.2,620.2 431.4,619.8 431.6,620.5 431.8,616.3 432.0,618.3 432.2,616.9 432.4,614.8 432.6,616.4 432.8,613.9 433.0,608.6 433.2,606.5 433.4,602.5 433.6,595.3 433.8,594.4 434.0,595.6 434.2,597.3 434.4,602.2 434.6,608.2 434.8,609.1 435.0,613.2 435.2,616.7 435.4,618.1 435.6,617.8 435.8,619.2 436.0,620.9 436.2,621.0 436.4,621.9 436.6,621.9 436.8,621.3 437.0,619.5 437.2,620.2 437.4,620.8 437.6,621.9 437.8,620.3 438.0,619.5 438.2,620.3 438.4,619.3 438.6,621.4 438.8,623.8 439.0,620.7 439.2,623.3 439.4,620.6 439.6,620.9 439.8,622.1 440.0,622.2 440.2,622.5 440.4,623.6 440.6,624.8 440.8,625.1 441.0,622.2 441.2,620.5 441.4,619.8 441.6,621.6 441.8,621.2 442.0,621.3 442.2,619.7 442.4,623.4 442.6,624.0 442.8,623.1 443.0,622.6 443.2,620.2 443.4,621.9 443.6,621.8 443.8,620.8 444.0,622.6 444.2,620.4 444.4,620.8 444.6,622.2 444.8,621.2 445.0,622.0 445.2,620.8 445.4,619.3 445.6,619.6 445.8,619.0 446.0,619.5 446.2,620.2 446.4,620.9 446.6,620.5 446.8,617.2 447.0,616.9 447.2,616.1 447.4,615.7 447.6,613.4 447.8,610.6 448.0,608.6 448.2,609.9 448.4,610.3 448.6,612.3 448.8,616.6 449.0,617.0 449.2,617.9 449.4,620.8 449.6,621.4 449.8,625.0 450.0,624.3 450.2,622.8 450.4,621.0 450.6,620.9 450.8,623.9 451.0,620.8 451.2,618.1 451.4,620.1 451.6,620.8 451.8,620.4 452.0,617.9 452.2,621.6 452.4,619.3 452.6,618.1 452.8,616.8 453.0,614.8 453.2,614.0 453.4,612.9 453.6,614.6 453.8,613.2 454.0,613.8 454.2,615.8 454.4,619.2 454.6,620.2 454.8,618.7 455.0,618.8 455.2,620.1 455.4,620.8 455.6,620.9 455.8,622.8 456.0,620.7 456.2,620.7 456.4,620.2 456.6,620.8 456.8,620.9 457.0,619.7 457.2,618.5 457.4,616.3 457.6,616.9 457.8,614.6 458.0,613.5 458.2,613.7 458.4,616.5 458.6,618.5 458.8,619.0 459.0,618.9 459.2,621.2 459.4,620.7 459.6,621.1 459.8,620.6 460.0,621.7 460.2,624.0 460.4,622.8 460.6,622.3 460.8,624.2 461.0,623.0 461.2,622.9 461.4,620.4 461.6,619.6 461.8,619.7 462.0,621.5 462.2,619.9 462.4,622.6 462.6,623.8 462.8,622.2 463.0,621.4 463.2,621.8 463.4,620.6 463.6,622.5 463.8,621.1 464.0,620.5 464.2,618.7 464.4,619.2 464.6,616.9 464.8,613.0 465.0,611.5 465.2,608.7 465.4,606.8 465.6,606.7 465.8,609.6 466.0,611.2 466.2,616.7 466.4,617.3 466.6,621.0 466.8,617.6 467.0,617.0 467.2,618.4 467.4,622.0 467.6,620.4 467.8,622.6 468.0,621.6 468.2,620.8 468.4,621.8 468.6,622.9 468.8,623.8 469.0,623.8 469.2,621.6 469.4,623.2 469.6,622.7 469.8,623.1 470.0,623.9 470.2,622.6 470.4,623.3 470.6,623.6 470.8,620.0 471.0,620.3 471.2,619.5 471.4,618.8 471.6,621.6 471.8,623.8 472.0,622.9 472.2,622.0 472.4,624.1 472.6,624.6 472.8,625.5 473.0,625.3 473.2,622.9 473.4,621.8 473.6,622.3 473.8,622.9 474.0,619.4 474.2,621.3 474.4,623.1 474.6,621.6 474.8,621.2 475.0,621.6 475.2,620.9 475.4,619.9 475.6,621.3 475.8,622.6 476.0,624.2 476.2,624.5 476.4,622.3 476.6,620.5 476.8,619.0 477.0,622.6 477.2,621.7 477.4,621.8 477.6,621.9 477.8,621.0 478.0,619.9 478.2,619.6 478.4,619.5 478.6,616.0 478.8,616.6 479.0,616.0 479.2,615.3 479.4,608.2 479.6,602.0 479.8,595.8 480.0,587.2 480.2,574.1 480.4,565.5 480.6,555.8 480.8,548.4 481.0,552.1 481.2,565.4 481.4,576.2 481.6,588.6 481.8,594.8 482.0,599.5 482.2,606.4 482.4,610.3 482.6,614.5 482.8,614.9 483.0,613.6 483.2,614.6 483.4,617.7 483.6,620.7 483.8,619.7 484.0,619.9 484.2,616.6 484.4,619.0 484.6,619.7 484.8,620.0 485.0,618.1 485.2,614.5 485.4,615.8 485.6,615.7 485.8,615.1 486.0,612.0 486.2,609.3 486.4,605.5 486.6,605.0 486.8,604.9 487.0,606.6 487.2,608.7 487.4,612.2 487.6,615.2 487.8,616.1 488.0,613.6 488.2,618.1 488.4,621.0 488.6,621.2 488.8,620.0 489.0,621.2 489.2,620.6 489.4,621.6 489.6,620.6 489.8,621.4 490.0,620.4 490.2,621.6 490.4,622.2 490.6,622.5 490.8,623.1 491.0,624.5 491.2,622.4 491.4,623.0 491.6,622.4 491.8,623.5 492.0,623.1 492.2,621.7 492.4,623.2 492.6,623.0 492.8,622.1 493.0,622.2 493.2,623.7 493.4,622.2 493.6,621.5 493.8,622.0 494.0,621.1 494.2,620.3 494.4,618.7 494.6,614.6 494.8,614.8 495.0,614.9 495.2,613.8 495.4,614.8 495.6,616.3 495.8,618.7 496.0,618.3 496.2,618.3 496.4,616.2 496.6,621.5 496.8,623.3 497.0,621.6 497.2,621.6 497.4,622.7 497.6,620.2 497.8,620.4 498.0,620.4 498.2,624.0 498.4,622.7 498.6,620.8 498.8,622.5 499.0,622.1 499.2,622.7 499.4,624.3 499.6,621.9 499.8,623.8 500.0,620.1 500.2,620.5 500.4,621.0 500.6,619.9 500.8,620.1 501.0,621.6 501.2,619.5 501.4,619.3 501.6,617.8 501.8,617.1 502.0,615.5 502.2,614.1 502.4,615.9 502.6,617.7 502.8,618.8 503.0,621.5 503.2,621.5 503.4,618.3 503.6,618.0 503.8,617.0 504.0,619.1 504.2,621.1 504.4,619.6 504.6,619.0 504.8,620.5 505.0,622.9 505.2,621.3 505.4,621.9 505.6,623.0 505.8,621.0 506.0,620.3 506.2,620.7 506.4,623.4 506.6,623.4 506.8,622.8 507.0,621.7 507.2,622.7 507.4,622.2 507.6,621.7 507.8,625.5 508.0,623.2 508.2,622.8 508.4,623.4 508.6,623.3 508.8,623.7 509.0,621.9 509.2,622.3 509.4,620.5 509.6,622.4 509.8,624.9 510.0,624.2 510.2,624.8 510.4,621.7 510.6,621.0 510.8,621.9 511.0,620.2 511.2,622.0 511.4,622.4 511.6,620.9 511.8,620.3 512.0,618.4 512.2,618.6 512.4,618.2 512.6,618.1 512.8,616.0 513.0,615.8 513.2,617.2 513.4,619.8 513.6,621.0 513.8,622.5 514.0,621.4 514.2,621.5 514.4,623.8 514.6,620.5 514.8,620.8 515.0,622.0 515.2,622.6 515.4,622.8 515.6,622.1 515.8,620.8 516.0,620.2 516.2,622.2 516.4,620.1 516.6,619.8 516.8,616.0 517.0,614.9 517.2,615.6 517.4,618.4 517.6,618.2 517.8,617.8 518.0,615.9 518.2,620.0 518.4,620.4 518.6,621.5 518.8,622.2 519.0,620.5 519.2,621.5 519.4,621.2 519.6,620.5 519.8,621.6 520.0,622.0 520.2,620.3 520.4,621.3 520.6,623.2 520.8,622.3 521.0,623.1 521.2,623.2 521.4,622.7 521.6,622.8 521.8,622.7 522.0,622.4 522.2,623.4 522.4,622.4 522.6,620.6 522.8,620.7 523.0,619.7 523.2,621.2 523.4,621.1 523.6,621.9 523.8,620.3 524.0,622.9 524.2,621.1 524.4,619.5 524.6,623.0 524.8,621.1 525.0,619.5 525.2,619.0 525.4,615.8 525.6,616.6 525.8,615.9 526.0,616.4 526.2,619.6 526.4,621.5 526.6,623.2 526.8,620.5 527.0,620.7 527.2,621.0 527.4,622.5 527.6,623.1 527.8,622.4 528.0,625.4 528.2,623.4 528.4,622.9 528.6,621.3 528.8,623.2 529.0,623.3 529.2,622.3 529.4,624.5 529.6,622.7 529.8,620.4 530.0,620.7 530.2,622.7 530.4,623.3 530.6,623.3 530.8,624.7 531.0,624.9 531.2,625.1 531.4,622.3 531.6,622.9 531.8,625.9 532.0,623.8 532.2,622.1 532.4,623.2 532.6,624.7 532.8,622.6 533.0,623.3 533.2,621.1 533.4,622.2 533.6,621.8 533.8,622.1 534.0,622.0 534.2,622.5 534.4,621.3 534.6,622.4 534.8,622.5 535.0,623.7 535.2,625.2 535.4,626.1 535.6,622.4 535.8,622.1 536.0,621.1 536.2,622.4 536.4,622.3 536.6,621.6 536.8,623.6 537.0,623.7 537.2,621.8 537.4,623.9 537.6,625.5 537.8,623.0 538.0,620.9 538.2,621.2 538.4,623.6 538.6,624.6 538.8,623.7 539.0,623.5 539.2,623.5 539.4,623.3 539.6,622.3 539.8,625.4 540.0,627.5 540.2,624.8 540.4,622.8 540.6,623.3 540.8,622.0 541.0,622.8 541.2,624.2 541.4,623.4 541.6,622.8 541.8,619.6 542.0,620.3 542.2,623.2 542.4,621.9 542.6,618.8 542.8,623.5 543.0,622.3 543.2,621.6 543.4,624.0 543.6,623.6 543.8,620.6 544.0,620.1 544.2,623.4 544.4,623.3 544.6,623.0 544.8,621.5 545.0,619.9 545.2,618.7 545.4,619.3 545.6,621.3 545.8,620.7 546.0,616.9 546.2,613.0 546.4,610.9 546.6,612.7 546.8,607.8 547.0,604.3 547.2,607.8 547.4,611.4 547.6,611.7 547.8,613.6 548.0,617.5 548.2,621.0 548.4,620.5 548.6,619.2 548.8,621.2 549.0,621.3 549.2,622.1 549.4,622.9 549.6,624.3 549.8,625.2 550.0,626.6 550.2,623.8 550.4,623.4 550.6,623.5 550.8,623.4 551.0,626.1 551.2,625.0 551.4,622.1 551.6,623.5 551.8,623.2 552.0,624.9 552.2,623.4 552.4,621.3 552.6,624.2 552.8,626.7 553.0,622.9 553.2,620.8 553.4,624.5 553.6,622.7 553.8,624.2 554.0,622.9 554.2,621.6 554.4,622.0 554.6,621.1 554.8,622.1 555.0,622.7 555.2,621.2 555.4,623.7 555.6,623.8 555.8,619.9 556.0,621.6 556.2,620.2 556.4,618.7 556.6,620.4 556.8,621.4 557.0,620.6 557.2,621.4 557.4,622.4 557.6,623.9 557.8,622.8 558.0,623.2 558.2,623.7 558.4,623.5 558.6,621.7 558.8,620.7 559.0,622.2 559.2,621.8 559.4,622.5 559.6,620.7 559.8,621.6 560.0,621.9 560.2,622.7 560.4,621.7 560.6,620.8 560.8,620.5 561.0,618.0 561.2,616.9 561.4,617.3 561.6,619.0 561.8,619.9 562.0,620.1 562.2,620.5 562.4,622.3 562.6,619.7 562.8,619.7 563.0,621.8 563.2,624.7 563.4,625.0 563.6,622.4 563.8,619.7 564.0,621.7 564.2,622.7 564.4,620.4 564.6,621.3 564.8,624.1 565.0,622.5 565.2,623.3 565.4,621.1 565.6,621.1 565.8,622.1 566.0,623.2 566.2,622.3 566.4,621.7 566.6,621.3 566.8,622.6 567.0,620.2 567.2,621.0 567.4,619.6 567.6,621.8 567.8,619.2 568.0,619.7 568.2,619.5 568.4,622.1 568.6,624.0 568.8,622.3 569.0,623.7 569.2,622.7 569.4,625.9 569.6,623.7 569.8,622.8 570.0,622.7 570.2,623.6 570.4,625.1 570.6,624.2 570.8,621.9 571.0,620.7 571.2,620.2 571.4,623.2 571.6,621.7 571.8,620.1 572.0,622.4 572.2,624.5 572.4,622.0 572.6,622.1 572.8,621.4 573.0,623.9 573.2,623.1 573.4,623.3 573.6,621.8 573.8,621.8 574.0,622.4 574.2,621.1 574.4,625.7 574.6,625.9 574.8,623.7 575.0,622.5 575.2,623.9 575.4,624.1 575.6,621.8 575.8,621.4 576.0,622.3 576.2,622.3 576.4,621.7 576.6,623.1 576.8,624.2 577.0,624.4 577.2,623.8 577.4,623.9 577.6,621.9 577.8,621.6 578.0,622.2 578.2,620.7 578.4,620.1 578.6,623.5 578.8,620.8 579.0,618.9 579.2,621.3 579.4,622.1 579.6,621.6 579.8,621.1 580.0,621.5 580.2,622.1 580.4,622.7 580.6,622.2 580.8,621.7 581.0,622.2 581.2,621.3 581.4,620.9 581.6,622.1 581.8,620.6 582.0,621.2 582.2,620.6 582.4,622.1 582.6,624.7 582.8,622.3 583.0,622.8 583.2,623.7 583.4,622.3 583.6,623.6 583.8,622.2 584.0,621.8 584.2,619.4 584.4,621.7 584.6,621.7 584.8,621.7 585.0,618.9 585.2,617.8 585.4,619.3 585.6,620.0 585.8,616.4 586.0,617.3 586.2,620.7 586.4,619.9 586.6,620.8 586.8,622.6 587.0,622.8 587.2,622.7 587.4,621.0 587.6,623.1 587.8,623.2 588.0,621.2 588.2,620.2 588.4,625.7 588.6,624.7 588.8,621.4 589.0,622.6 589.2,623.1 589.4,622.2 589.6,622.8 589.8,624.6 590.0,623.1 590.2,621.4 590.4,621.2 590.6,622.7 590.8,624.2 591.0,623.6 591.2,623.0 591.4,621.6 591.6,622.5 591.8,624.1 592.0,623.8 592.2,624.8 592.4,624.3 592.6,623.3 592.8,623.8 593.0,625.9 593.2,623.1 593.4,625.2 593.6,623.7 593.8,623.9 594.0,624.0 594.2,624.6 594.4,624.5 594.6,626.7 594.8,624.3 595.0,623.6 595.2,623.4 595.4,623.0 595.6,623.7 595.8,624.7 596.0,624.1 596.2,621.9 596.4,623.7 596.6,624.4 596.8,622.2 597.0,622.8 597.2,622.3 597.4,620.6 597.6,621.1 597.8,624.8 598.0,625.1 598.2,625.1 598.4,622.1 598.6,623.0 598.8,622.9 599.0,621.7 599.2,622.1 599.4,624.4 599.6,622.0 599.8,622.4 600.0,622.6 600.2,622.8 600.4,624.7 600.6,623.2 600.8,620.7 601.0,624.3 601.2,622.8 601.4,620.7 601.6,622.4 601.8,627.0 602.0,623.4 602.2,621.7 602.4,627.1 602.6,622.7 602.8,620.7 603.0,621.1 603.2,622.6 603.4,624.4 603.6,623.2 603.8,621.0 604.0,619.7 604.2,619.2 604.4,621.6 604.6,623.7 604.8,623.1 605.0,623.4 605.2,621.3 605.4,619.3 605.6,620.5 605.8,621.2 606.0,621.0 606.2,622.3 606.4,622.4 606.6,621.9 606.8,620.9 607.0,622.4 607.2,624.4 607.4,622.2 607.6,621.7 607.8,623.3 608.0,621.3 608.2,622.2 608.4,621.9 608.6,622.6 608.8,621.8 609.0,621.5 609.2,621.6 609.4,620.4 609.6,623.5 609.8,622.8 610.0,624.0 610.2,622.1 610.4,622.3 610.6,624.0 610.8,624.0 611.0,624.0 611.2,625.2 611.4,623.2 611.6,623.4 611.8,622.3 612.0,621.5 612.2,623.6 612.4,622.8 612.6,623.4 612.8,622.8 613.0,623.2 613.2,622.7 613.4,622.8 613.6,622.3 613.8,622.2 614.0,622.5 614.2,621.0 614.4,620.8 614.6,618.9 614.8,617.9 615.0,615.8 615.2,616.5 615.4,617.2 615.6,619.3 615.8,622.1 616.0,623.2 616.2,623.3 616.4,623.8 616.6,626.0 616.8,623.8 617.0,623.0 617.2,624.0 617.4,623.5 617.6,624.5 617.8,622.5 618.0,621.8 618.2,624.5 618.4,622.1 618.6,622.1 618.8,624.9 619.0,624.6 619.2,626.3 619.4,624.4 619.6,623.1 619.8,622.6 620.0,622.9 620.2,625.4 620.4,624.1 620.6,623.5 620.8,623.3 621.0,622.0 621.2,622.8 621.4,624.7 621.6,625.2 621.8,624.2 622.0,624.6 622.2,625.1 622.4,622.3 622.6,621.4 622.8,621.4 623.0,622.3 623.2,625.4 623.4,622.8 623.6,620.9 623.8,621.8 624.0,624.1 624.2,621.4 624.4,621.6 624.6,621.1 624.8,620.4 625.0,621.2 625.2,620.7 625.4,619.0 625.6,616.2 625.8,611.7 626.0,609.2 626.2,606.5 626.4,602.1 626.6,599.7 626.8,599.8 627.0,601.7 627.2,607.6 627.4,613.2 627.6,616.2 627.8,617.3 628.0,618.8 628.2,618.3 628.4,617.2 628.6,620.9 628.8,622.5 629.0,623.5 629.2,621.6 629.4,622.0 629.6,622.4 629.8,621.7 630.0,621.3 630.2,622.2 630.4,620.4 630.6,621.0 630.8,621.2 631.0,620.4 631.2,619.6 631.4,620.3 631.6,620.6 631.8,623.3 632.0,624.2 632.2,623.7 632.4,622.8 632.6,620.7 632.8,620.9 633.0,622.8 633.2,622.1 633.4,620.3 633.6,622.9 633.8,621.0 634.0,620.3 634.2,620.9 634.4,626.3 634.6,623.0 634.8,623.5 635.0,622.1 635.2,626.1 635.4,624.6 635.6,624.4 635.8,623.8 636.0,622.8 636.2,621.1 636.4,617.9 636.6,622.6 636.8,624.8 637.0,622.0 637.2,620.2 637.4,621.1 637.6,622.2 637.8,621.9 638.0,621.1 638.2,622.3 638.4,623.2 638.6,620.6 638.8,621.9 639.0,621.4 639.2,622.3 639.4,623.9 639.6,624.1 639.8,621.2 640.0,623.0 640.2,622.5 640.4,623.7 640.6,624.8 640.8,620.4 641.0,619.8 641.2,623.1 641.4,622.5 641.6,622.8 641.8,623.8 642.0,622.8 642.2,622.8 642.4,625.9 642.6,622.8 642.8,622.1 643.0,622.9 643.2,622.6 643.4,622.2 643.6,624.5 643.8,624.4 644.0,623.3 644.2,621.5 644.4,622.2 644.6,621.6 644.8,620.4 645.0,622.0 645.2,624.2 645.4,623.1 645.6,620.9 645.8,621.1 646.0,623.6 646.2,622.1 646.4,623.0 646.6,623.1 646.8,624.9 647.0,625.1 647.2,624.3 647.4,624.2 647.6,623.3 647.8,623.6 648.0,624.1 648.2,624.0 648.4,624.9 648.6,624.4 648.8,623.4 649.0,623.6 649.2,624.9 649.4,625.5 649.6,623.4 649.8,623.6 650.0,622.5 650.2,622.1"/>
<polyline fill="none" stroke="#ff00ff" stroke-width="1.3" stroke-linejoin="round" points="44.4,827.4 44.6,826.4 44.8,826.1 45.0,825.6 45.2,824.2 45.4,825.4 45.6,824.6 45.8,825.6 46.0,825.5 46.2,826.5 46.4,825.7 46.6,825.5 46.8,824.8 47.0,826.0 47.2,825.7 47.4,826.3 47.6,826.6 47.8,826.5 48.0,825.3 48.2,823.8 48.4,824.6 48.6,826.5 48.8,827.1 49.0,827.1 49.2,825.4 49.4,825.1 49.6,826.7 49.8,826.8 50.0,826.1 50.2,825.7 50.4,824.6 50.6,825.6 50.8,826.7 51.0,824.8 51.2,824.6 51.4,824.5 51.6,823.4 51.8,821.3 52.0,821.1 52.2,820.0 52.4,819.2 52.6,818.8 52.8,819.4 53.0,820.1 53.2,823.3 53.4,823.4 53.6,825.6 53.8,826.4 54.0,825.5 54.2,824.3 54.4,823.5 54.6,824.3 54.8,825.7 55.0,826.2 55.2,825.6 55.4,826.3 55.6,828.8 55.8,827.0 56.0,825.6 56.2,826.7 56.4,825.4 56.6,824.3 56.8,826.1 57.0,825.9 57.2,826.8 57.4,828.2 57.6,826.8 57.8,826.1 58.0,827.4 58.2,824.7 58.4,825.4 58.6,827.8 58.8,828.1 59.0,826.4 59.2,825.9 59.4,826.7 59.6,826.9 59.8,826.7 60.0,825.9 60.2,825.2 60.4,825.7 60.6,826.1 60.8,826.1 61.0,826.0 61.2,826.2 61.4,825.3 61.6,827.5 61.8,828.1 62.0,826.3 62.2,825.6 62.4,827.0 62.6,827.4 62.8,827.0 63.0,827.6 63.2,826.4 63.4,826.1 63.6,827.9 63.8,826.6 64.0,826.0 64.2,824.7 64.4,826.0 64.6,826.3 64.8,826.9 65.0,827.5 65.2,827.0 65.4,826.1 65.6,827.7 65.8,827.5 66.0,827.4 66.2,826.9 66.4,826.7 66.6,825.4 66.8,825.1 67.0,825.9 67.2,826.1 67.4,826.3 67.6,823.9 67.8,825.6 68.0,826.2 68.2,827.6 68.4,826.4 68.6,826.3 68.8,826.9 69.0,826.9 69.2,824.9 69.4,825.4 69.6,827.1 69.8,827.1 70.0,827.0 70.2,827.7 70.4,825.6 70.6,826.4 70.8,826.3 71.0,826.7 71.2,826.1 71.4,827.2 71.6,829.1 71.8,827.7 72.0,827.3 72.2,828.3 72.4,828.0 72.6,828.7 72.8,826.3 73.0,825.4 73.2,824.8 73.4,825.5 73.6,825.4 73.8,828.1 74.0,827.6 74.2,827.7 74.4,827.4 74.6,827.2 74.8,826.7 75.0,826.1 75.2,828.3 75.4,827.5 75.6,828.9 75.8,827.9 76.0,826.0 76.2,826.4 76.4,826.5 76.6,826.3 76.8,826.2 77.0,826.4 77.2,825.9 77.4,825.7 77.6,826.2 77.8,826.0 78.0,825.5 78.2,825.8 78.4,825.0 78.6,825.1 78.8,824.5 79.0,824.1 79.2,820.9 79.4,821.4 79.6,817.9 79.8,815.8 80.0,811.3 80.2,808.9 80.4,808.4 80.6,808.8 80.8,811.2 81.0,815.0 81.2,819.1 81.4,819.1 81.6,822.3 81.8,824.9 82.0,824.9 82.2,826.1 82.4,823.5 82.6,824.1 82.8,825.1 83.0,825.1 83.2,825.5 83.4,826.5 83.6,825.4 83.8,826.4 84.0,826.5 84.2,826.5 84.4,827.9 84.6,826.2 84.8,827.1 85.0,824.7 85.2,824.3 85.4,823.1 85.6,821.2 85.8,821.6 86.0,821.9 86.2,821.7 86.4,822.2 86.6,824.3 86.8,824.9 87.0,824.7 87.2,822.8 87.4,825.3 87.6,826.7 87.8,824.9 88.0,823.4 88.2,825.2 88.4,826.0 88.6,825.1 88.8,826.1 89.0,826.8 89.2,825.9 89.4,826.4 89.6,828.0 89.8,826.9 90.0,826.0 90.2,827.3 90.4,827.7 90.6,827.2 90.8,826.8 91.0,826.9 91.2,829.3 91.4,826.8 91.6,827.2 91.8,827.9 92.0,828.2 92.2,827.2 92.4,827.4 92.6,827.0 92.8,827.3 93.0,826.1 93.2,828.3 93.4,828.2 93.6,828.3 93.8,827.2 94.0,825.6 94.2,826.4 94.4,827.5 94.6,829.0 94.8,828.2 95.0,828.8 95.2,828.1 95.4,827.3 95.6,827.7 95.8,828.6 96.0,828.7 96.2,827.6 96.4,828.2 96.6,828.6 96.8,829.2 97.0,829.4 97.2,827.3 97.4,827.0 97.6,826.8 97.8,829.6 98.0,828.5 98.2,827.3 98.4,829.9 98.6,828.5 98.8,828.4 99.0,828.6 99.2,828.6 99.4,826.6 99.6,827.8 99.8,828.9 100.0,828.6 100.2,828.0 100.4,827.3 100.6,826.1 100.8,824.8 101.0,826.0 101.2,828.1 101.4,828.2 101.6,827.6 101.8,828.4 102.0,829.7 102.2,828.4 102.4,828.3 102.6,830.8 102.8,828.8 103.0,828.0 103.2,829.3 103.4,828.0 103.6,828.5 103.8,829.1 104.0,829.8 104.2,828.4 104.4,829.0 104.6,827.5 104.8,828.4 105.0,828.9 105.2,829.5 105.4,830.7 105.6,829.0 105.8,828.5 106.0,828.3 106.2,828.4 106.4,829.1 106.6,829.2 106.8,829.7 107.0,828.6 107.2,829.4 107.4,829.4 107.6,829.1 107.8,829.2 108.0,829.1 108.2,828.7 108.4,828.4 108.6,827.3 108.8,827.6 109.0,828.6 109.2,829.3 109.4,829.3 109.6,828.6 109.8,828.1 110.0,828.9 110.2,828.6 110.4,827.9 110.6,829.4 110.8,829.8 111.0,828.6 111.2,827.3 111.4,828.3 111.6,828.3 111.8,827.3 112.0,828.5 112.2,828.5 112.4,828.7 112.6,827.4 112.8,827.2 113.0,826.9 113.2,826.6 113.4,824.0 113.6,823.5 113.8,823.2 114.0,819.9 114.2,818.0 114.4,819.9 114.6,820.5 114.8,819.9 115.0,822.4 115.2,823.0 115.4,825.3 115.6,827.2 115.8,827.5 116.0,826.1 116.2,826.7 116.4,829.0 116.6,828.5 116.8,827.9 117.0,828.0 117.2,827.0 117.4,826.3 117.6,826.8 117.8,828.3 118.0,827.8 118.2,829.0 118.4,829.5 118.6,828.8 118.8,827.8 119.0,827.8 119.2,827.8 119.4,828.8 119.6,829.7 119.8,829.4 120.0,830.5 120.2,829.2 120.4,828.0 120.6,827.1 120.8,827.3 121.0,827.3 121.2,828.7 121.4,828.9 121.6,830.3 121.8,829.7 122.0,829.2 122.2,827.8 122.4,827.9 122.6,828.9 122.8,828.6 123.0,827.8 123.2,828.0 123.4,828.8 123.6,829.3 123.8,829.0 124.0,828.4 124.2,828.5 124.4,829.2 124.6,828.6 124.8,827.3 125.0,827.8 125.2,829.3 125.4,830.3 125.6,829.6 125.8,828.1 126.0,828.0 126.2,830.5 126.4,829.3 126.6,828.4 126.8,828.8 127.0,829.1 127.2,828.7 127.4,829.0 127.6,829.9 127.8,828.4 128.0,828.3 128.2,829.0 128.4,828.8 128.6,828.6 128.8,828.8 129.0,828.1 129.2,828.6 129.4,828.6 129.6,829.9 129.8,828.6 130.0,829.0 130.2,829.7 130.4,828.7 130.6,829.0 130.8,828.2 131.0,828.2 131.2,828.2 131.4,828.4 131.6,828.4 131.8,826.9 132.0,828.7 132.2,828.9 132.4,828.2 132.6,828.0 132.8,828.7 133.0,829.1 133.2,831.2 133.4,830.5 133.6,829.2 133.8,828.7 134.0,828.9 134.2,827.5 134.4,827.7 134.6,828.8 134.8,827.2 135.0,828.0 135.2,827.9 135.4,828.6 135.6,828.9 135.8,828.6 136.0,829.4 136.2,829.0 136.4,829.8 136.6,829.5 136.8,830.7 137.0,830.8 137.2,829.0 137.4,826.7 137.6,828.0 137.8,828.6 138.0,827.8 138.2,828.6 138.4,830.2 138.6,829.1 138.8,829.6 139.0,830.6 139.2,828.7 139.4,828.7 139.6,829.6 139.8,828.9 140.0,830.0 140.2,830.7 140.4,830.5 140.6,829.5 140.8,829.2 141.0,829.9 141.2,829.6 141.4,830.0 141.6,830.6 141.8,828.4 142.0,829.8 142.2,829.0 142.4,829.8 142.6,829.2 142.8,828.9 143.0,829.1 143.2,830.2 143.4,830.0 143.6,830.0 143.8,828.1 144.0,828.2 144.2,828.3 144.4,828.9 144.6,830.2 144.8,830.2 145.0,828.7 145.2,827.4 145.4,828.3 145.6,827.8 145.8,828.2 146.0,829.1 146.2,829.4 146.4,829.8 146.6,826.8 146.8,825.3 147.0,825.3 147.2,828.0 147.4,826.6 147.6,828.1 147.8,829.4 148.0,828.0 148.2,828.9 148.4,828.2 148.6,829.4 148.8,827.7 149.0,828.2 149.2,828.4 149.4,828.9 149.6,830.1 149.8,830.5 150.0,830.7 150.2,830.3 150.4,828.0 150.6,829.3 150.8,831.0 151.0,831.1 151.2,830.5 151.4,829.5 151.6,830.1 151.8,829.2 152.0,828.7 152.2,829.9 152.4,829.4 152.6,829.3 152.8,829.8 153.0,829.8 153.2,828.6 153.4,827.8 153.6,828.3 153.8,828.3 154.0,829.0 154.2,829.5 154.4,828.9 154.6,828.5 154.8,827.9 155.0,829.1 155.2,829.1 155.4,829.9 155.6,830.3 155.8,829.8 156.0,829.1 156.2,830.1 156.4,830.7 156.6,828.5 156.8,829.5 157.0,829.8 157.2,829.7 157.4,829.2 157.6,828.3 157.8,828.7 158.0,829.7 158.2,828.2 158.4,828.2 158.6,828.2 158.8,829.7 159.0,830.0 159.2,828.1 159.4,827.8 159.6,826.7 159.8,829.8 160.0,830.7 160.2,829.9 160.4,828.6 160.6,830.0 160.8,831.1 161.0,828.5 161.2,828.6 161.4,829.9 161.6,828.7 161.8,829.1 162.0,827.4 162.2,826.4 162.4,824.2 162.6,823.5 162.8,822.4 163.0,820.4 163.2,819.0 163.4,817.1 163.6,816.3 163.8,819.0 164.0,821.4 164.2,822.5 164.4,824.7 164.6,826.6 164.8,827.2 165.0,827.4 165.2,828.6 165.4,828.8 165.6,828.0 165.8,829.1 166.0,829.7 166.2,829.0 166.4,828.5 166.6,831.6 166.8,831.8 167.0,831.6 167.2,830.8 167.4,829.3 167.6,827.5 167.8,830.8 168.0,831.6 168.2,829.3 168.4,830.0 168.6,830.2 168.8,831.0 169.0,829.1 169.2,831.0 169.4,830.2 169.6,828.2 169.8,828.0 170.0,830.0 170.2,830.8 170.4,829.0 170.6,828.9 170.8,829.1 171.0,830.0 171.2,829.2 171.4,828.5 171.6,828.2 171.8,828.3 172.0,829.6 172.2,830.0 172.4,829.1 172.6,828.9 172.8,828.1 173.0,829.6 173.2,829.6 173.4,830.2 173.6,828.4 173.8,830.6 174.0,830.0 174.2,830.0 174.4,830.1 174.6,829.5 174.8,830.5 175.0,830.6 175.2,830.1 175.4,831.0 175.6,830.5 175.8,829.6 176.0,829.8 176.2,830.0 176.4,831.1 176.6,832.6 176.8,830.8 177.0,831.1 177.2,828.6 177.4,828.5 177.6,829.0 177.8,829.7 178.0,830.0 178.2,831.1 178.4,830.2 178.6,830.1 178.8,830.7 179.0,829.4 179.2,830.2 179.4,831.1 179.6,830.5 179.8,832.2 180.0,831.4 180.2,830.7 180.4,831.0 180.6,830.8 180.8,828.6 181.0,830.4 181.2,830.0 181.4,831.5 181.6,829.4 181.8,830.5 182.0,832.0 182.2,832.8 182.4,831.1 182.6,830.9 182.8,830.7 183.0,829.8 183.2,829.4 183.4,829.3 183.6,830.4 183.8,830.9 184.0,829.9 184.2,830.4 184.4,830.0 184.6,828.8 184.8,830.2 185.0,829.5 185.2,830.7 185.4,830.9 185.6,830.5 185.8,830.5 186.0,829.7 186.2,829.3 186.4,830.9 186.6,830.3 186.8,831.9 187.0,831.4 187.2,828.9 187.4,828.8 187.6,830.4 187.8,830.0 188.0,829.3 188.2,829.2 188.4,829.6 188.6,829.6 188.8,829.0 189.0,829.4 189.2,829.3 189.4,829.6 189.6,829.3 189.8,830.8 190.0,830.0 190.2,828.8 190.4,828.9 190.6,830.6 190.8,831.2 191.0,830.2 191.2,828.5 191.4,829.2 191.6,829.6 191.8,829.1 192.0,830.0 192.2,830.3 192.4,830.2 192.6,830.7 192.8,829.7 193.0,828.9 193.2,828.5 193.4,829.5 193.6,828.2 193.8,830.9 194.0,830.8 194.2,829.9 194.4,828.7 194.6,828.8 194.8,828.0 195.0,828.3 195.2,829.0 195.4,828.3 195.6,828.0 195.8,828.7 196.0,828.4 196.2,828.8 196.4,829.1 196.6,828.6 196.8,829.5 197.0,830.9 197.2,831.3 197.4,830.0 197.6,830.2 197.8,829.7 198.0,829.8 198.2,828.3 198.4,830.0 198.6,831.5 198.8,829.6 199.0,830.2 199.2,829.7 199.4,830.8 199.6,829.6 199.8,831.1 200.0,829.8 200.2,828.1 200.4,828.6 200.6,827.7 200.8,827.6 201.0,827.8 201.2,828.8 201.4,827.8 201.6,827.4 201.8,824.6 202.0,821.6 202.2,815.5 202.4,812.8 202.6,808.6 202.8,803.0 203.0,799.4 203.2,795.8 203.4,798.7 203.6,803.2 203.8,807.9 204.0,813.5 204.2,818.3 204.4,822.7 204.6,825.2 204.8,827.1 205.0,827.5 205.2,826.5 205.4,827.0 205.6,826.8 205.8,829.0 206.0,830.3 206.2,829.3 206.4,829.4 206.6,829.4 206.8,828.7 207.0,829.8 207.2,828.9 207.4,829.1 207.6,828.2 207.8,830.5 208.0,830.1 208.2,829.2 208.4,829.3 208.6,829.9 208.8,828.3 209.0,829.5 209.2,830.0 209.4,829.2 209.6,829.5 209.8,828.5 210.0,827.8 210.2,828.5 210.4,826.8 210.6,826.3 210.8,824.9 211.0,824.1 211.2,824.8 211.4,824.4 211.6,825.3 211.8,826.9 212.0,828.4 212.2,829.3 212.4,830.1 212.6,828.0 212.8,828.8 213.0,830.5 213.2,829.3 213.4,830.6 213.6,830.0 213.8,829.3 214.0,829.9 214.2,829.3 214.4,832.1 214.6,830.9 214.8,829.8 215.0,829.0 215.2,830.0 215.4,830.8 215.6,830.2 215.8,831.3 216.0,829.8 216.2,829.4 216.4,828.5 216.6,828.4 216.8,830.9 217.0,829.5 217.2,828.9 217.4,830.6 217.6,828.7 217.8,829.8 218.0,830.4 218.2,830.8 218.4,830.2 218.6,829.2 218.8,830.2 219.0,827.7 219.2,826.2 219.4,825.5 219.6,827.5 219.8,827.7 220.0,827.7 220.2,826.0 220.4,825.2 220.6,826.5 220.8,828.9 221.0,828.8 221.2,825.8 221.4,828.3 221.6,828.1 221.8,826.6 222.0,825.2 222.2,823.6 222.4,821.5 222.6,818.9 222.8,815.0 223.0,811.1 223.2,803.4 223.4,793.6 223.6,784.1 223.8,774.8 224.0,768.8 224.2,767.5 224.4,774.1 224.6,783.4 224.8,793.0 225.0,803.1 225.2,809.1 225.4,815.9 225.6,818.3 225.8,822.9 226.0,826.1 226.2,826.6 226.4,826.5 226.6,826.9 226.8,827.8 227.0,826.2 227.2,827.2 227.4,827.6 227.6,827.7 227.8,828.0 228.0,828.7 228.2,829.0 228.4,828.3 228.6,829.3 228.8,829.1 229.0,829.9 229.2,829.2 229.4,828.1 229.6,828.5 229.8,831.5 230.0,829.4 230.2,827.1 230.4,827.1 230.6,829.0 230.8,828.5 231.0,829.2 231.2,828.5 231.4,829.5 231.6,829.4 231.8,828.2 232.0,828.8 232.2,829.3 232.4,830.1 232.6,827.9 232.8,828.3 233.0,828.3 233.2,829.3 233.4,830.7 233.6,829.3 233.8,826.8 234.0,828.9 234.2,829.4 234.4,828.1 234.6,828.0 234.8,829.6 235.0,828.7 235.2,828.8 235.4,829.1 235.6,828.5 235.8,830.1 236.0,829.6 236.2,829.9 236.4,829.4 236.6,830.7 236.8,830.8 237.0,830.8 237.2,830.6 237.4,829.0 237.6,829.2 237.8,829.5 238.0,831.1 238.2,830.3 238.4,829.9 238.6,830.1 238.8,830.6 239.0,830.1 239.2,830.3 239.4,830.1 239.6,828.7 239.8,829.0 240.0,829.6 240.2,828.9 240.4,830.5 240.6,831.4 240.8,829.6 241.0,829.4 241.2,829.0 241.4,829.4 241.6,829.6 241.8,829.2 242.0,828.5 242.2,827.2 242.4,827.2 242.6,826.0 242.8,824.7 243.0,822.7 243.2,819.6 243.4,819.3 243.6,820.6 243.8,822.9 244.0,823.6 244.2,826.8 244.4,827.4 244.6,828.5 244.8,830.0 245.0,829.0 245.2,829.0 245.4,829.6 245.6,829.4 245.8,829.0 246.0,829.0 246.2,828.6 246.4,831.3 246.6,829.2 246.8,828.4 247.0,829.1 247.2,829.3 247.4,828.7 247.6,828.4 247.8,827.9 248.0,829.6 248.2,830.9 248.4,830.8 248.6,830.3 248.8,829.3 249.0,829.7 249.2,830.8 249.4,831.0 249.6,829.3 249.8,829.8 250.0,830.8 250.2,829.4 250.4,828.5 250.6,828.6 250.8,828.1 251.0,826.9 251.2,827.6 251.4,827.0 251.6,826.7 251.8,825.8 252.0,825.7 252.2,825.8 252.4,825.7 252.6,825.3 252.8,826.9 253.0,826.5 253.2,826.7 253.4,824.3 253.6,823.8 253.8,821.7 254.0,818.9 254.2,817.0 254.4,815.1 254.6,810.5 254.8,805.7 255.0,796.9 255.2,787.4 255.4,770.0 255.6,750.9 255.8,726.2 256.0,697.7 256.2,672.8 256.4,657.8 256.6,654.2 256.8,669.9 257.0,698.6 257.2,726.4 257.4,751.2 257.6,772.5 257.8,787.5 258.0,799.6 258.2,806.0 258.4,810.2 258.6,813.9 258.8,818.3 259.0,820.3 259.2,822.0 259.4,821.8 259.6,823.5 259.8,822.9 260.0,825.1 260.2,826.1 260.4,825.5 260.6,827.1 260.8,827.2 261.0,827.0 261.2,826.4 261.4,826.7 261.6,829.5 261.8,828.0 262.0,827.0 262.2,828.2 262.4,826.9 262.6,826.2 262.8,827.7 263.0,828.8 263.2,829.1 263.4,829.3 263.6,829.5 263.8,830.3 264.0,829.8 264.2,828.3 264.4,829.7 264.6,828.7 264.8,827.7 265.0,828.6 265.2,829.2 265.4,830.9 265.6,829.9 265.8,829.0 266.0,829.8 266.2,829.0 266.4,828.9 266.6,829.6 266.8,829.5 267.0,829.9 267.2,829.0 267.4,829.7 267.6,830.1 267.8,829.3 268.0,829.8 268.2,830.8 268.4,828.9 268.6,827.5 268.8,827.2 269.0,828.3 269.2,827.1 269.4,825.1 269.6,822.3 269.8,821.1 270.0,816.9 270.2,813.4 270.4,807.2 270.6,802.4 270.8,802.4 271.0,802.8 271.2,806.2 271.4,810.8 271.6,814.5 271.8,818.1 272.0,820.9 272.2,825.0 272.4,825.6 272.6,827.3 272.8,828.4 273.0,829.1 273.2,828.5 273.4,829.7 273.6,827.0 273.8,827.9 274.0,828.7 274.2,828.1 274.4,830.2 274.6,829.3 274.8,827.5 275.0,827.7 275.2,829.1 275.4,829.2 275.6,829.8 275.8,827.3 276.0,825.4 276.2,826.9 276.4,825.7 276.6,824.6 276.8,823.9 277.0,824.9 277.2,823.7 277.4,825.9 277.6,827.1 277.8,827.2 278.0,828.8 278.2,829.6 278.4,829.4 278.6,829.2 278.8,829.0 279.0,829.6 279.2,829.6 279.4,829.6 279.6,828.5 279.8,828.9 280.0,827.5 280.2,827.5 280.4,826.2 280.6,824.8 280.8,823.1 281.0,821.8 281.2,820.0 281.4,820.8 281.6,822.7 281.8,824.7 282.0,824.2 282.2,824.9 282.4,826.4 282.6,830.0 282.8,828.9 283.0,829.4 283.2,830.3 283.4,830.6 283.6,829.9 283.8,830.6 284.0,829.9 284.2,829.5 284.4,829.2 284.6,829.5 284.8,829.5 285.0,828.9 285.2,829.6 285.4,829.4 285.6,830.2 285.8,829.3 286.0,828.1 286.2,829.1 286.4,828.6 286.6,829.1 286.8,828.7 287.0,827.5 287.2,827.2 287.4,828.2 287.6,827.9 287.8,825.3 288.0,826.6 288.2,825.9 288.4,823.9 288.6,823.6 288.8,823.4 289.0,820.3 289.2,816.8 289.4,811.8 289.6,803.2 289.8,795.0 290.0,786.1 290.2,778.5 290.4,778.1 290.6,778.7 290.8,786.2 291.0,795.7 291.2,804.3 291.4,812.9 291.6,815.5 291.8,819.4 292.0,822.4 292.2,823.2 292.4,826.1 292.6,826.5 292.8,826.6 293.0,826.9 293.2,828.6 293.4,829.3 293.6,827.7 293.8,827.1 294.0,827.6 294.2,828.5 294.4,827.7 294.6,825.7 294.8,826.9 295.0,826.5 295.2,828.8 295.4,829.3 295.6,828.3 295.8,826.3 296.0,827.2 296.2,830.6 296.4,831.7 296.6,830.1 296.8,829.0 297.0,827.3 297.2,826.7 297.4,826.4 297.6,824.3 297.8,823.1 298.0,821.2 298.2,822.0 298.4,822.4 298.6,825.9 298.8,825.7 299.0,826.7 299.2,828.3 299.4,829.1 299.6,830.1 299.8,829.0 300.0,831.3 300.2,830.7 300.4,830.0 300.6,829.7 300.8,829.0 301.0,827.1 301.2,827.8 301.4,829.1 301.6,827.4 301.8,825.7 302.0,821.9 302.2,819.6 302.4,817.1 302.6,815.2 302.8,815.2 303.0,817.5 303.2,818.4 303.4,822.9 303.6,824.0 303.8,826.1 304.0,825.9 304.2,828.5 304.4,829.9 304.6,830.2 304.8,830.7 305.0,832.0 305.2,830.0 305.4,828.7 305.6,830.0 305.8,829.8 306.0,831.3 306.2,831.1 306.4,830.7 306.6,829.9 306.8,830.7 307.0,831.1 307.2,829.5 307.4,831.0 307.6,831.8 307.8,829.7 308.0,830.5 308.2,831.6 308.4,831.2 308.6,830.3 308.8,830.8 309.0,831.1 309.2,830.9 309.4,830.5 309.6,830.0 309.8,830.4 310.0,830.3 310.2,829.8 310.4,830.0 310.6,829.8 310.8,830.3 311.0,831.4 311.2,830.8 311.4,828.6 311.6,828.3 311.8,830.6 312.0,831.2 312.2,829.8 312.4,829.5 312.6,829.4 312.8,829.6 313.0,830.7 313.2,830.1 313.4,831.1 313.6,830.7 313.8,830.4 314.0,831.4 314.2,831.3 314.4,832.0 314.6,830.7 314.8,830.1 315.0,832.1 315.2,830.9 315.4,831.2 315.6,832.3 315.8,831.8 316.0,831.1 316.2,831.9 316.4,832.7 316.6,832.0 316.8,830.6 317.0,830.4 317.2,829.8 317.4,828.6 317.6,828.5 317.8,828.8 318.0,830.1 318.2,829.8 318.4,832.3 318.6,830.3 318.8,830.6 319.0,830.1 319.2,829.9 319.4,828.4 319.6,828.5 319.8,827.6 320.0,826.9 320.2,825.9 320.4,824.0 320.6,821.5 320.8,821.2 321.0,821.3 321.2,821.8 321.4,822.9 321.6,825.2 321.8,826.6 322.0,827.6 322.2,828.5 322.4,829.7 322.6,829.9 322.8,828.5 323.0,828.5 323.2,829.6 323.4,829.8 323.6,829.1 323.8,830.1 324.0,830.7 324.2,829.2 324.4,829.6 324.6,827.4 324.8,828.6 325.0,829.5 325.2,826.8 325.4,825.3 325.6,825.9 325.8,824.9 326.0,827.7 326.2,827.5 326.4,828.7 326.6,829.7 326.8,829.5 327.0,830.3 327.2,830.2 327.4,830.5 327.6,830.2 327.8,829.5 328.0,831.0 328.2,830.5 328.4,830.2 328.6,831.2 328.8,831.1 329.0,831.2 329.2,831.0 329.4,830.6 329.6,830.2 329.8,829.6 330.0,829.9 330.2,830.8 330.4,830.3 330.6,830.9 330.8,831.3 331.0,832.3 331.2,832.5 331.4,831.0 331.6,830.0 331.8,829.4 332.0,828.8 332.2,829.7 332.4,829.9 332.6,831.5 332.8,830.6 333.0,829.7 333.2,830.5 333.4,830.7 333.6,830.5 333.8,830.4 334.0,830.6 334.2,831.2 334.4,831.8 334.6,830.4 334.8,829.7 335.0,830.9 335.2,830.9 335.4,829.5 335.6,831.0 335.8,831.5 336.0,831.1 336.2,830.7 336.4,830.8 336.6,829.7 336.8,830.6 337.0,831.3 337.2,829.8 337.4,831.3 337.6,830.0 337.8,830.4 338.0,831.0 338.2,830.0 338.4,829.7 338.6,829.0 338.8,831.3 339.0,831.1 339.2,830.6 339.4,830.1 339.6,830.9 339.8,832.8 340.0,833.1 340.2,829.7 340.4,829.7 340.6,830.9 340.8,832.2 341.0,831.8 341.2,829.5 341.4,829.2 341.6,829.6 341.8,830.3 342.0,829.8 342.2,830.4 342.4,830.7 342.6,829.4 342.8,830.2 343.0,831.4 343.2,829.8 343.4,829.5 343.6,830.2 343.8,830.3 344.0,828.3 344.2,829.0 344.4,827.5 344.6,826.8 344.8,823.2 345.0,823.5 345.2,820.5 345.4,817.7 345.6,818.2 345.8,817.5 346.0,819.5 346.2,822.1 346.4,824.5 346.6,826.0 346.8,826.2 347.0,826.6 347.2,826.9 347.4,828.8 347.6,829.6 347.8,829.6 348.0,830.3 348.2,831.5 348.4,830.3 348.6,829.1 348.8,829.9 349.0,830.5 349.2,830.5 349.4,831.1 349.6,830.9 349.8,828.3 350.0,827.7 350.2,829.2 350.4,829.2 350.6,831.1 350.8,830.1 351.0,831.1 351.2,831.8 351.4,833.8 351.6,830.5 351.8,831.9 352.0,829.7 352.2,829.1 352.4,830.5 352.6,831.0 352.8,831.3 353.0,831.5 353.2,831.2 353.4,830.3 353.6,830.4 353.8,831.4 354.0,830.9 354.2,831.5 354.4,832.2 354.6,829.9 354.8,830.1 355.0,830.2 355.2,829.1 355.4,830.2 355.6,831.1 355.8,830.2 356.0,831.4 356.2,830.2 356.4,829.9 356.6,829.5 356.8,830.1 357.0,830.4 357.2,829.5 357.4,829.2 357.6,828.2 357.8,825.1 358.0,824.2 358.2,822.7 358.4,822.1 358.6,821.9 358.8,820.8 359.0,822.5 359.2,824.5 359.4,825.0 359.6,826.1 359.8,828.1 360.0,830.4 360.2,829.2 360.4,831.9 360.6,829.6 360.8,828.9 361.0,827.8 361.2,828.6 361.4,830.8 361.6,830.3 361.8,830.6 362.0,829.8 362.2,828.4 362.4,828.6 362.6,828.6 362.8,827.7 363.0,827.2 363.2,827.0 363.4,825.8 363.6,823.3 363.8,820.5 364.0,816.5 364.2,812.4 364.4,811.2 364.6,812.2 364.8,816.7 365.0,820.7 365.2,822.1 365.4,823.6 365.6,826.1 365.8,828.9 366.0,829.2 366.2,830.3 366.4,831.3 366.6,830.9 366.8,829.7 367.0,829.0 367.2,828.4 367.4,831.1 367.6,830.6 367.8,832.0 368.0,832.4 368.2,832.1 368.4,831.4 368.6,830.1 368.8,831.2 369.0,829.7 369.2,831.1 369.4,830.3 369.6,829.8 369.8,830.3 370.0,830.1 370.2,832.2 370.4,831.0 370.6,831.6 370.8,831.5 371.0,830.1 371.2,830.0 371.4,830.1 371.6,830.4 371.8,830.9 372.0,830.5 372.2,831.5 372.4,831.8 372.6,830.0 372.8,830.4 373.0,831.1 373.2,831.5 373.4,831.0 373.6,829.6 373.8,830.8 374.0,830.3 374.2,831.0 374.4,831.0 374.6,830.1 374.8,831.2 375.0,830.5 375.2,831.7 375.4,831.2 375.6,830.9 375.8,831.8 376.0,831.3 376.2,831.8 376.4,830.6 376.6,831.1 376.8,829.6 377.0,831.7 377.2,833.2 377.4,832.1 377.6,832.2 377.8,831.8 378.0,831.4 378.2,831.0 378.4,830.5 378.6,830.1 378.8,830.4 379.0,831.7 379.2,832.1 379.4,831.5 379.6,832.2 379.8,830.9 380.0,832.6 380.2,832.9 380.4,831.2 380.6,830.4 380.8,831.0 381.0,831.1 381.2,832.0 381.4,830.1 381.6,829.3 381.8,829.4 382.0,828.2 382.2,827.1 382.4,827.4 382.6,826.3 382.8,824.5 383.0,825.9 383.2,823.5 383.4,823.9 383.6,825.5 383.8,827.0 384.0,827.0 384.2,828.2 384.4,827.7 384.6,829.7 384.8,830.9 385.0,830.4 385.2,829.3 385.4,828.8 385.6,828.7 385.8,828.2 386.0,827.8 386.2,828.1 386.4,826.2 386.6,827.0 386.8,827.5 387.0,827.7 387.2,827.5 387.4,828.6 387.6,828.6 387.8,829.6 388.0,829.5 388.2,830.8 388.4,829.2 388.6,829.8 388.8,831.5 389.0,831.2 389.2,830.2 389.4,830.0 389.6,833.0 389.8,833.6 390.0,832.7 390.2,831.1 390.4,829.1 390.6,830.3 390.8,831.5 391.0,832.5 391.2,829.5 391.4,829.1 391.6,830.9 391.8,831.5 392.0,830.8 392.2,829.4 392.4,828.1 392.6,825.6 392.8,825.7 393.0,825.1 393.2,823.5 393.4,826.0 393.6,827.0 393.8,828.0 394.0,828.9 394.2,830.0 394.4,832.2 394.6,831.5 394.8,831.3 395.0,831.4 395.2,831.9 395.4,830.4 395.6,830.5 395.8,829.8 396.0,829.1 396.2,830.3 396.4,831.9 396.6,830.3 396.8,831.1 397.0,831.6 397.2,830.8 397.4,831.5 397.6,831.6 397.8,832.3 398.0,831.9 398.2,829.7 398.4,830.3 398.6,831.5 398.8,831.5 399.0,830.0 399.2,832.1 399.4,831.9 399.6,830.4 399.8,831.5 400.0,831.2 400.2,829.6 400.4,830.0 400.6,826.4 400.8,825.6 401.0,824.8 401.2,824.9 401.4,825.1 401.6,827.3 401.8,829.2 402.0,828.5 402.2,828.8 402.4,830.2 402.6,829.4 402.8,829.5 403.0,830.6 403.2,831.9 403.4,832.0 403.6,830.7 403.8,831.0 404.0,832.0 404.2,830.8 404.4,832.3 404.6,831.0 404.8,831.8 405.0,832.7 405.2,832.4 405.4,831.6 405.6,832.1 405.8,832.5 406.0,832.4 406.2,830.8 406.4,831.2 406.6,831.6 406.8,830.8 407.0,831.2 407.2,831.0 407.4,832.2 407.6,834.0 407.8,832.6 408.0,832.4 408.2,831.4 408.4,831.1 408.6,830.8 408.8,830.5 409.0,828.6 409.2,829.4 409.4,831.3 409.6,831.3 409.8,830.7 410.0,832.0 410.2,831.6 410.4,832.2 410.6,832.1 410.8,831.9 411.0,833.0 411.2,832.4 411.4,833.7 411.6,831.6 411.8,831.3 412.0,832.2 412.2,831.4 412.4,831.3 412.6,832.7 412.8,830.6 413.0,830.1 413.2,830.5 413.4,830.7 413.6,831.0 413.8,830.8 414.0,830.9 414.2,830.2 414.4,829.7 414.6,830.8 414.8,830.5 415.0,829.5 415.2,830.6 415.4,830.1 415.6,830.5 415.8,830.6 416.0,830.0 416.2,829.8 416.4,829.4 416.6,828.6 416.8,827.3 417.0,826.7 417.2,826.0 417.4,825.0 417.6,821.9 417.8,817.0 418.0,812.7 418.2,809.1 418.4,805.0 418.6,801.7 418.8,805.6 419.0,810.9 419.2,813.2 419.4,817.7 419.6,822.7 419.8,824.9 420.0,826.9 420.2,828.1 420.4,828.5 420.6,829.0 420.8,830.2 421.0,829.8 421.2,829.6 421.4,830.5 421.6,831.0 421.8,830.6 422.0,831.1 422.2,829.9 422.4,830.5 422.6,831.8 422.8,831.4 423.0,830.6 423.2,830.9 423.4,829.6 423.6,829.4 423.8,831.7 424.0,832.2 424.2,830.5 424.4,830.3 424.6,830.3 424.8,830.0 425.0,830.1 425.2,830.2 425.4,829.9 425.6,830.4 425.8,830.3 426.0,831.1 426.2,829.4 426.4,829.9 426.6,827.6 426.8,828.4 427.0,827.9 427.2,828.4 427.4,827.9 427.6,826.7 427.8,824.4 428.0,821.9 428.2,818.0 428.4,814.6 428.6,812.4 428.8,810.4 429.0,811.1 429.2,813.4 429.4,815.7 429.6,820.5 429.8,822.2 430.0,824.7 430.2,826.6 430.4,828.1 430.6,828.7 430.8,828.3 431.0,828.5 431.2,829.3 431.4,826.7 431.6,828.3 431.8,824.8 432.0,822.7 432.2,822.4 432.4,820.1 432.6,819.4 432.8,820.4 433.0,823.3 433.2,824.6 433.4,827.3 433.6,828.1 433.8,829.3 434.0,830.4 434.2,829.7 434.4,830.0 434.6,831.1 434.8,830.0 435.0,829.4 435.2,831.6 435.4,831.6 435.6,831.3 435.8,829.7 436.0,830.0 436.2,831.6 436.4,831.5 436.6,833.4 436.8,834.0 437.0,831.7 437.2,831.6 437.4,832.1 437.6,830.2 437.8,831.2 438.0,830.3 438.2,830.6 438.4,831.6 438.6,830.9 438.8,831.1 439.0,832.2 439.2,832.1 439.4,833.6 439.6,831.9 439.8,831.3 440.0,831.3 440.2,830.4 440.4,832.5 440.6,832.6 440.8,831.7 441.0,830.7 441.2,831.0 441.4,831.7 441.6,830.7 441.8,831.9 442.0,829.5 442.2,830.0 442.4,829.4 442.6,831.8 442.8,831.3 443.0,830.1 443.2,830.4 443.4,832.1 443.6,830.6 443.8,830.8 444.0,831.0 444.2,831.5 444.4,830.0 444.6,831.3 444.8,831.2 445.0,830.2 445.2,829.8 445.4,829.9 445.6,827.9 445.8,827.1 446.0,824.9 446.2,824.8 446.4,823.4 446.6,822.1 446.8,822.6 447.0,824.0 447.2,825.7 447.4,827.9 447.6,830.0 447.8,830.1 448.0,829.3 448.2,829.7 448.4,830.3 448.6,829.2 448.8,828.9 449.0,829.6 449.2,830.7 449.4,830.5 449.6,831.1 449.8,830.6 450.0,830.5 450.2,831.6 450.4,831.8 450.6,832.5 450.8,832.6 451.0,832.2 451.2,830.8 451.4,831.2 451.6,831.4 451.8,829.8 452.0,829.5 452.2,828.4 452.4,828.0 452.6,828.1 452.8,827.8 453.0,827.7 453.2,827.6 453.4,830.3 453.6,831.2 453.8,830.4 454.0,831.5 454.2,832.3 454.4,833.3 454.6,831.4 454.8,831.1 455.0,833.2 455.2,832.7 455.4,832.5 455.6,831.2 455.8,831.3 456.0,830.5 456.2,831.3 456.4,828.6 456.6,827.3 456.8,828.1 457.0,827.7 457.2,826.4 457.4,827.2 457.6,826.2 457.8,826.8 458.0,828.1 458.2,828.2 458.4,829.1 458.6,828.7 458.8,830.4 459.0,829.8 459.2,830.7 459.4,830.6 459.6,831.7 459.8,831.0 460.0,832.3 460.2,832.8 460.4,831.7 460.6,832.1 460.8,831.3 461.0,830.8 461.2,830.6 461.4,830.0 461.6,832.4 461.8,833.1 462.0,831.1 462.2,832.2 462.4,832.1 462.6,830.4 462.8,829.9 463.0,829.0 463.2,828.4 463.4,828.8 463.6,826.8 463.8,825.2 464.0,823.8 464.2,823.0 464.4,822.1 464.6,823.7 464.8,826.2 465.0,827.1 465.2,829.5 465.4,831.4 465.6,828.7 465.8,830.1 466.0,831.2 466.2,830.9 466.4,830.5 466.6,830.8 466.8,829.2 467.0,829.4 467.2,829.1 467.4,829.6 467.6,830.0 467.8,831.7 468.0,830.7 468.2,830.6 468.4,831.7 468.6,831.3 468.8,830.9 469.0,831.7 469.2,832.9 469.4,832.4 469.6,831.7 469.8,831.4 470.0,830.4 470.2,832.7 470.4,832.1 470.6,832.9 470.8,832.3 471.0,831.0 471.2,831.7 471.4,830.9 471.6,831.5 471.8,833.5 472.0,832.3 472.2,830.9 472.4,831.6 472.6,830.7 472.8,832.5 473.0,830.2 473.2,831.6 473.4,831.2 473.6,830.3 473.8,831.1 474.0,832.0 474.2,830.5 474.4,829.4 474.6,831.1 474.8,831.3 475.0,830.0 475.2,829.5 475.4,829.4 475.6,830.2 475.8,830.4 476.0,830.0 476.2,829.2 476.4,829.8 476.6,828.7 476.8,829.6 477.0,829.3 477.2,827.7 477.4,827.9 477.6,827.5 477.8,827.6 478.0,825.9 478.2,825.7 478.4,821.6 478.6,816.3 478.8,812.6 479.0,808.9 479.2,805.8 479.4,803.2 479.6,806.9 479.8,808.6 480.0,809.8 480.2,816.3 480.4,820.3 480.6,822.8 480.8,826.8 481.0,828.7 481.2,828.9 481.4,828.2 481.6,829.6 481.8,828.5 482.0,829.8 482.2,831.7 482.4,830.8 482.6,831.3 482.8,830.7 483.0,831.0 483.2,830.3 483.4,831.1 483.6,830.9 483.8,830.2 484.0,828.6 484.2,828.1 484.4,826.8 484.6,825.7 484.8,825.1 485.0,824.1 485.2,822.2 485.4,823.2 485.6,822.0 485.8,825.1 486.0,825.6 486.2,827.5 486.4,828.9 486.6,828.5 486.8,828.4 487.0,830.5 487.2,831.6 487.4,829.4 487.6,829.7 487.8,830.9 488.0,831.2 488.2,831.1 488.4,830.6 488.6,830.7 488.8,831.6 489.0,831.2 489.2,830.1 489.4,829.8 489.6,831.4 489.8,829.6 490.0,830.1 490.2,829.6 490.4,830.0 490.6,830.6 490.8,831.4 491.0,831.4 491.2,831.3 491.4,831.6 491.6,831.8 491.8,830.9 492.0,832.0 492.2,832.2 492.4,831.9 492.6,831.1 492.8,830.7 493.0,831.1 493.2,831.5 493.4,829.9 493.6,829.7 493.8,830.1 494.0,828.9 494.2,829.3 494.4,829.1 494.6,827.4 494.8,828.2 495.0,826.3 495.2,828.1 495.4,829.9 495.6,830.0 495.8,830.6 496.0,830.5 496.2,831.2 496.4,830.7 496.6,830.3 496.8,830.8 497.0,831.3 497.2,831.5 497.4,830.0 497.6,829.8 497.8,831.6 498.0,830.2 498.2,830.2 498.4,831.4 498.6,831.0 498.8,829.8 499.0,830.7 499.2,830.8 499.4,831.2 499.6,829.6 499.8,827.6 500.0,826.9 500.2,827.6 500.4,827.3 500.6,828.4 500.8,829.0 501.0,831.6 501.2,831.1 501.4,830.5 501.6,828.4 501.8,830.3 502.0,830.4 502.2,829.5 502.4,829.1 502.6,831.7 502.8,832.1 503.0,830.5 503.2,830.5 503.4,830.0 503.6,829.5 503.8,830.2 504.0,832.0 504.2,832.1 504.4,831.0 504.6,830.8 504.8,832.6 505.0,830.6 505.2,830.3 505.4,830.9 505.6,832.7 505.8,831.7 506.0,832.0 506.2,831.7 506.4,831.5 506.6,831.8 506.8,832.8 507.0,833.3 507.2,831.7 507.4,831.9 507.6,829.8 507.8,831.6 508.0,831.1 508.2,830.1 508.4,831.2 508.6,832.7 508.8,831.2 509.0,831.6 509.2,831.6 509.4,831.8 509.6,833.0 509.8,832.2 510.0,831.8 510.2,832.3 510.4,831.2 510.6,831.5 510.8,832.5 511.0,831.2 511.2,830.8 511.4,830.4 511.6,830.6 511.8,832.1 512.0,832.0 512.2,831.5 512.4,830.2 512.6,829.5 512.8,828.0 513.0,827.8 513.2,829.7 513.4,829.9 513.6,830.1 513.8,829.4 514.0,830.3 514.2,829.5 514.4,829.4 514.6,830.2 514.8,831.2 515.0,833.6 515.2,832.7 515.4,832.5 515.6,832.0 515.8,832.7 516.0,833.1 516.2,832.5 516.4,832.3 516.6,833.2 516.8,831.9 517.0,831.8 517.2,831.5 517.4,831.0 517.6,830.5 517.8,832.2 518.0,831.3 518.2,831.2 518.4,831.1 518.6,831.8 518.8,830.7 519.0,832.4 519.2,830.6 519.4,831.0 519.6,831.3 519.8,832.1 520.0,832.6 520.2,831.4 520.4,832.3 520.6,831.7 520.8,833.0 521.0,832.3 521.2,831.8 521.4,830.1 521.6,829.7 521.8,831.1 522.0,831.1 522.2,830.5 522.4,830.5 522.6,831.6 522.8,830.7 523.0,831.9 523.2,830.6 523.4,830.0 523.6,827.8 523.8,828.7 524.0,828.0 524.2,827.3 524.4,825.8 524.6,825.9 524.8,825.8 525.0,828.0 525.2,827.2 525.4,828.7 525.6,832.4 525.8,832.9 526.0,831.5 526.2,830.4 526.4,830.7 526.6,831.0 526.8,831.1 527.0,830.8 527.2,831.8 527.4,832.7 527.6,831.0 527.8,831.4 528.0,832.4 528.2,832.4 528.4,831.9 528.6,830.7 528.8,830.2 529.0,831.2 529.2,831.0 529.4,831.8 529.6,830.4 529.8,830.6 530.0,832.3 530.2,829.8 530.4,832.3 530.6,831.9 530.8,832.0 531.0,830.8 531.2,829.8 531.4,831.4 531.6,830.7 531.8,831.7 532.0,832.9 532.2,831.8 532.4,830.6 532.6,830.3 532.8,829.9 533.0,831.2 533.2,833.0 533.4,832.3 533.6,829.4 533.8,830.0 534.0,831.2 534.2,831.6 534.4,830.4 534.6,831.1 534.8,830.9 535.0,830.1 535.2,830.6 535.4,829.5 535.6,830.5 535.8,830.7 536.0,830.9 536.2,832.8 536.4,833.8 536.6,831.5 536.8,830.2 537.0,829.4 537.2,830.9 537.4,831.8 537.6,833.6 537.8,831.0 538.0,829.4 538.2,832.1 538.4,831.8 538.6,830.1 538.8,832.6 539.0,832.2 539.2,832.3 539.4,830.7 539.6,830.8 539.8,830.9 540.0,832.1 540.2,832.2 540.4,831.6 540.6,829.7 540.8,831.8 541.0,830.8 541.2,830.8 541.4,830.7 541.6,831.3 541.8,831.7 542.0,832.6 542.2,832.3 542.4,830.7 542.6,830.0 542.8,830.4 543.0,830.7 543.2,831.9 543.4,830.6 543.6,830.2 543.8,830.1 544.0,830.2 544.2,830.8 544.4,830.3 544.6,830.8 544.8,829.5 545.0,828.7 545.2,827.9 545.4,826.6 545.6,824.3 545.8,820.7 546.0,819.2 546.2,819.7 546.4,820.1 546.6,820.9 546.8,821.7 547.0,824.2 547.2,827.1 547.4,827.6 547.6,829.0 547.8,829.2 548.0,828.8 548.2,828.7 548.4,828.2 548.6,829.1 548.8,829.7 549.0,831.6 549.2,832.7 549.4,830.4 549.6,830.8 549.8,831.9 550.0,833.0 550.2,831.1 550.4,832.9 550.6,832.0 550.8,832.8 551.0,831.4 551.2,832.1 551.4,833.6 551.6,832.8 551.8,833.3 552.0,833.3 552.2,832.1 552.4,832.7 552.6,831.7 552.8,831.9 553.0,832.6 553.2,831.5 553.4,832.4 553.6,831.1 553.8,832.1 554.0,831.5 554.2,831.7 554.4,831.3 554.6,832.8 554.8,833.5 555.0,831.0 555.2,830.8 555.4,830.2 555.6,830.6 555.8,830.3 556.0,831.5 556.2,830.2 556.4,829.8 556.6,828.7 556.8,828.8 557.0,829.2 557.2,829.7 557.4,829.5 557.6,828.8 557.8,830.9 558.0,831.9 558.2,831.7 558.4,831.0 558.6,831.1 558.8,831.1 559.0,831.8 559.2,830.3 559.4,829.6 559.6,830.5 559.8,831.1 560.0,832.2 560.2,832.4 560.4,832.6 560.6,830.8 560.8,830.3 561.0,832.8 561.2,831.3 561.4,829.5 561.6,830.7 561.8,831.4 562.0,831.4 562.2,831.3 562.4,832.2 562.6,831.0 562.8,831.4 563.0,831.7 563.2,833.2 563.4,832.6 563.6,831.3 563.8,831.8 564.0,832.1 564.2,833.0 564.4,832.2 564.6,831.4 564.8,831.2 565.0,832.3 565.2,830.6 565.4,829.8 565.6,830.1 565.8,830.5 566.0,828.7 566.2,830.2 566.4,830.8 566.6,830.0 566.8,829.9 567.0,831.2 567.2,831.0 567.4,830.8 567.6,832.3 567.8,833.1 568.0,831.5 568.2,830.5 568.4,831.1 568.6,830.6 568.8,831.6 569.0,831.5 569.2,831.8 569.4,831.8 569.6,833.0 569.8,833.1 570.0,831.7 570.2,831.8 570.4,831.0 570.6,830.9 570.8,832.9 571.0,833.6 571.2,832.7 571.4,832.5 571.6,831.8 571.8,831.9 572.0,831.6 572.2,831.1 572.4,832.0 572.6,831.7 572.8,831.3 573.0,831.7 573.2,832.2 573.4,832.4 573.6,831.8 573.8,832.3 574.0,831.3 574.2,831.2 574.4,830.6 574.6,831.2 574.8,830.5 575.0,830.6 575.2,830.8 575.4,831.3 575.6,830.6 575.8,831.7 576.0,832.0 576.2,829.1 576.4,830.9 576.6,831.9 576.8,831.9 577.0,828.9 577.2,831.8 577.4,833.5 577.6,830.3 577.8,829.6 578.0,829.9 578.2,829.1 578.4,830.0 578.6,830.8 578.8,831.4 579.0,831.0 579.2,831.3 579.4,832.3 579.6,833.0 579.8,832.6 580.0,831.4 580.2,832.1 580.4,831.8 580.6,832.2 580.8,831.6 581.0,831.7 581.2,831.9 581.4,832.8 581.6,832.3 581.8,832.3 582.0,831.3 582.2,830.6 582.4,831.4 582.6,830.7 582.8,831.2 583.0,830.4 583.2,829.9 583.4,828.7 583.6,830.0 583.8,829.7 584.0,829.8 584.2,829.8 584.4,830.2 584.6,829.8 584.8,827.8 585.0,829.0 585.2,830.0 585.4,830.4 585.6,830.7 585.8,829.4 586.0,830.4 586.2,830.6 586.4,832.7 586.6,832.8 586.8,833.4 587.0,831.2 587.2,832.2 587.4,831.9 587.6,831.5 587.8,832.6 588.0,831.3 588.2,830.8 588.4,831.0 588.6,832.2 588.8,832.2 589.0,830.7 589.2,831.1 589.4,831.6 589.6,832.4 589.8,833.3 590.0,833.2 590.2,832.2 590.4,832.1 590.6,832.5 590.8,831.1 591.0,830.8 591.2,832.1 591.4,832.2 591.6,831.5 591.8,831.2 592.0,831.6 592.2,831.8 592.4,830.5 592.6,829.5 592.8,830.7 593.0,831.3 593.2,830.0 593.4,831.5 593.6,830.9 593.8,831.5 594.0,831.0 594.2,831.5 594.4,830.1 594.6,830.1 594.8,831.2 595.0,830.6 595.2,829.6 595.4,831.6 595.6,831.8 595.8,831.4 596.0,830.7 596.2,831.7 596.4,831.7 596.6,831.2 596.8,830.7 597.0,830.5 597.2,831.1 597.4,829.2 597.6,830.1 597.8,828.7 598.0,828.9 598.2,830.1 598.4,830.9 598.6,831.4 598.8,830.6 599.0,829.8 599.2,830.0 599.4,832.7 599.6,831.3 599.8,830.3 600.0,832.4 600.2,831.8 600.4,830.7 600.6,831.0 600.8,832.5 601.0,832.2 601.2,832.3 601.4,830.6 601.6,831.8 601.8,830.8 602.0,831.4 602.2,831.2 602.4,831.3 602.6,830.8 602.8,830.2 603.0,829.6 603.2,830.5 603.4,829.6 603.6,831.3 603.8,829.8 604.0,829.2 604.2,831.2 604.4,830.6 604.6,829.9 604.8,832.1 605.0,831.2 605.2,832.5 605.4,832.2 605.6,832.0 605.8,830.5 606.0,830.8 606.2,831.9 606.4,832.1 606.6,831.6 606.8,832.2 607.0,832.4 607.2,833.0 607.4,833.0 607.6,831.0 607.8,831.9 608.0,832.3 608.2,831.8 608.4,831.1 608.6,831.2 608.8,832.5 609.0,833.4 609.2,832.8 609.4,832.7 609.6,832.2 609.8,832.4 610.0,830.6 610.2,830.8 610.4,831.8 610.6,832.8 610.8,830.4 611.0,830.3 611.2,829.8 611.4,831.2 611.6,831.9 611.8,831.0 612.0,830.8 612.2,830.9 612.4,829.9 612.6,830.2 612.8,829.8 613.0,830.4 613.2,830.4 613.4,827.6 613.6,826.9 613.8,827.0 614.0,824.6 614.2,823.3 614.4,822.4 614.6,822.7 614.8,822.6 615.0,822.0 615.2,823.6 615.4,826.3 615.6,828.5 615.8,829.9 616.0,829.9 616.2,829.8 616.4,830.4 616.6,828.7 616.8,829.8 617.0,831.1 617.2,831.6 617.4,832.4 617.6,831.2 617.8,831.3 618.0,830.9 618.2,829.5 618.4,829.6 618.6,831.9 618.8,830.7 619.0,831.7 619.2,832.3 619.4,829.5 619.6,831.7 619.8,832.7 620.0,831.1 620.2,832.8 620.4,832.6 620.6,831.9 620.8,828.9 621.0,830.3 621.2,830.4 621.4,830.8 621.6,831.0 621.8,831.9 622.0,829.9 622.2,831.3 622.4,833.1 622.6,832.5 622.8,831.3 623.0,830.6 623.2,830.0 623.4,828.8 623.6,828.9 623.8,830.3 624.0,831.4 624.2,829.2 624.4,828.4 624.6,826.9 624.8,825.2 625.0,822.9 625.2,824.6 625.4,824.4 625.6,826.0 625.8,826.5 626.0,826.7 626.2,828.7 626.4,828.0 626.6,830.2 626.8,831.5 627.0,832.4 627.2,833.0 627.4,832.8 627.6,831.9 627.8,831.5 628.0,830.5 628.2,833.4 628.4,834.1 628.6,833.3 628.8,831.6 629.0,831.9 629.2,830.6 629.4,832.8 629.6,833.4 629.8,832.2 630.0,832.4 630.2,832.6 630.4,832.6 630.6,832.6 630.8,831.8 631.0,831.5 631.2,831.2 631.4,832.4 631.6,832.3 631.8,832.9 632.0,832.0 632.2,831.6 632.4,831.5 632.6,830.8 632.8,830.7 633.0,830.8 633.2,831.8 633.4,832.1 633.6,831.6 633.8,831.0 634.0,832.3 634.2,832.5 634.4,832.7 634.6,833.4 634.8,831.4 635.0,832.9 635.2,831.3 635.4,831.5 635.6,830.9 635.8,831.9 636.0,832.2 636.2,833.1 636.4,832.3 636.6,832.0 636.8,830.9 637.0,831.7 637.2,832.3 637.4,829.9 637.6,831.7 637.8,832.2 638.0,831.1 638.2,832.7 638.4,832.8 638.6,832.1 638.8,834.4 639.0,834.0 639.2,832.0 639.4,832.5 639.6,831.9 639.8,831.2 640.0,831.3 640.2,831.1 640.4,831.0 640.6,831.6 640.8,831.7 641.0,831.1 641.2,832.4 641.4,829.4 641.6,830.8 641.8,832.8 642.0,833.0 642.2,832.4 642.4,831.2 642.6,830.9 642.8,830.6 643.0,833.9 643.2,832.3 643.4,832.4 643.6,833.2 643.8,832.1 644.0,833.1 644.2,831.9 644.4,832.4 644.6,833.9 644.8,832.3 645.0,833.3 645.2,833.0 645.4,832.5 645.6,832.2 645.8,833.0 646.0,831.0 646.2,831.1 646.4,832.5 646.6,831.7 646.8,833.1 647.0,833.4 647.2,832.4 647.4,831.5 647.6,830.8 647.8,832.7 648.0,831.7 648.2,832.3 648.4,831.5 648.6,831.6 648.8,831.7 649.0,831.7 649.2,832.6 649.4,832.8 649.6,833.0 649.8,831.5 650.0,832.6 650.2,831.3"/>
</g>
<g id="ticklabels" font-weight="bold" font-size="22.3" text-anchor="middle">
<text x="44.00" y="877.9">10</text>
<text x="144.90" y="877.9">20</text>
<text x="245.80" y="877.9">30</text>
<text x="346.70" y="877.9">40</text>
<text x="447.60" y="877.9">50</text>
<text x="548.50" y="877.9">60</text>
<text x="651.80" y="877.9">70</text>
</g>
<text x="264.6" y="913.7" font-weight="bold" font-size="32" textLength="168.3" lengthAdjust="spacingAndGlyphs">2θ (Degree)</text>
<text transform="translate(24.8,491.4) rotate(-90)" font-weight="bold" font-size="33" textLength="229.5" lengthAdjust="spacingAndGlyphs">Intensity (a.u.)</text>
<text transform="translate(48.20,39.90) scale(1.125,1.05)" font-weight="bold" font-size="29.5">(a)</text>
<text transform="translate(48.20,250.70) scale(1.125,1.05)" font-weight="bold" font-size="29.5">(b)</text>
<text transform="translate(50.60,458.50) scale(1.125,1.05)" font-weight="bold" font-size="29.5">(c)</text>
<text transform="translate(50.90,667.00) scale(1.125,1.05)" font-weight="bold" font-size="29.5">(d)</text>
<g id="legends">
<rect x="524.80" y="8.00" width="119.30" height="25.70" fill="#fff" stroke="#000" stroke-width="1.1"/>
<line x1="534.10" y1="21.20" x2="579.50" y2="21.20" stroke="#ff0000" stroke-width="1.3"/>
<text x="587.10" y="28.90" font-weight="bold" font-size="20" textLength="51.4" lengthAdjust="spacingAndGlyphs">THC0</text>
<rect x="524.40" y="218.20" width="118.60" height="24.50" fill="#fff" stroke="#000" stroke-width="1.1"/>
<line x1="534.10" y1="231.20" x2="578.60" y2="231.20" stroke="#00ff00" stroke-width="1.3"/>
<text x="586.50" y="238.30" font-weight="bold" font-size="20" textLength="52.0" lengthAdjust="spacingAndGlyphs">THC4</text>
<rect x="529.50" y="424.80" width="118.20" height="25.50" fill="#fff" stroke="#000" stroke-width="1.1"/>
<line x1="538.70" y1="438.20" x2="584.20" y2="438.20" stroke="#0000ff" stroke-width="1.3"/>
<text x="591.30" y="445.90" font-weight="bold" font-size="20" textLength="51.2" lengthAdjust="spacingAndGlyphs">THC8</text>
<rect x="514.50" y="635.30" width="130.00" height="26.20" fill="#fff" stroke="#000" stroke-width="1.1"/>
<line x1="524.70" y1="648.90" x2="570.20" y2="648.90" stroke="#ff00ff" stroke-width="1.3"/>
<text x="576.80" y="656.80" font-weight="bold" font-size="20" textLength="61.8" lengthAdjust="spacingAndGlyphs">THC12</text>
</g>
<g id="marks">
<svg x="44.70" y="369.00" width="16.0" height="22.50" overflow="hidden"><text transform="translate(1.95,17.22) scale(0.916,1)" font-size="25.4" stroke="#000" stroke-width="0.6">ϕ</text></svg>
<svg x="71.60" y="356.00" width="16.0" height="21.80" overflow="hidden"><text transform="translate(1.95,16.87) scale(0.916,1)" font-size="25.4" stroke="#000" stroke-width="0.6">ϕ</text></svg>
<svg x="106.40" y="356.60" width="16.0" height="21.80" overflow="hidden"><text transform="translate(1.95,16.87) scale(0.916,1)" font-size="25.4" stroke="#000" stroke-width="0.6">ϕ</text></svg>
<svg x="138.90" y="373.80" width="16.0" height="21.80" overflow="hidden"><text transform="translate(1.95,16.87) scale(0.916,1)" font-size="25.4" stroke="#000" stroke-width="0.6">ϕ</text></svg>
<svg x="155.10" y="368.30" width="16.0" height="21.70" overflow="hidden"><text transform="translate(1.95,16.82) scale(0.916,1)" font-size="25.4" stroke="#000" stroke-width="0.6">ϕ</text></svg>
<svg x="193.80" y="345.60" width="16.0" height="21.30" overflow="hidden"><text transform="translate(1.95,16.62) scale(0.916,1)" font-size="25.4" stroke="#000" stroke-width="0.6">ϕ</text></svg>
<svg x="203.50" y="372.20" width="16.0" height="21.80" overflow="hidden"><text transform="translate(1.95,16.87) scale(0.916,1)" font-size="25.4" stroke="#000" stroke-width="0.6">ϕ</text></svg>
<svg x="215.60" y="294.70" width="16.0" height="21.30" overflow="hidden"><text transform="translate(1.95,16.62) scale(0.916,1)" font-size="25.4" stroke="#000" stroke-width="0.6">ϕ</text></svg>
<svg x="233.50" y="366.10" width="16.0" height="20.60" overflow="hidden"><text transform="translate(1.95,16.27) scale(0.916,1)" font-size="25.4" stroke="#000" stroke-width="0.6">ϕ</text></svg>
<svg x="247.00" y="215.30" width="16.0" height="21.80" overflow="hidden"><text transform="translate(1.95,16.87) scale(0.916,1)" font-size="25.4" stroke="#000" stroke-width="0.6">ϕ</text></svg>
<svg x="262.50" y="352.30" width="16.0" height="21.10" overflow="hidden"><text transform="translate(1.95,16.52) scale(0.916,1)" font-size="25.4" stroke="#000" stroke-width="0.6">ϕ</text></svg>
<svg x="281.90" y="279.00" width="16.0" height="21.00" overflow="hidden"><text transform="translate(1.95,16.47) scale(0.916,1)" font-size="25.4" stroke="#000" stroke-width="0.6">ϕ</text></svg>
<svg x="294.50" y="370.20" width="16.0" height="21.40" overflow="hidden"><text transform="translate(1.95,16.67) scale(0.916,1)" font-size="25.4" stroke="#000" stroke-width="0.6">ϕ</text></svg>
<svg x="310.50" y="375.30" width="16.0" height="21.10" overflow="hidden"><text transform="translate(1.95,16.52) scale(0.916,1)" font-size="25.4" stroke="#000" stroke-width="0.6">ϕ</text></svg>
<svg x="336.00" y="373.00" width="16.0" height="21.00" overflow="hidden"><text transform="translate(1.95,16.47) scale(0.916,1)" font-size="25.4" stroke="#000" stroke-width="0.6">ϕ</text></svg>
<svg x="347.40" y="374.90" width="16.0" height="21.80" overflow="hidden"><text transform="translate(1.95,16.87) scale(0.916,1)" font-size="25.4" stroke="#000" stroke-width="0.6">ϕ</text></svg>
<svg x="357.50" y="377.10" width="16.0" height="20.90" overflow="hidden"><text transform="translate(1.95,16.42) scale(0.916,1)" font-size="25.4" stroke="#000" stroke-width="0.6">ϕ</text></svg>
<svg x="374.10" y="379.00" width="16.0" height="21.20" overflow="hidden"><text transform="translate(1.95,16.57) scale(0.916,1)" font-size="25.4" stroke="#000" stroke-width="0.6">ϕ</text></svg>
<svg x="384.40" y="374.10" width="16.0" height="21.20" overflow="hidden"><text transform="translate(1.95,16.57) scale(0.916,1)" font-size="25.4" stroke="#000" stroke-width="0.6">ϕ</text></svg>
<svg x="407.30" y="356.40" width="16.0" height="21.20" overflow="hidden"><text transform="translate(1.95,16.57) scale(0.916,1)" font-size="25.4" stroke="#000" stroke-width="0.6">ϕ</text></svg>
<svg x="422.30" y="368.10" width="16.0" height="21.20" overflow="hidden"><text transform="translate(1.95,16.57) scale(0.916,1)" font-size="25.4" stroke="#000" stroke-width="0.6">ϕ</text></svg>
<svg x="436.70" y="379.00" width="16.0" height="21.20" overflow="hidden"><text transform="translate(1.95,16.57) scale(0.916,1)" font-size="25.4" stroke="#000" stroke-width="0.6">ϕ</text></svg>
<svg x="453.90" y="374.90" width="16.0" height="21.80" overflow="hidden"><text transform="translate(1.95,16.87) scale(0.916,1)" font-size="25.4" stroke="#000" stroke-width="0.6">ϕ</text></svg>
<svg x="469.50" y="350.00" width="16.0" height="21.60" overflow="hidden"><text transform="translate(1.95,16.77) scale(0.916,1)" font-size="25.4" stroke="#000" stroke-width="0.6">ϕ</text></svg>
<svg x="477.20" y="373.20" width="16.0" height="21.70" overflow="hidden"><text transform="translate(1.95,16.82) scale(0.916,1)" font-size="25.4" stroke="#000" stroke-width="0.6">ϕ</text></svg>
<svg x="485.00" y="384.40" width="16.0" height="21.60" overflow="hidden"><text transform="translate(1.95,16.77) scale(0.916,1)" font-size="25.4" stroke="#000" stroke-width="0.6">ϕ</text></svg>
<svg x="495.10" y="387.70" width="16.0" height="22.10" overflow="hidden"><text transform="translate(1.95,17.02) scale(0.916,1)" font-size="25.4" stroke="#000" stroke-width="0.6">ϕ</text></svg>
<svg x="513.20" y="381.90" width="16.0" height="22.10" overflow="hidden"><text transform="translate(1.95,17.02) scale(0.916,1)" font-size="25.4" stroke="#000" stroke-width="0.6">ϕ</text></svg>
<svg x="535.90" y="374.20" width="16.0" height="22.10" overflow="hidden"><text transform="translate(1.95,17.02) scale(0.916,1)" font-size="25.4" stroke="#000" stroke-width="0.6">ϕ</text></svg>
<svg x="575.00" y="384.20" width="16.0" height="22.20" overflow="hidden"><text transform="translate(1.95,17.07) scale(0.916,1)" font-size="25.4" stroke="#000" stroke-width="0.6">ϕ</text></svg>
<svg x="45.60" y="574.10" width="16.0" height="21.10" overflow="hidden"><text transform="translate(1.95,16.52) scale(0.916,1)" font-size="25.4" stroke="#000" stroke-width="0.6">ϕ</text></svg>
<svg x="75.10" y="566.20" width="16.0" height="21.30" overflow="hidden"><text transform="translate(1.95,16.62) scale(0.916,1)" font-size="25.4" stroke="#000" stroke-width="0.6">ϕ</text></svg>
<svg x="107.50" y="574.10" width="16.0" height="21.10" overflow="hidden"><text transform="translate(1.95,16.52) scale(0.916,1)" font-size="25.4" stroke="#000" stroke-width="0.6">ϕ</text></svg>
<svg x="157.90" y="571.70" width="16.0" height="21.30" overflow="hidden"><text transform="translate(1.95,16.62) scale(0.916,1)" font-size="25.4" stroke="#000" stroke-width="0.6">ϕ</text></svg>
<svg x="195.20" y="553.10" width="16.0" height="21.30" overflow="hidden"><text transform="translate(1.95,16.62) scale(0.916,1)" font-size="25.4" stroke="#000" stroke-width="0.6">ϕ</text></svg>
<svg x="216.30" y="506.70" width="16.0" height="21.00" overflow="hidden"><text transform="translate(1.95,16.47) scale(0.916,1)" font-size="25.4" stroke="#000" stroke-width="0.6">ϕ</text></svg>
<svg x="236.10" y="576.10" width="16.0" height="21.10" overflow="hidden"><text transform="translate(1.95,16.52) scale(0.916,1)" font-size="25.4" stroke="#000" stroke-width="0.6">ϕ</text></svg>
<svg x="242.20" y="437.40" width="16.0" height="21.30" overflow="hidden"><text transform="translate(1.95,16.62) scale(0.916,1)" font-size="25.4" stroke="#000" stroke-width="0.6">ϕ</text></svg>
<svg x="264.00" y="545.40" width="16.0" height="21.10" overflow="hidden"><text transform="translate(1.95,16.52) scale(0.916,1)" font-size="25.4" stroke="#000" stroke-width="0.6">ϕ</text></svg>
<svg x="284.60" y="504.70" width="16.0" height="21.30" overflow="hidden"><text transform="translate(1.95,16.62) scale(0.916,1)" font-size="25.4" stroke="#000" stroke-width="0.6">ϕ</text></svg>
<svg x="296.20" y="578.60" width="16.0" height="21.00" overflow="hidden"><text transform="translate(1.95,16.47) scale(0.916,1)" font-size="25.4" stroke="#000" stroke-width="0.6">ϕ</text></svg>
<svg x="314.10" y="577.40" width="16.0" height="21.30" overflow="hidden"><text transform="translate(1.95,16.62) scale(0.916,1)" font-size="25.4" stroke="#000" stroke-width="0.6">ϕ</text></svg>
<svg x="339.20" y="571.30" width="16.0" height="21.20" overflow="hidden"><text transform="translate(1.95,16.57) scale(0.916,1)" font-size="25.4" stroke="#000" stroke-width="0.6">ϕ</text></svg>
<svg x="349.30" y="585.70" width="16.0" height="21.00" overflow="hidden"><text transform="translate(1.95,16.47) scale(0.916,1)" font-size="25.4" stroke="#000" stroke-width="0.6">ϕ</text></svg>
<svg x="360.20" y="580.80" width="16.0" height="21.20" overflow="hidden"><text transform="translate(1.95,16.57) scale(0.916,1)" font-size="25.4" stroke="#000" stroke-width="0.6">ϕ</text></svg>
<svg x="376.30" y="583.50" width="16.0" height="21.30" overflow="hidden"><text transform="translate(1.95,16.62) scale(0.916,1)" font-size="25.4" stroke="#000" stroke-width="0.6">ϕ</text></svg>
<svg x="387.20" y="583.50" width="16.0" height="21.30" overflow="hidden"><text transform="translate(1.95,16.62) scale(0.916,1)" font-size="25.4" stroke="#000" stroke-width="0.6">ϕ</text></svg>
<svg x="397.80" y="584.90" width="16.0" height="21.00" overflow="hidden"><text transform="translate(1.95,16.47) scale(0.916,1)" font-size="25.4" stroke="#000" stroke-width="0.6">ϕ</text></svg>
<svg x="410.90" y="553.60" width="16.0" height="21.20" overflow="hidden"><text transform="translate(1.95,16.57) scale(0.916,1)" font-size="25.4" stroke="#000" stroke-width="0.6">ϕ</text></svg>
<svg x="425.30" y="573.20" width="16.0" height="21.20" overflow="hidden"><text transform="translate(1.95,16.57) scale(0.916,1)" font-size="25.4" stroke="#000" stroke-width="0.6">ϕ</text></svg>
<svg x="440.30" y="586.80" width="16.0" height="21.20" overflow="hidden"><text transform="translate(1.95,16.57) scale(0.916,1)" font-size="25.4" stroke="#000" stroke-width="0.6">ϕ</text></svg>
<svg x="458.00" y="582.20" width="16.0" height="21.20" overflow="hidden"><text transform="translate(1.95,16.57) scale(0.916,1)" font-size="25.4" stroke="#000" stroke-width="0.6">ϕ</text></svg>
<svg x="473.00" y="526.80" width="16.0" height="21.60" overflow="hidden"><text transform="translate(1.95,16.77) scale(0.916,1)" font-size="25.4" stroke="#000" stroke-width="0.6">ϕ</text></svg>
<svg x="480.90" y="579.20" width="16.0" height="21.80" overflow="hidden"><text transform="translate(1.95,16.87) scale(0.916,1)" font-size="25.4" stroke="#000" stroke-width="0.6">ϕ</text></svg>
<svg x="491.60" y="590.50" width="16.0" height="21.50" overflow="hidden"><text transform="translate(1.95,16.72) scale(0.916,1)" font-size="25.4" stroke="#000" stroke-width="0.6">ϕ</text></svg>
<svg x="505.10" y="590.50" width="16.0" height="21.50" overflow="hidden"><text transform="translate(1.95,16.72) scale(0.916,1)" font-size="25.4" stroke="#000" stroke-width="0.6">ϕ</text></svg>
<svg x="517.20" y="589.90" width="16.0" height="21.30" overflow="hidden"><text transform="translate(1.95,16.62) scale(0.916,1)" font-size="25.4" stroke="#000" stroke-width="0.6">ϕ</text></svg>
<svg x="538.70" y="580.40" width="16.0" height="22.20" overflow="hidden"><text transform="translate(1.95,17.07) scale(0.916,1)" font-size="25.4" stroke="#000" stroke-width="0.6">ϕ</text></svg>
<svg x="577.00" y="591.90" width="16.0" height="22.20" overflow="hidden"><text transform="translate(1.95,17.07) scale(0.916,1)" font-size="25.4" stroke="#000" stroke-width="0.6">ϕ</text></svg>
<svg x="45.80" y="795.00" width="16.0" height="21.30" overflow="hidden"><text transform="translate(1.95,16.62) scale(0.916,1)" font-size="25.4" stroke="#000" stroke-width="0.6">ϕ</text></svg>
<svg x="73.20" y="784.90" width="16.0" height="21.00" overflow="hidden"><text transform="translate(1.95,16.47) scale(0.916,1)" font-size="25.4" stroke="#000" stroke-width="0.6">ϕ</text></svg>
<svg x="107.50" y="794.60" width="16.0" height="21.00" overflow="hidden"><text transform="translate(1.95,16.47) scale(0.916,1)" font-size="25.4" stroke="#000" stroke-width="0.6">ϕ</text></svg>
<svg x="157.90" y="794.60" width="16.0" height="21.00" overflow="hidden"><text transform="translate(1.95,16.47) scale(0.916,1)" font-size="25.4" stroke="#000" stroke-width="0.6">ϕ</text></svg>
<svg x="218.50" y="741.40" width="16.0" height="21.30" overflow="hidden"><text transform="translate(1.95,16.62) scale(0.916,1)" font-size="25.4" stroke="#000" stroke-width="0.6">ϕ</text></svg>
<svg x="236.10" y="795.30" width="16.0" height="21.10" overflow="hidden"><text transform="translate(1.95,16.52) scale(0.916,1)" font-size="25.4" stroke="#000" stroke-width="0.6">ϕ</text></svg>
<svg x="242.20" y="647.40" width="16.0" height="21.30" overflow="hidden"><text transform="translate(1.95,16.62) scale(0.916,1)" font-size="25.4" stroke="#000" stroke-width="0.6">ϕ</text></svg>
<svg x="262.80" y="783.00" width="16.0" height="21.30" overflow="hidden"><text transform="translate(1.95,16.62) scale(0.916,1)" font-size="25.4" stroke="#000" stroke-width="0.6">ϕ</text></svg>
<svg x="284.60" y="755.40" width="16.0" height="21.10" overflow="hidden"><text transform="translate(1.95,16.52) scale(0.916,1)" font-size="25.4" stroke="#000" stroke-width="0.6">ϕ</text></svg>
<svg x="296.20" y="788.60" width="16.0" height="21.00" overflow="hidden"><text transform="translate(1.95,16.47) scale(0.916,1)" font-size="25.4" stroke="#000" stroke-width="0.6">ϕ</text></svg>
<svg x="314.10" y="798.80" width="16.0" height="21.20" overflow="hidden"><text transform="translate(1.95,16.57) scale(0.916,1)" font-size="25.4" stroke="#000" stroke-width="0.6">ϕ</text></svg>
<svg x="338.70" y="793.50" width="16.0" height="21.30" overflow="hidden"><text transform="translate(1.95,16.62) scale(0.916,1)" font-size="25.4" stroke="#000" stroke-width="0.6">ϕ</text></svg>
<svg x="349.30" y="795.70" width="16.0" height="21.00" overflow="hidden"><text transform="translate(1.95,16.47) scale(0.916,1)" font-size="25.4" stroke="#000" stroke-width="0.6">ϕ</text></svg>
<svg x="360.20" y="790.80" width="16.0" height="21.20" overflow="hidden"><text transform="translate(1.95,16.57) scale(0.916,1)" font-size="25.4" stroke="#000" stroke-width="0.6">ϕ</text></svg>
<svg x="376.30" y="799.50" width="16.0" height="20.70" overflow="hidden"><text transform="translate(1.95,16.32) scale(0.916,1)" font-size="25.4" stroke="#000" stroke-width="0.6">ϕ</text></svg>
<svg x="387.20" y="799.50" width="16.0" height="20.70" overflow="hidden"><text transform="translate(1.95,16.32) scale(0.916,1)" font-size="25.4" stroke="#000" stroke-width="0.6">ϕ</text></svg>
<svg x="397.80" y="799.00" width="16.0" height="20.40" overflow="hidden"><text transform="translate(1.95,16.17) scale(0.916,1)" font-size="25.4" stroke="#000" stroke-width="0.6">ϕ</text></svg>
<svg x="410.90" y="776.60" width="16.0" height="21.00" overflow="hidden"><text transform="translate(1.95,16.47) scale(0.916,1)" font-size="25.4" stroke="#000" stroke-width="0.6">ϕ</text></svg>
<svg x="425.30" y="787.50" width="16.0" height="21.00" overflow="hidden"><text transform="translate(1.95,16.47) scale(0.916,1)" font-size="25.4" stroke="#000" stroke-width="0.6">ϕ</text></svg>
<svg x="440.30" y="796.80" width="16.0" height="21.20" overflow="hidden"><text transform="translate(1.95,16.57) scale(0.916,1)" font-size="25.4" stroke="#000" stroke-width="0.6">ϕ</text></svg>
<svg x="458.00" y="792.20" width="16.0" height="21.20" overflow="hidden"><text transform="translate(1.95,16.57) scale(0.916,1)" font-size="25.4" stroke="#000" stroke-width="0.6">ϕ</text></svg>
<svg x="471.60" y="774.50" width="16.0" height="21.50" overflow="hidden"><text transform="translate(1.95,16.72) scale(0.916,1)" font-size="25.4" stroke="#000" stroke-width="0.6">ϕ</text></svg>
<svg x="480.90" y="789.20" width="16.0" height="21.40" overflow="hidden"><text transform="translate(1.95,16.67) scale(0.916,1)" font-size="25.4" stroke="#000" stroke-width="0.6">ϕ</text></svg>
<svg x="491.60" y="800.50" width="16.0" height="20.70" overflow="hidden"><text transform="translate(1.95,16.32) scale(0.916,1)" font-size="25.4" stroke="#000" stroke-width="0.6">ϕ</text></svg>
<svg x="505.10" y="800.50" width="16.0" height="20.70" overflow="hidden"><text transform="translate(1.95,16.32) scale(0.916,1)" font-size="25.4" stroke="#000" stroke-width="0.6">ϕ</text></svg>
<svg x="517.20" y="799.90" width="16.0" height="20.70" overflow="hidden"><text transform="translate(1.95,16.32) scale(0.916,1)" font-size="25.4" stroke="#000" stroke-width="0.6">ϕ</text></svg>
<svg x="538.70" y="794.70" width="16.0" height="21.60" overflow="hidden"><text transform="translate(1.95,16.77) scale(0.916,1)" font-size="25.4" stroke="#000" stroke-width="0.6">ϕ</text></svg>
<svg x="576.10" y="801.90" width="16.0" height="21.60" overflow="hidden"><text transform="translate(1.95,16.77) scale(0.916,1)" font-size="25.4" stroke="#000" stroke-width="0.6">ϕ</text></svg>
<svg x="196.70" y="773.60" width="16.0" height="18.20" overflow="hidden"><text transform="translate(3.03,14.03) scale(0.911,1)" font-size="21.0" stroke="#000" stroke-width="0.6">ϕ</text></svg>
<line x1="603.40" y1="393.40" x2="603.40" y2="412.10" stroke="#000" stroke-width="1.5"/>
<line x1="619.20" y1="394.30" x2="619.20" y2="412.70" stroke="#000" stroke-width="1.5"/>
<line x1="608.50" y1="600.50" x2="608.50" y2="618.70" stroke="#000" stroke-width="1.5"/>
<line x1="617.20" y1="584.20" x2="617.20" y2="602.00" stroke="#000" stroke-width="1.5"/>
<line x1="603.90" y1="805.70" x2="603.90" y2="823.50" stroke="#000" stroke-width="1.5"/>
<line x1="618.00" y1="805.70" x2="618.00" y2="823.50" stroke="#000" stroke-width="1.5"/>
</g>
<g id="annot">
<svg x="476.60" y="40.40" width="16.0" height="22.60" overflow="hidden"><text transform="translate(1.95,17.27) scale(0.916,1)" font-size="25.4" stroke="#000" stroke-width="0.6">ϕ</text></svg>
<text x="497.6" y="58.4" font-size="18.2" textLength="35.6" lengthAdjust="spacingAndGlyphs" stroke="#000" stroke-width="0.25">TCP</text>
<text x="537.0" y="58.4" font-size="19.5" font-weight="bold" textLength="97.2" lengthAdjust="spacingAndGlyphs" stroke="#000" stroke-width="0.3">[00-009-0169]</text>
<svg x="477.80" y="250.00" width="16.0" height="21.80" overflow="hidden"><text transform="translate(1.95,16.87) scale(0.916,1)" font-size="25.4" stroke="#000" stroke-width="0.6">ϕ</text></svg>
<text x="499.0" y="267.2" font-size="17.6" textLength="36.4" lengthAdjust="spacingAndGlyphs" stroke="#000" stroke-width="0.25">TCP</text>
<text x="538.6" y="265.5" font-size="17" font-weight="bold" textLength="97.2" lengthAdjust="spacingAndGlyphs" stroke="#000" stroke-width="0.25">[00-009-0169]</text>
<line x1="477.8" y1="277.0" x2="477.8" y2="295.0" stroke="#000" stroke-width="1.3"/>
<text x="499.2" y="290.6" font-size="18" textLength="37.0" lengthAdjust="spacingAndGlyphs" stroke="#000" stroke-width="0.25">CuO</text>
<text x="537.3" y="290.6" font-size="16.8" font-weight="bold" textLength="98.6" lengthAdjust="spacingAndGlyphs" stroke="#000" stroke-width="0.25">[96-901-5823]</text>
</g>
<g id="hkl" font-size="18">
<text transform="translate(62.00,174.40) rotate(-90)" textLength="37.5" lengthAdjust="spacingAndGlyphs">(012)</text>
<text transform="translate(87.50,161.10) rotate(-90)" textLength="37.5" lengthAdjust="spacingAndGlyphs">(104)</text>
<text transform="translate(121.30,158.70) rotate(-90)" textLength="38.0" lengthAdjust="spacingAndGlyphs">(110)</text>
<text transform="translate(151.40,184.10) rotate(-90)" textLength="38.2" lengthAdjust="spacingAndGlyphs">(202)</text>
<text transform="translate(173.80,176.10) rotate(-90)" textLength="38.0" lengthAdjust="spacingAndGlyphs">(116)</text>
<text transform="translate(206.10,147.10) rotate(-90)" textLength="38.3" lengthAdjust="spacingAndGlyphs">(211)</text>
<text transform="translate(221.90,180.20) rotate(-90)" textLength="37.5" lengthAdjust="spacingAndGlyphs">(122)</text>
<text transform="translate(229.90,108.30) rotate(-90)" textLength="38.2" lengthAdjust="spacingAndGlyphs">(214)</text>
<text transform="translate(246.50,163.30) rotate(-90)" textLength="37.5" lengthAdjust="spacingAndGlyphs">(300)</text>
<text transform="translate(253.70,56.80) rotate(-90)" textLength="46.5" lengthAdjust="spacingAndGlyphs">(0210)</text>
<text transform="translate(279.00,156.00) rotate(-90)" textLength="37.5" lengthAdjust="spacingAndGlyphs">(128)</text>
<text transform="translate(297.20,90.60) rotate(-90)" textLength="37.5" lengthAdjust="spacingAndGlyphs">(220)</text>
<text transform="translate(313.90,177.30) rotate(-90)" textLength="47.2" lengthAdjust="spacingAndGlyphs">(2110)</text>
<text transform="translate(333.00,188.10) rotate(-90)" textLength="46.7" lengthAdjust="spacingAndGlyphs">(1211)</text>
<text transform="translate(352.20,181.80) rotate(-90)" textLength="46.1" lengthAdjust="spacingAndGlyphs">(1016)</text>
<text transform="translate(359.10,130.00) rotate(-90)" textLength="36.6" lengthAdjust="spacingAndGlyphs">(404)</text>
<text transform="translate(376.70,134.10) rotate(-90)" textLength="47.5" lengthAdjust="spacingAndGlyphs">(3012)</text>
<text transform="translate(399.60,183.10) rotate(-90)" textLength="37.1" lengthAdjust="spacingAndGlyphs">(048)</text>
<text transform="translate(418.10,165.40) rotate(-90)" textLength="47.5" lengthAdjust="spacingAndGlyphs">(4010)</text>
<text transform="translate(439.00,175.00) rotate(-90)" textLength="38.0" lengthAdjust="spacingAndGlyphs">(328)</text>
<text transform="translate(462.50,164.60) rotate(-90)" textLength="37.7" lengthAdjust="spacingAndGlyphs">(416)</text>
<text transform="translate(485.90,149.10) rotate(-90)" textLength="46.1" lengthAdjust="spacingAndGlyphs">(2020)</text>
<text transform="translate(553.20,185.00) rotate(-90)" textLength="37.1" lengthAdjust="spacingAndGlyphs">(517)</text>
</g>
<g id="arrows" stroke="#000" fill="#000" stroke-width="1.2">
<line x1="360.40" y1="130.30" x2="360.40" y2="173.00"/>
<path d="M360.40 179.00 L356.30 164.50 L360.40 168.50 L364.50 164.50 Z" stroke="none"/>
<line x1="367.60" y1="133.00" x2="367.60" y2="173.00"/>
<path d="M367.60 179.00 L363.50 164.50 L367.60 168.50 L371.70 164.50 Z" stroke="none"/>
<line x1="458.10" y1="167.60" x2="442.60" y2="177.88"/>
<path d="M437.60 181.20 L451.48 176.79 L446.18 175.51 L447.05 170.13 Z" stroke="none"/>
</g>
</svg>
</body></html>
